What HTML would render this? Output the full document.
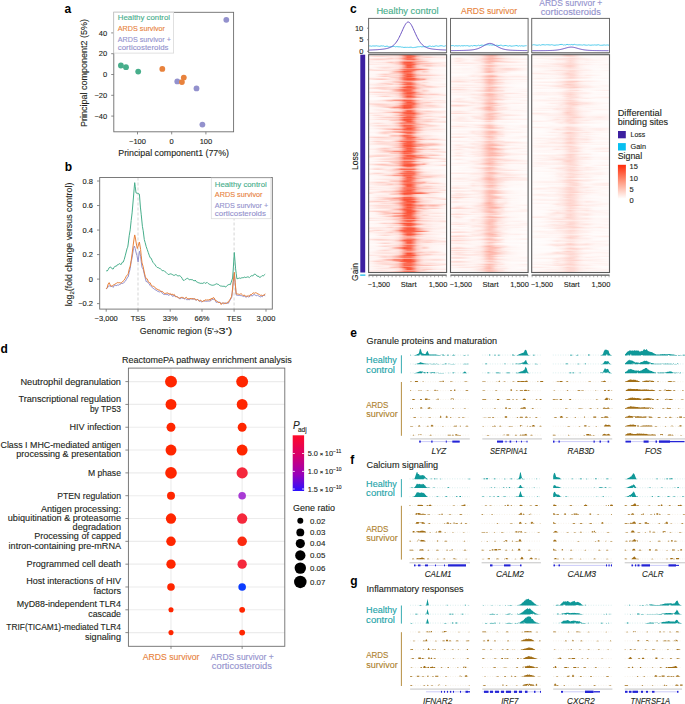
<!DOCTYPE html>
<html><head><meta charset="utf-8"><style>
html,body{margin:0;padding:0;background:#fff;}
svg{display:block;}
text{font-family:"Liberation Sans", sans-serif;stroke-width:0.12px;}
stop{stop-color:#fa2806;}
</style></head><body>
<svg width="685" height="704" viewBox="0 0 685 704" fill="#231f20">
<defs><linearGradient id="h0_0"><stop offset="0" stop-opacity="0.03"/><stop offset="0.04" stop-opacity="0.04"/><stop offset="0.08" stop-opacity="0.04"/><stop offset="0.12" stop-opacity="0.05"/><stop offset="0.17" stop-opacity="0.07"/><stop offset="0.21" stop-opacity="0.09"/><stop offset="0.25" stop-opacity="0.12"/><stop offset="0.29" stop-opacity="0.17"/><stop offset="0.33" stop-opacity="0.23"/><stop offset="0.38" stop-opacity="0.31"/><stop offset="0.42" stop-opacity="0.5"/><stop offset="0.46" stop-opacity="0.94"/><stop offset="0.5" stop-opacity="1"/><stop offset="0.54" stop-opacity="1"/><stop offset="0.58" stop-opacity="0.67"/><stop offset="0.62" stop-opacity="0.47"/><stop offset="0.67" stop-opacity="0.43"/><stop offset="0.71" stop-opacity="0.41"/><stop offset="0.75" stop-opacity="0.39"/><stop offset="0.79" stop-opacity="0.34"/><stop offset="0.83" stop-opacity="0.27"/><stop offset="0.88" stop-opacity="0.2"/><stop offset="0.92" stop-opacity="0.14"/><stop offset="0.96" stop-opacity="0.09"/><stop offset="1" stop-opacity="0.06"/></linearGradient>
<linearGradient id="h0_1"><stop offset="0" stop-opacity="0.03"/><stop offset="0.04" stop-opacity="0.04"/><stop offset="0.08" stop-opacity="0.04"/><stop offset="0.12" stop-opacity="0.04"/><stop offset="0.17" stop-opacity="0.05"/><stop offset="0.21" stop-opacity="0.06"/><stop offset="0.25" stop-opacity="0.08"/><stop offset="0.29" stop-opacity="0.28"/><stop offset="0.33" stop-opacity="0.35"/><stop offset="0.38" stop-opacity="0.36"/><stop offset="0.42" stop-opacity="0.62"/><stop offset="0.46" stop-opacity="0.99"/><stop offset="0.5" stop-opacity="1"/><stop offset="0.54" stop-opacity="0.85"/><stop offset="0.58" stop-opacity="0.45"/><stop offset="0.62" stop-opacity="0.24"/><stop offset="0.67" stop-opacity="0.18"/><stop offset="0.71" stop-opacity="0.17"/><stop offset="0.75" stop-opacity="0.15"/><stop offset="0.79" stop-opacity="0.12"/><stop offset="0.83" stop-opacity="0.08"/><stop offset="0.88" stop-opacity="0.06"/><stop offset="0.92" stop-opacity="0.04"/><stop offset="0.96" stop-opacity="0.04"/><stop offset="1" stop-opacity="0.03"/></linearGradient>
<linearGradient id="h0_2"><stop offset="0" stop-opacity="0.03"/><stop offset="0.04" stop-opacity="0.04"/><stop offset="0.08" stop-opacity="0.05"/><stop offset="0.12" stop-opacity="0.12"/><stop offset="0.17" stop-opacity="0.23"/><stop offset="0.21" stop-opacity="0.3"/><stop offset="0.25" stop-opacity="0.25"/><stop offset="0.29" stop-opacity="0.16"/><stop offset="0.33" stop-opacity="0.12"/><stop offset="0.38" stop-opacity="0.15"/><stop offset="0.42" stop-opacity="0.27"/><stop offset="0.46" stop-opacity="0.59"/><stop offset="0.5" stop-opacity="1"/><stop offset="0.54" stop-opacity="1"/><stop offset="0.58" stop-opacity="0.69"/><stop offset="0.62" stop-opacity="0.32"/><stop offset="0.67" stop-opacity="0.16"/><stop offset="0.71" stop-opacity="0.11"/><stop offset="0.75" stop-opacity="0.09"/><stop offset="0.79" stop-opacity="0.07"/><stop offset="0.83" stop-opacity="0.06"/><stop offset="0.88" stop-opacity="0.05"/><stop offset="0.92" stop-opacity="0.04"/><stop offset="0.96" stop-opacity="0.04"/><stop offset="1" stop-opacity="0.03"/></linearGradient>
<linearGradient id="h0_3"><stop offset="0" stop-opacity="0.07"/><stop offset="0.04" stop-opacity="0.09"/><stop offset="0.08" stop-opacity="0.1"/><stop offset="0.12" stop-opacity="0.12"/><stop offset="0.17" stop-opacity="0.13"/><stop offset="0.21" stop-opacity="0.15"/><stop offset="0.25" stop-opacity="0.25"/><stop offset="0.29" stop-opacity="0.33"/><stop offset="0.33" stop-opacity="0.22"/><stop offset="0.38" stop-opacity="0.3"/><stop offset="0.42" stop-opacity="0.54"/><stop offset="0.46" stop-opacity="0.89"/><stop offset="0.5" stop-opacity="1"/><stop offset="0.54" stop-opacity="1"/><stop offset="0.58" stop-opacity="0.71"/><stop offset="0.62" stop-opacity="0.39"/><stop offset="0.67" stop-opacity="0.2"/><stop offset="0.71" stop-opacity="0.12"/><stop offset="0.75" stop-opacity="0.08"/><stop offset="0.79" stop-opacity="0.07"/><stop offset="0.83" stop-opacity="0.06"/><stop offset="0.88" stop-opacity="0.07"/><stop offset="0.92" stop-opacity="0.08"/><stop offset="0.96" stop-opacity="0.09"/><stop offset="1" stop-opacity="0.08"/></linearGradient>
<linearGradient id="h0_4"><stop offset="0" stop-opacity="0.1"/><stop offset="0.04" stop-opacity="0.15"/><stop offset="0.08" stop-opacity="0.21"/><stop offset="0.12" stop-opacity="0.28"/><stop offset="0.17" stop-opacity="0.32"/><stop offset="0.21" stop-opacity="0.28"/><stop offset="0.25" stop-opacity="0.19"/><stop offset="0.29" stop-opacity="0.13"/><stop offset="0.33" stop-opacity="0.14"/><stop offset="0.38" stop-opacity="0.24"/><stop offset="0.42" stop-opacity="0.48"/><stop offset="0.46" stop-opacity="0.84"/><stop offset="0.5" stop-opacity="1"/><stop offset="0.54" stop-opacity="1"/><stop offset="0.58" stop-opacity="0.87"/><stop offset="0.62" stop-opacity="0.64"/><stop offset="0.67" stop-opacity="0.49"/><stop offset="0.71" stop-opacity="0.57"/><stop offset="0.75" stop-opacity="0.19"/><stop offset="0.79" stop-opacity="0.09"/><stop offset="0.83" stop-opacity="0.06"/><stop offset="0.88" stop-opacity="0.05"/><stop offset="0.92" stop-opacity="0.04"/><stop offset="0.96" stop-opacity="0.04"/><stop offset="1" stop-opacity="0.03"/></linearGradient>
<linearGradient id="h0_5"><stop offset="0" stop-opacity="0.06"/><stop offset="0.04" stop-opacity="0.13"/><stop offset="0.08" stop-opacity="0.22"/><stop offset="0.12" stop-opacity="0.26"/><stop offset="0.17" stop-opacity="0.21"/><stop offset="0.21" stop-opacity="0.14"/><stop offset="0.25" stop-opacity="0.11"/><stop offset="0.29" stop-opacity="0.15"/><stop offset="0.33" stop-opacity="0.28"/><stop offset="0.38" stop-opacity="0.53"/><stop offset="0.42" stop-opacity="0.91"/><stop offset="0.46" stop-opacity="1"/><stop offset="0.5" stop-opacity="1"/><stop offset="0.54" stop-opacity="1"/><stop offset="0.58" stop-opacity="0.92"/><stop offset="0.62" stop-opacity="0.46"/><stop offset="0.67" stop-opacity="0.19"/><stop offset="0.71" stop-opacity="0.1"/><stop offset="0.75" stop-opacity="0.07"/><stop offset="0.79" stop-opacity="0.06"/><stop offset="0.83" stop-opacity="0.05"/><stop offset="0.88" stop-opacity="0.04"/><stop offset="0.92" stop-opacity="0.04"/><stop offset="0.96" stop-opacity="0.03"/><stop offset="1" stop-opacity="0.03"/></linearGradient>
<linearGradient id="h0_6"><stop offset="0" stop-opacity="0.04"/><stop offset="0.04" stop-opacity="0.05"/><stop offset="0.08" stop-opacity="0.08"/><stop offset="0.12" stop-opacity="0.12"/><stop offset="0.17" stop-opacity="0.15"/><stop offset="0.21" stop-opacity="0.17"/><stop offset="0.25" stop-opacity="0.17"/><stop offset="0.29" stop-opacity="0.16"/><stop offset="0.33" stop-opacity="0.15"/><stop offset="0.38" stop-opacity="0.17"/><stop offset="0.42" stop-opacity="0.3"/><stop offset="0.46" stop-opacity="0.63"/><stop offset="0.5" stop-opacity="1"/><stop offset="0.54" stop-opacity="1"/><stop offset="0.58" stop-opacity="0.69"/><stop offset="0.62" stop-opacity="0.33"/><stop offset="0.67" stop-opacity="0.16"/><stop offset="0.71" stop-opacity="0.11"/><stop offset="0.75" stop-opacity="0.09"/><stop offset="0.79" stop-opacity="0.07"/><stop offset="0.83" stop-opacity="0.06"/><stop offset="0.88" stop-opacity="0.05"/><stop offset="0.92" stop-opacity="0.04"/><stop offset="0.96" stop-opacity="0.04"/><stop offset="1" stop-opacity="0.03"/></linearGradient>
<linearGradient id="h0_7"><stop offset="0" stop-opacity="0.03"/><stop offset="0.04" stop-opacity="0.03"/><stop offset="0.08" stop-opacity="0.04"/><stop offset="0.12" stop-opacity="0.04"/><stop offset="0.17" stop-opacity="0.06"/><stop offset="0.21" stop-opacity="0.08"/><stop offset="0.25" stop-opacity="0.12"/><stop offset="0.29" stop-opacity="0.17"/><stop offset="0.33" stop-opacity="0.2"/><stop offset="0.38" stop-opacity="0.26"/><stop offset="0.42" stop-opacity="0.45"/><stop offset="0.46" stop-opacity="0.8"/><stop offset="0.5" stop-opacity="1"/><stop offset="0.54" stop-opacity="1"/><stop offset="0.58" stop-opacity="0.7"/><stop offset="0.62" stop-opacity="0.36"/><stop offset="0.67" stop-opacity="0.18"/><stop offset="0.71" stop-opacity="0.11"/><stop offset="0.75" stop-opacity="0.08"/><stop offset="0.79" stop-opacity="0.07"/><stop offset="0.83" stop-opacity="0.05"/><stop offset="0.88" stop-opacity="0.05"/><stop offset="0.92" stop-opacity="0.04"/><stop offset="0.96" stop-opacity="0.04"/><stop offset="1" stop-opacity="0.03"/></linearGradient>
<linearGradient id="h0_8"><stop offset="0" stop-opacity="0.04"/><stop offset="0.04" stop-opacity="0.06"/><stop offset="0.08" stop-opacity="0.1"/><stop offset="0.12" stop-opacity="0.15"/><stop offset="0.17" stop-opacity="0.22"/><stop offset="0.21" stop-opacity="0.27"/><stop offset="0.25" stop-opacity="0.29"/><stop offset="0.29" stop-opacity="0.29"/><stop offset="0.33" stop-opacity="0.29"/><stop offset="0.38" stop-opacity="0.39"/><stop offset="0.42" stop-opacity="0.64"/><stop offset="0.46" stop-opacity="0.98"/><stop offset="0.5" stop-opacity="1"/><stop offset="0.54" stop-opacity="1"/><stop offset="0.58" stop-opacity="0.88"/><stop offset="0.62" stop-opacity="0.5"/><stop offset="0.67" stop-opacity="0.23"/><stop offset="0.71" stop-opacity="0.11"/><stop offset="0.75" stop-opacity="0.08"/><stop offset="0.79" stop-opacity="0.07"/><stop offset="0.83" stop-opacity="0.08"/><stop offset="0.88" stop-opacity="0.11"/><stop offset="0.92" stop-opacity="0.15"/><stop offset="0.96" stop-opacity="0.2"/><stop offset="1" stop-opacity="0.21"/></linearGradient>
<linearGradient id="h0_9"><stop offset="0" stop-opacity="0.15"/><stop offset="0.04" stop-opacity="0.21"/><stop offset="0.08" stop-opacity="0.26"/><stop offset="0.12" stop-opacity="0.28"/><stop offset="0.17" stop-opacity="0.27"/><stop offset="0.21" stop-opacity="0.24"/><stop offset="0.25" stop-opacity="0.2"/><stop offset="0.29" stop-opacity="0.17"/><stop offset="0.33" stop-opacity="0.15"/><stop offset="0.38" stop-opacity="0.19"/><stop offset="0.42" stop-opacity="0.33"/><stop offset="0.46" stop-opacity="0.67"/><stop offset="0.5" stop-opacity="1"/><stop offset="0.54" stop-opacity="1"/><stop offset="0.58" stop-opacity="1"/><stop offset="0.62" stop-opacity="0.56"/><stop offset="0.67" stop-opacity="0.28"/><stop offset="0.71" stop-opacity="0.17"/><stop offset="0.75" stop-opacity="0.13"/><stop offset="0.79" stop-opacity="0.1"/><stop offset="0.83" stop-opacity="0.07"/><stop offset="0.88" stop-opacity="0.06"/><stop offset="0.92" stop-opacity="0.05"/><stop offset="0.96" stop-opacity="0.04"/><stop offset="1" stop-opacity="0.03"/></linearGradient>
<linearGradient id="h0_10"><stop offset="0" stop-opacity="0.03"/><stop offset="0.04" stop-opacity="0.03"/><stop offset="0.08" stop-opacity="0.04"/><stop offset="0.12" stop-opacity="0.04"/><stop offset="0.17" stop-opacity="0.05"/><stop offset="0.21" stop-opacity="0.05"/><stop offset="0.25" stop-opacity="0.07"/><stop offset="0.29" stop-opacity="0.08"/><stop offset="0.33" stop-opacity="0.13"/><stop offset="0.38" stop-opacity="0.26"/><stop offset="0.42" stop-opacity="0.48"/><stop offset="0.46" stop-opacity="0.75"/><stop offset="0.5" stop-opacity="1"/><stop offset="0.54" stop-opacity="1"/><stop offset="0.58" stop-opacity="0.66"/><stop offset="0.62" stop-opacity="0.33"/><stop offset="0.67" stop-opacity="0.23"/><stop offset="0.71" stop-opacity="0.21"/><stop offset="0.75" stop-opacity="0.19"/><stop offset="0.79" stop-opacity="0.16"/><stop offset="0.83" stop-opacity="0.14"/><stop offset="0.88" stop-opacity="0.14"/><stop offset="0.92" stop-opacity="0.16"/><stop offset="0.96" stop-opacity="0.18"/><stop offset="1" stop-opacity="0.17"/></linearGradient>
<linearGradient id="h0_11"><stop offset="0" stop-opacity="0.05"/><stop offset="0.04" stop-opacity="0.08"/><stop offset="0.08" stop-opacity="0.12"/><stop offset="0.12" stop-opacity="0.17"/><stop offset="0.17" stop-opacity="0.2"/><stop offset="0.21" stop-opacity="0.2"/><stop offset="0.25" stop-opacity="0.18"/><stop offset="0.29" stop-opacity="0.16"/><stop offset="0.33" stop-opacity="0.19"/><stop offset="0.38" stop-opacity="0.32"/><stop offset="0.42" stop-opacity="0.6"/><stop offset="0.46" stop-opacity="0.97"/><stop offset="0.5" stop-opacity="1"/><stop offset="0.54" stop-opacity="1"/><stop offset="0.58" stop-opacity="0.67"/><stop offset="0.62" stop-opacity="0.37"/><stop offset="0.67" stop-opacity="0.22"/><stop offset="0.71" stop-opacity="0.19"/><stop offset="0.75" stop-opacity="0.22"/><stop offset="0.79" stop-opacity="0.23"/><stop offset="0.83" stop-opacity="0.2"/><stop offset="0.88" stop-opacity="0.13"/><stop offset="0.92" stop-opacity="0.08"/><stop offset="0.96" stop-opacity="0.05"/><stop offset="1" stop-opacity="0.03"/></linearGradient>
<linearGradient id="h0_12"><stop offset="0" stop-opacity="0.08"/><stop offset="0.04" stop-opacity="0.11"/><stop offset="0.08" stop-opacity="0.14"/><stop offset="0.12" stop-opacity="0.17"/><stop offset="0.17" stop-opacity="0.19"/><stop offset="0.21" stop-opacity="0.19"/><stop offset="0.25" stop-opacity="0.19"/><stop offset="0.29" stop-opacity="0.18"/><stop offset="0.33" stop-opacity="0.19"/><stop offset="0.38" stop-opacity="0.25"/><stop offset="0.42" stop-opacity="0.45"/><stop offset="0.46" stop-opacity="0.8"/><stop offset="0.5" stop-opacity="1"/><stop offset="0.54" stop-opacity="1"/><stop offset="0.58" stop-opacity="0.82"/><stop offset="0.62" stop-opacity="0.6"/><stop offset="0.67" stop-opacity="0.61"/><stop offset="0.71" stop-opacity="0.43"/><stop offset="0.75" stop-opacity="0.31"/><stop offset="0.79" stop-opacity="0.36"/><stop offset="0.83" stop-opacity="0.38"/><stop offset="0.88" stop-opacity="0.3"/><stop offset="0.92" stop-opacity="0.18"/><stop offset="0.96" stop-opacity="0.09"/><stop offset="1" stop-opacity="0.05"/></linearGradient>
<linearGradient id="h0_13"><stop offset="0" stop-opacity="0.03"/><stop offset="0.04" stop-opacity="0.04"/><stop offset="0.08" stop-opacity="0.05"/><stop offset="0.12" stop-opacity="0.08"/><stop offset="0.17" stop-opacity="0.14"/><stop offset="0.21" stop-opacity="0.24"/><stop offset="0.25" stop-opacity="0.34"/><stop offset="0.29" stop-opacity="0.4"/><stop offset="0.33" stop-opacity="0.62"/><stop offset="0.38" stop-opacity="0.69"/><stop offset="0.42" stop-opacity="0.71"/><stop offset="0.46" stop-opacity="1"/><stop offset="0.5" stop-opacity="1"/><stop offset="0.54" stop-opacity="1"/><stop offset="0.58" stop-opacity="0.73"/><stop offset="0.62" stop-opacity="0.42"/><stop offset="0.67" stop-opacity="0.22"/><stop offset="0.71" stop-opacity="0.14"/><stop offset="0.75" stop-opacity="0.13"/><stop offset="0.79" stop-opacity="0.14"/><stop offset="0.83" stop-opacity="0.16"/><stop offset="0.88" stop-opacity="0.16"/><stop offset="0.92" stop-opacity="0.14"/><stop offset="0.96" stop-opacity="0.1"/><stop offset="1" stop-opacity="0.06"/></linearGradient>
<linearGradient id="h0_14"><stop offset="0" stop-opacity="0.03"/><stop offset="0.04" stop-opacity="0.03"/><stop offset="0.08" stop-opacity="0.04"/><stop offset="0.12" stop-opacity="0.04"/><stop offset="0.17" stop-opacity="0.05"/><stop offset="0.21" stop-opacity="0.06"/><stop offset="0.25" stop-opacity="0.07"/><stop offset="0.29" stop-opacity="0.09"/><stop offset="0.33" stop-opacity="0.12"/><stop offset="0.38" stop-opacity="0.19"/><stop offset="0.42" stop-opacity="0.39"/><stop offset="0.46" stop-opacity="0.77"/><stop offset="0.5" stop-opacity="1"/><stop offset="0.54" stop-opacity="1"/><stop offset="0.58" stop-opacity="0.92"/><stop offset="0.62" stop-opacity="0.63"/><stop offset="0.67" stop-opacity="0.43"/><stop offset="0.71" stop-opacity="0.25"/><stop offset="0.75" stop-opacity="0.16"/><stop offset="0.79" stop-opacity="0.13"/><stop offset="0.83" stop-opacity="0.1"/><stop offset="0.88" stop-opacity="0.08"/><stop offset="0.92" stop-opacity="0.06"/><stop offset="0.96" stop-opacity="0.04"/><stop offset="1" stop-opacity="0.04"/></linearGradient>
<linearGradient id="h0_15"><stop offset="0" stop-opacity="0.03"/><stop offset="0.04" stop-opacity="0.03"/><stop offset="0.08" stop-opacity="0.04"/><stop offset="0.12" stop-opacity="0.04"/><stop offset="0.17" stop-opacity="0.05"/><stop offset="0.21" stop-opacity="0.05"/><stop offset="0.25" stop-opacity="0.07"/><stop offset="0.29" stop-opacity="0.08"/><stop offset="0.33" stop-opacity="0.1"/><stop offset="0.38" stop-opacity="0.14"/><stop offset="0.42" stop-opacity="0.22"/><stop offset="0.46" stop-opacity="0.51"/><stop offset="0.5" stop-opacity="1"/><stop offset="0.54" stop-opacity="1"/><stop offset="0.58" stop-opacity="0.62"/><stop offset="0.62" stop-opacity="0.28"/><stop offset="0.67" stop-opacity="0.19"/><stop offset="0.71" stop-opacity="0.24"/><stop offset="0.75" stop-opacity="0.29"/><stop offset="0.79" stop-opacity="0.26"/><stop offset="0.83" stop-opacity="0.17"/><stop offset="0.88" stop-opacity="0.12"/><stop offset="0.92" stop-opacity="0.11"/><stop offset="0.96" stop-opacity="0.11"/><stop offset="1" stop-opacity="0.11"/></linearGradient>
<linearGradient id="h0_16"><stop offset="0" stop-opacity="0.04"/><stop offset="0.04" stop-opacity="0.05"/><stop offset="0.08" stop-opacity="0.06"/><stop offset="0.12" stop-opacity="0.1"/><stop offset="0.17" stop-opacity="0.21"/><stop offset="0.21" stop-opacity="0.27"/><stop offset="0.25" stop-opacity="0.23"/><stop offset="0.29" stop-opacity="0.27"/><stop offset="0.33" stop-opacity="0.39"/><stop offset="0.38" stop-opacity="0.56"/><stop offset="0.42" stop-opacity="0.8"/><stop offset="0.46" stop-opacity="1"/><stop offset="0.5" stop-opacity="1"/><stop offset="0.54" stop-opacity="1"/><stop offset="0.58" stop-opacity="0.68"/><stop offset="0.62" stop-opacity="0.35"/><stop offset="0.67" stop-opacity="0.18"/><stop offset="0.71" stop-opacity="0.11"/><stop offset="0.75" stop-opacity="0.08"/><stop offset="0.79" stop-opacity="0.06"/><stop offset="0.83" stop-opacity="0.05"/><stop offset="0.88" stop-opacity="0.05"/><stop offset="0.92" stop-opacity="0.04"/><stop offset="0.96" stop-opacity="0.04"/><stop offset="1" stop-opacity="0.03"/></linearGradient>
<linearGradient id="h0_17"><stop offset="0" stop-opacity="0.03"/><stop offset="0.04" stop-opacity="0.04"/><stop offset="0.08" stop-opacity="0.04"/><stop offset="0.12" stop-opacity="0.04"/><stop offset="0.17" stop-opacity="0.05"/><stop offset="0.21" stop-opacity="0.06"/><stop offset="0.25" stop-opacity="0.08"/><stop offset="0.29" stop-opacity="0.15"/><stop offset="0.33" stop-opacity="0.32"/><stop offset="0.38" stop-opacity="0.51"/><stop offset="0.42" stop-opacity="0.7"/><stop offset="0.46" stop-opacity="1"/><stop offset="0.5" stop-opacity="1"/><stop offset="0.54" stop-opacity="0.93"/><stop offset="0.58" stop-opacity="0.51"/><stop offset="0.62" stop-opacity="0.25"/><stop offset="0.67" stop-opacity="0.17"/><stop offset="0.71" stop-opacity="0.27"/><stop offset="0.75" stop-opacity="0.2"/><stop offset="0.79" stop-opacity="0.07"/><stop offset="0.83" stop-opacity="0.05"/><stop offset="0.88" stop-opacity="0.04"/><stop offset="0.92" stop-opacity="0.04"/><stop offset="0.96" stop-opacity="0.03"/><stop offset="1" stop-opacity="0.03"/></linearGradient>
<linearGradient id="h0_18"><stop offset="0" stop-opacity="0.19"/><stop offset="0.04" stop-opacity="0.14"/><stop offset="0.08" stop-opacity="0.07"/><stop offset="0.12" stop-opacity="0.05"/><stop offset="0.17" stop-opacity="0.05"/><stop offset="0.21" stop-opacity="0.07"/><stop offset="0.25" stop-opacity="0.09"/><stop offset="0.29" stop-opacity="0.13"/><stop offset="0.33" stop-opacity="0.21"/><stop offset="0.38" stop-opacity="0.38"/><stop offset="0.42" stop-opacity="0.69"/><stop offset="0.46" stop-opacity="1"/><stop offset="0.5" stop-opacity="1"/><stop offset="0.54" stop-opacity="1"/><stop offset="0.58" stop-opacity="1"/><stop offset="0.62" stop-opacity="1"/><stop offset="0.67" stop-opacity="0.89"/><stop offset="0.71" stop-opacity="0.73"/><stop offset="0.75" stop-opacity="0.48"/><stop offset="0.79" stop-opacity="0.17"/><stop offset="0.83" stop-opacity="0.09"/><stop offset="0.88" stop-opacity="0.06"/><stop offset="0.92" stop-opacity="0.05"/><stop offset="0.96" stop-opacity="0.04"/><stop offset="1" stop-opacity="0.03"/></linearGradient>
<linearGradient id="h0_19"><stop offset="0" stop-opacity="0.14"/><stop offset="0.04" stop-opacity="0.14"/><stop offset="0.08" stop-opacity="0.13"/><stop offset="0.12" stop-opacity="0.12"/><stop offset="0.17" stop-opacity="0.11"/><stop offset="0.21" stop-opacity="0.1"/><stop offset="0.25" stop-opacity="0.09"/><stop offset="0.29" stop-opacity="0.11"/><stop offset="0.33" stop-opacity="0.15"/><stop offset="0.38" stop-opacity="0.27"/><stop offset="0.42" stop-opacity="0.5"/><stop offset="0.46" stop-opacity="0.84"/><stop offset="0.5" stop-opacity="1"/><stop offset="0.54" stop-opacity="1"/><stop offset="0.58" stop-opacity="1"/><stop offset="0.62" stop-opacity="0.57"/><stop offset="0.67" stop-opacity="0.3"/><stop offset="0.71" stop-opacity="0.22"/><stop offset="0.75" stop-opacity="0.18"/><stop offset="0.79" stop-opacity="0.14"/><stop offset="0.83" stop-opacity="0.1"/><stop offset="0.88" stop-opacity="0.08"/><stop offset="0.92" stop-opacity="0.09"/><stop offset="0.96" stop-opacity="0.08"/><stop offset="1" stop-opacity="0.05"/></linearGradient>
<linearGradient id="h1_0"><stop offset="0" stop-opacity="0.02"/><stop offset="0.04" stop-opacity="0.02"/><stop offset="0.08" stop-opacity="0.02"/><stop offset="0.12" stop-opacity="0.02"/><stop offset="0.17" stop-opacity="0.03"/><stop offset="0.21" stop-opacity="0.04"/><stop offset="0.25" stop-opacity="0.08"/><stop offset="0.29" stop-opacity="0.12"/><stop offset="0.33" stop-opacity="0.12"/><stop offset="0.38" stop-opacity="0.12"/><stop offset="0.42" stop-opacity="0.16"/><stop offset="0.46" stop-opacity="0.23"/><stop offset="0.5" stop-opacity="0.31"/><stop offset="0.54" stop-opacity="0.32"/><stop offset="0.58" stop-opacity="0.25"/><stop offset="0.62" stop-opacity="0.17"/><stop offset="0.67" stop-opacity="0.14"/><stop offset="0.71" stop-opacity="0.15"/><stop offset="0.75" stop-opacity="0.12"/><stop offset="0.79" stop-opacity="0.09"/><stop offset="0.83" stop-opacity="0.09"/><stop offset="0.88" stop-opacity="0.09"/><stop offset="0.92" stop-opacity="0.09"/><stop offset="0.96" stop-opacity="0.08"/><stop offset="1" stop-opacity="0.07"/></linearGradient>
<linearGradient id="h1_1"><stop offset="0" stop-opacity="0.05"/><stop offset="0.04" stop-opacity="0.07"/><stop offset="0.08" stop-opacity="0.1"/><stop offset="0.12" stop-opacity="0.13"/><stop offset="0.17" stop-opacity="0.14"/><stop offset="0.21" stop-opacity="0.15"/><stop offset="0.25" stop-opacity="0.14"/><stop offset="0.29" stop-opacity="0.13"/><stop offset="0.33" stop-opacity="0.11"/><stop offset="0.38" stop-opacity="0.1"/><stop offset="0.42" stop-opacity="0.14"/><stop offset="0.46" stop-opacity="0.26"/><stop offset="0.5" stop-opacity="0.33"/><stop offset="0.54" stop-opacity="0.23"/><stop offset="0.58" stop-opacity="0.11"/><stop offset="0.62" stop-opacity="0.06"/><stop offset="0.67" stop-opacity="0.05"/><stop offset="0.71" stop-opacity="0.04"/><stop offset="0.75" stop-opacity="0.03"/><stop offset="0.79" stop-opacity="0.03"/><stop offset="0.83" stop-opacity="0.03"/><stop offset="0.88" stop-opacity="0.02"/><stop offset="0.92" stop-opacity="0.02"/><stop offset="0.96" stop-opacity="0.02"/><stop offset="1" stop-opacity="0.02"/></linearGradient>
<linearGradient id="h1_2"><stop offset="0" stop-opacity="0.04"/><stop offset="0.04" stop-opacity="0.04"/><stop offset="0.08" stop-opacity="0.04"/><stop offset="0.12" stop-opacity="0.04"/><stop offset="0.17" stop-opacity="0.04"/><stop offset="0.21" stop-opacity="0.04"/><stop offset="0.25" stop-opacity="0.04"/><stop offset="0.29" stop-opacity="0.05"/><stop offset="0.33" stop-opacity="0.07"/><stop offset="0.38" stop-opacity="0.11"/><stop offset="0.42" stop-opacity="0.2"/><stop offset="0.46" stop-opacity="0.34"/><stop offset="0.5" stop-opacity="0.41"/><stop offset="0.54" stop-opacity="0.3"/><stop offset="0.58" stop-opacity="0.17"/><stop offset="0.62" stop-opacity="0.12"/><stop offset="0.67" stop-opacity="0.13"/><stop offset="0.71" stop-opacity="0.12"/><stop offset="0.75" stop-opacity="0.06"/><stop offset="0.79" stop-opacity="0.03"/><stop offset="0.83" stop-opacity="0.03"/><stop offset="0.88" stop-opacity="0.02"/><stop offset="0.92" stop-opacity="0.02"/><stop offset="0.96" stop-opacity="0.02"/><stop offset="1" stop-opacity="0.02"/></linearGradient>
<linearGradient id="h1_3"><stop offset="0" stop-opacity="0.02"/><stop offset="0.04" stop-opacity="0.02"/><stop offset="0.08" stop-opacity="0.02"/><stop offset="0.12" stop-opacity="0.03"/><stop offset="0.17" stop-opacity="0.03"/><stop offset="0.21" stop-opacity="0.03"/><stop offset="0.25" stop-opacity="0.08"/><stop offset="0.29" stop-opacity="0.13"/><stop offset="0.33" stop-opacity="0.09"/><stop offset="0.38" stop-opacity="0.13"/><stop offset="0.42" stop-opacity="0.21"/><stop offset="0.46" stop-opacity="0.31"/><stop offset="0.5" stop-opacity="0.39"/><stop offset="0.54" stop-opacity="0.43"/><stop offset="0.58" stop-opacity="0.36"/><stop offset="0.62" stop-opacity="0.2"/><stop offset="0.67" stop-opacity="0.13"/><stop offset="0.71" stop-opacity="0.09"/><stop offset="0.75" stop-opacity="0.08"/><stop offset="0.79" stop-opacity="0.09"/><stop offset="0.83" stop-opacity="0.1"/><stop offset="0.88" stop-opacity="0.1"/><stop offset="0.92" stop-opacity="0.08"/><stop offset="0.96" stop-opacity="0.06"/><stop offset="1" stop-opacity="0.04"/></linearGradient>
<linearGradient id="h1_4"><stop offset="0" stop-opacity="0.06"/><stop offset="0.04" stop-opacity="0.11"/><stop offset="0.08" stop-opacity="0.12"/><stop offset="0.12" stop-opacity="0.08"/><stop offset="0.17" stop-opacity="0.07"/><stop offset="0.21" stop-opacity="0.07"/><stop offset="0.25" stop-opacity="0.06"/><stop offset="0.29" stop-opacity="0.06"/><stop offset="0.33" stop-opacity="0.06"/><stop offset="0.38" stop-opacity="0.07"/><stop offset="0.42" stop-opacity="0.13"/><stop offset="0.46" stop-opacity="0.25"/><stop offset="0.5" stop-opacity="0.35"/><stop offset="0.54" stop-opacity="0.3"/><stop offset="0.58" stop-opacity="0.19"/><stop offset="0.62" stop-opacity="0.09"/><stop offset="0.67" stop-opacity="0.08"/><stop offset="0.71" stop-opacity="0.09"/><stop offset="0.75" stop-opacity="0.05"/><stop offset="0.79" stop-opacity="0.03"/><stop offset="0.83" stop-opacity="0.03"/><stop offset="0.88" stop-opacity="0.03"/><stop offset="0.92" stop-opacity="0.02"/><stop offset="0.96" stop-opacity="0.02"/><stop offset="1" stop-opacity="0.02"/></linearGradient>
<linearGradient id="h1_5"><stop offset="0" stop-opacity="0.02"/><stop offset="0.04" stop-opacity="0.02"/><stop offset="0.08" stop-opacity="0.02"/><stop offset="0.12" stop-opacity="0.02"/><stop offset="0.17" stop-opacity="0.03"/><stop offset="0.21" stop-opacity="0.03"/><stop offset="0.25" stop-opacity="0.03"/><stop offset="0.29" stop-opacity="0.04"/><stop offset="0.33" stop-opacity="0.05"/><stop offset="0.38" stop-opacity="0.09"/><stop offset="0.42" stop-opacity="0.16"/><stop offset="0.46" stop-opacity="0.26"/><stop offset="0.5" stop-opacity="0.34"/><stop offset="0.54" stop-opacity="0.33"/><stop offset="0.58" stop-opacity="0.27"/><stop offset="0.62" stop-opacity="0.19"/><stop offset="0.67" stop-opacity="0.13"/><stop offset="0.71" stop-opacity="0.08"/><stop offset="0.75" stop-opacity="0.05"/><stop offset="0.79" stop-opacity="0.04"/><stop offset="0.83" stop-opacity="0.03"/><stop offset="0.88" stop-opacity="0.03"/><stop offset="0.92" stop-opacity="0.02"/><stop offset="0.96" stop-opacity="0.02"/><stop offset="1" stop-opacity="0.02"/></linearGradient>
<linearGradient id="h1_6"><stop offset="0" stop-opacity="0.05"/><stop offset="0.04" stop-opacity="0.07"/><stop offset="0.08" stop-opacity="0.09"/><stop offset="0.12" stop-opacity="0.1"/><stop offset="0.17" stop-opacity="0.09"/><stop offset="0.21" stop-opacity="0.08"/><stop offset="0.25" stop-opacity="0.06"/><stop offset="0.29" stop-opacity="0.06"/><stop offset="0.33" stop-opacity="0.08"/><stop offset="0.38" stop-opacity="0.13"/><stop offset="0.42" stop-opacity="0.23"/><stop offset="0.46" stop-opacity="0.34"/><stop offset="0.5" stop-opacity="0.41"/><stop offset="0.54" stop-opacity="0.36"/><stop offset="0.58" stop-opacity="0.27"/><stop offset="0.62" stop-opacity="0.2"/><stop offset="0.67" stop-opacity="0.16"/><stop offset="0.71" stop-opacity="0.13"/><stop offset="0.75" stop-opacity="0.11"/><stop offset="0.79" stop-opacity="0.1"/><stop offset="0.83" stop-opacity="0.09"/><stop offset="0.88" stop-opacity="0.09"/><stop offset="0.92" stop-opacity="0.09"/><stop offset="0.96" stop-opacity="0.09"/><stop offset="1" stop-opacity="0.07"/></linearGradient>
<linearGradient id="h1_7"><stop offset="0" stop-opacity="0.03"/><stop offset="0.04" stop-opacity="0.06"/><stop offset="0.08" stop-opacity="0.13"/><stop offset="0.12" stop-opacity="0.13"/><stop offset="0.17" stop-opacity="0.06"/><stop offset="0.21" stop-opacity="0.03"/><stop offset="0.25" stop-opacity="0.03"/><stop offset="0.29" stop-opacity="0.04"/><stop offset="0.33" stop-opacity="0.07"/><stop offset="0.38" stop-opacity="0.11"/><stop offset="0.42" stop-opacity="0.19"/><stop offset="0.46" stop-opacity="0.28"/><stop offset="0.5" stop-opacity="0.37"/><stop offset="0.54" stop-opacity="0.4"/><stop offset="0.58" stop-opacity="0.38"/><stop offset="0.62" stop-opacity="0.32"/><stop offset="0.67" stop-opacity="0.22"/><stop offset="0.71" stop-opacity="0.15"/><stop offset="0.75" stop-opacity="0.1"/><stop offset="0.79" stop-opacity="0.07"/><stop offset="0.83" stop-opacity="0.06"/><stop offset="0.88" stop-opacity="0.04"/><stop offset="0.92" stop-opacity="0.03"/><stop offset="0.96" stop-opacity="0.03"/><stop offset="1" stop-opacity="0.02"/></linearGradient>
<linearGradient id="h1_8"><stop offset="0" stop-opacity="0.04"/><stop offset="0.04" stop-opacity="0.05"/><stop offset="0.08" stop-opacity="0.06"/><stop offset="0.12" stop-opacity="0.06"/><stop offset="0.17" stop-opacity="0.06"/><stop offset="0.21" stop-opacity="0.06"/><stop offset="0.25" stop-opacity="0.08"/><stop offset="0.29" stop-opacity="0.14"/><stop offset="0.33" stop-opacity="0.12"/><stop offset="0.38" stop-opacity="0.11"/><stop offset="0.42" stop-opacity="0.17"/><stop offset="0.46" stop-opacity="0.27"/><stop offset="0.5" stop-opacity="0.36"/><stop offset="0.54" stop-opacity="0.37"/><stop offset="0.58" stop-opacity="0.28"/><stop offset="0.62" stop-opacity="0.18"/><stop offset="0.67" stop-opacity="0.11"/><stop offset="0.71" stop-opacity="0.07"/><stop offset="0.75" stop-opacity="0.05"/><stop offset="0.79" stop-opacity="0.04"/><stop offset="0.83" stop-opacity="0.03"/><stop offset="0.88" stop-opacity="0.03"/><stop offset="0.92" stop-opacity="0.03"/><stop offset="0.96" stop-opacity="0.02"/><stop offset="1" stop-opacity="0.02"/></linearGradient>
<linearGradient id="h1_9"><stop offset="0" stop-opacity="0.02"/><stop offset="0.04" stop-opacity="0.02"/><stop offset="0.08" stop-opacity="0.02"/><stop offset="0.12" stop-opacity="0.03"/><stop offset="0.17" stop-opacity="0.03"/><stop offset="0.21" stop-opacity="0.03"/><stop offset="0.25" stop-opacity="0.04"/><stop offset="0.29" stop-opacity="0.07"/><stop offset="0.33" stop-opacity="0.12"/><stop offset="0.38" stop-opacity="0.18"/><stop offset="0.42" stop-opacity="0.23"/><stop offset="0.46" stop-opacity="0.3"/><stop offset="0.5" stop-opacity="0.35"/><stop offset="0.54" stop-opacity="0.29"/><stop offset="0.58" stop-opacity="0.22"/><stop offset="0.62" stop-opacity="0.15"/><stop offset="0.67" stop-opacity="0.1"/><stop offset="0.71" stop-opacity="0.07"/><stop offset="0.75" stop-opacity="0.05"/><stop offset="0.79" stop-opacity="0.04"/><stop offset="0.83" stop-opacity="0.03"/><stop offset="0.88" stop-opacity="0.04"/><stop offset="0.92" stop-opacity="0.05"/><stop offset="0.96" stop-opacity="0.05"/><stop offset="1" stop-opacity="0.04"/></linearGradient>
<linearGradient id="h1_10"><stop offset="0" stop-opacity="0.03"/><stop offset="0.04" stop-opacity="0.04"/><stop offset="0.08" stop-opacity="0.05"/><stop offset="0.12" stop-opacity="0.06"/><stop offset="0.17" stop-opacity="0.07"/><stop offset="0.21" stop-opacity="0.07"/><stop offset="0.25" stop-opacity="0.07"/><stop offset="0.29" stop-opacity="0.08"/><stop offset="0.33" stop-opacity="0.1"/><stop offset="0.38" stop-opacity="0.16"/><stop offset="0.42" stop-opacity="0.23"/><stop offset="0.46" stop-opacity="0.32"/><stop offset="0.5" stop-opacity="0.37"/><stop offset="0.54" stop-opacity="0.32"/><stop offset="0.58" stop-opacity="0.23"/><stop offset="0.62" stop-opacity="0.16"/><stop offset="0.67" stop-opacity="0.15"/><stop offset="0.71" stop-opacity="0.06"/><stop offset="0.75" stop-opacity="0.04"/><stop offset="0.79" stop-opacity="0.03"/><stop offset="0.83" stop-opacity="0.04"/><stop offset="0.88" stop-opacity="0.05"/><stop offset="0.92" stop-opacity="0.07"/><stop offset="0.96" stop-opacity="0.08"/><stop offset="1" stop-opacity="0.06"/></linearGradient>
<linearGradient id="h1_11"><stop offset="0" stop-opacity="0.1"/><stop offset="0.04" stop-opacity="0.13"/><stop offset="0.08" stop-opacity="0.15"/><stop offset="0.12" stop-opacity="0.15"/><stop offset="0.17" stop-opacity="0.14"/><stop offset="0.21" stop-opacity="0.11"/><stop offset="0.25" stop-opacity="0.1"/><stop offset="0.29" stop-opacity="0.11"/><stop offset="0.33" stop-opacity="0.13"/><stop offset="0.38" stop-opacity="0.13"/><stop offset="0.42" stop-opacity="0.18"/><stop offset="0.46" stop-opacity="0.29"/><stop offset="0.5" stop-opacity="0.38"/><stop offset="0.54" stop-opacity="0.39"/><stop offset="0.58" stop-opacity="0.34"/><stop offset="0.62" stop-opacity="0.23"/><stop offset="0.67" stop-opacity="0.15"/><stop offset="0.71" stop-opacity="0.11"/><stop offset="0.75" stop-opacity="0.08"/><stop offset="0.79" stop-opacity="0.06"/><stop offset="0.83" stop-opacity="0.04"/><stop offset="0.88" stop-opacity="0.03"/><stop offset="0.92" stop-opacity="0.03"/><stop offset="0.96" stop-opacity="0.02"/><stop offset="1" stop-opacity="0.02"/></linearGradient>
<linearGradient id="h1_12"><stop offset="0" stop-opacity="0.02"/><stop offset="0.04" stop-opacity="0.02"/><stop offset="0.08" stop-opacity="0.02"/><stop offset="0.12" stop-opacity="0.03"/><stop offset="0.17" stop-opacity="0.03"/><stop offset="0.21" stop-opacity="0.04"/><stop offset="0.25" stop-opacity="0.06"/><stop offset="0.29" stop-opacity="0.08"/><stop offset="0.33" stop-opacity="0.09"/><stop offset="0.38" stop-opacity="0.08"/><stop offset="0.42" stop-opacity="0.13"/><stop offset="0.46" stop-opacity="0.22"/><stop offset="0.5" stop-opacity="0.31"/><stop offset="0.54" stop-opacity="0.29"/><stop offset="0.58" stop-opacity="0.17"/><stop offset="0.62" stop-opacity="0.08"/><stop offset="0.67" stop-opacity="0.05"/><stop offset="0.71" stop-opacity="0.04"/><stop offset="0.75" stop-opacity="0.04"/><stop offset="0.79" stop-opacity="0.03"/><stop offset="0.83" stop-opacity="0.03"/><stop offset="0.88" stop-opacity="0.03"/><stop offset="0.92" stop-opacity="0.02"/><stop offset="0.96" stop-opacity="0.02"/><stop offset="1" stop-opacity="0.02"/></linearGradient>
<linearGradient id="h1_13"><stop offset="0" stop-opacity="0.12"/><stop offset="0.04" stop-opacity="0.16"/><stop offset="0.08" stop-opacity="0.18"/><stop offset="0.12" stop-opacity="0.18"/><stop offset="0.17" stop-opacity="0.14"/><stop offset="0.21" stop-opacity="0.1"/><stop offset="0.25" stop-opacity="0.07"/><stop offset="0.29" stop-opacity="0.05"/><stop offset="0.33" stop-opacity="0.05"/><stop offset="0.38" stop-opacity="0.06"/><stop offset="0.42" stop-opacity="0.11"/><stop offset="0.46" stop-opacity="0.22"/><stop offset="0.5" stop-opacity="0.32"/><stop offset="0.54" stop-opacity="0.27"/><stop offset="0.58" stop-opacity="0.15"/><stop offset="0.62" stop-opacity="0.07"/><stop offset="0.67" stop-opacity="0.05"/><stop offset="0.71" stop-opacity="0.04"/><stop offset="0.75" stop-opacity="0.04"/><stop offset="0.79" stop-opacity="0.04"/><stop offset="0.83" stop-opacity="0.04"/><stop offset="0.88" stop-opacity="0.04"/><stop offset="0.92" stop-opacity="0.05"/><stop offset="0.96" stop-opacity="0.05"/><stop offset="1" stop-opacity="0.04"/></linearGradient>
<linearGradient id="h1_14"><stop offset="0" stop-opacity="0.02"/><stop offset="0.04" stop-opacity="0.02"/><stop offset="0.08" stop-opacity="0.02"/><stop offset="0.12" stop-opacity="0.02"/><stop offset="0.17" stop-opacity="0.03"/><stop offset="0.21" stop-opacity="0.03"/><stop offset="0.25" stop-opacity="0.03"/><stop offset="0.29" stop-opacity="0.04"/><stop offset="0.33" stop-opacity="0.05"/><stop offset="0.38" stop-opacity="0.07"/><stop offset="0.42" stop-opacity="0.13"/><stop offset="0.46" stop-opacity="0.24"/><stop offset="0.5" stop-opacity="0.34"/><stop offset="0.54" stop-opacity="0.31"/><stop offset="0.58" stop-opacity="0.21"/><stop offset="0.62" stop-opacity="0.13"/><stop offset="0.67" stop-opacity="0.1"/><stop offset="0.71" stop-opacity="0.08"/><stop offset="0.75" stop-opacity="0.07"/><stop offset="0.79" stop-opacity="0.05"/><stop offset="0.83" stop-opacity="0.04"/><stop offset="0.88" stop-opacity="0.03"/><stop offset="0.92" stop-opacity="0.03"/><stop offset="0.96" stop-opacity="0.02"/><stop offset="1" stop-opacity="0.02"/></linearGradient>
<linearGradient id="h1_15"><stop offset="0" stop-opacity="0.2"/><stop offset="0.04" stop-opacity="0.26"/><stop offset="0.08" stop-opacity="0.28"/><stop offset="0.12" stop-opacity="0.26"/><stop offset="0.17" stop-opacity="0.22"/><stop offset="0.21" stop-opacity="0.18"/><stop offset="0.25" stop-opacity="0.15"/><stop offset="0.29" stop-opacity="0.12"/><stop offset="0.33" stop-opacity="0.1"/><stop offset="0.38" stop-opacity="0.1"/><stop offset="0.42" stop-opacity="0.14"/><stop offset="0.46" stop-opacity="0.23"/><stop offset="0.5" stop-opacity="0.32"/><stop offset="0.54" stop-opacity="0.35"/><stop offset="0.58" stop-opacity="0.35"/><stop offset="0.62" stop-opacity="0.26"/><stop offset="0.67" stop-opacity="0.11"/><stop offset="0.71" stop-opacity="0.05"/><stop offset="0.75" stop-opacity="0.04"/><stop offset="0.79" stop-opacity="0.03"/><stop offset="0.83" stop-opacity="0.03"/><stop offset="0.88" stop-opacity="0.03"/><stop offset="0.92" stop-opacity="0.02"/><stop offset="0.96" stop-opacity="0.02"/><stop offset="1" stop-opacity="0.02"/></linearGradient>
<linearGradient id="h1_16"><stop offset="0" stop-opacity="0.03"/><stop offset="0.04" stop-opacity="0.04"/><stop offset="0.08" stop-opacity="0.07"/><stop offset="0.12" stop-opacity="0.1"/><stop offset="0.17" stop-opacity="0.09"/><stop offset="0.21" stop-opacity="0.06"/><stop offset="0.25" stop-opacity="0.04"/><stop offset="0.29" stop-opacity="0.09"/><stop offset="0.33" stop-opacity="0.14"/><stop offset="0.38" stop-opacity="0.15"/><stop offset="0.42" stop-opacity="0.15"/><stop offset="0.46" stop-opacity="0.23"/><stop offset="0.5" stop-opacity="0.31"/><stop offset="0.54" stop-opacity="0.31"/><stop offset="0.58" stop-opacity="0.22"/><stop offset="0.62" stop-opacity="0.14"/><stop offset="0.67" stop-opacity="0.08"/><stop offset="0.71" stop-opacity="0.05"/><stop offset="0.75" stop-opacity="0.04"/><stop offset="0.79" stop-opacity="0.03"/><stop offset="0.83" stop-opacity="0.03"/><stop offset="0.88" stop-opacity="0.03"/><stop offset="0.92" stop-opacity="0.02"/><stop offset="0.96" stop-opacity="0.02"/><stop offset="1" stop-opacity="0.02"/></linearGradient>
<linearGradient id="h1_17"><stop offset="0" stop-opacity="0.07"/><stop offset="0.04" stop-opacity="0.09"/><stop offset="0.08" stop-opacity="0.1"/><stop offset="0.12" stop-opacity="0.11"/><stop offset="0.17" stop-opacity="0.1"/><stop offset="0.21" stop-opacity="0.09"/><stop offset="0.25" stop-opacity="0.07"/><stop offset="0.29" stop-opacity="0.08"/><stop offset="0.33" stop-opacity="0.13"/><stop offset="0.38" stop-opacity="0.16"/><stop offset="0.42" stop-opacity="0.19"/><stop offset="0.46" stop-opacity="0.29"/><stop offset="0.5" stop-opacity="0.37"/><stop offset="0.54" stop-opacity="0.31"/><stop offset="0.58" stop-opacity="0.27"/><stop offset="0.62" stop-opacity="0.22"/><stop offset="0.67" stop-opacity="0.17"/><stop offset="0.71" stop-opacity="0.07"/><stop offset="0.75" stop-opacity="0.05"/><stop offset="0.79" stop-opacity="0.04"/><stop offset="0.83" stop-opacity="0.03"/><stop offset="0.88" stop-opacity="0.03"/><stop offset="0.92" stop-opacity="0.02"/><stop offset="0.96" stop-opacity="0.02"/><stop offset="1" stop-opacity="0.02"/></linearGradient>
<linearGradient id="h1_18"><stop offset="0" stop-opacity="0.07"/><stop offset="0.04" stop-opacity="0.06"/><stop offset="0.08" stop-opacity="0.06"/><stop offset="0.12" stop-opacity="0.05"/><stop offset="0.17" stop-opacity="0.05"/><stop offset="0.21" stop-opacity="0.04"/><stop offset="0.25" stop-opacity="0.04"/><stop offset="0.29" stop-opacity="0.04"/><stop offset="0.33" stop-opacity="0.05"/><stop offset="0.38" stop-opacity="0.06"/><stop offset="0.42" stop-opacity="0.12"/><stop offset="0.46" stop-opacity="0.21"/><stop offset="0.5" stop-opacity="0.32"/><stop offset="0.54" stop-opacity="0.32"/><stop offset="0.58" stop-opacity="0.25"/><stop offset="0.62" stop-opacity="0.2"/><stop offset="0.67" stop-opacity="0.12"/><stop offset="0.71" stop-opacity="0.06"/><stop offset="0.75" stop-opacity="0.04"/><stop offset="0.79" stop-opacity="0.03"/><stop offset="0.83" stop-opacity="0.03"/><stop offset="0.88" stop-opacity="0.03"/><stop offset="0.92" stop-opacity="0.02"/><stop offset="0.96" stop-opacity="0.02"/><stop offset="1" stop-opacity="0.02"/></linearGradient>
<linearGradient id="h1_19"><stop offset="0" stop-opacity="0.03"/><stop offset="0.04" stop-opacity="0.03"/><stop offset="0.08" stop-opacity="0.04"/><stop offset="0.12" stop-opacity="0.04"/><stop offset="0.17" stop-opacity="0.05"/><stop offset="0.21" stop-opacity="0.05"/><stop offset="0.25" stop-opacity="0.05"/><stop offset="0.29" stop-opacity="0.05"/><stop offset="0.33" stop-opacity="0.05"/><stop offset="0.38" stop-opacity="0.09"/><stop offset="0.42" stop-opacity="0.17"/><stop offset="0.46" stop-opacity="0.29"/><stop offset="0.5" stop-opacity="0.33"/><stop offset="0.54" stop-opacity="0.25"/><stop offset="0.58" stop-opacity="0.17"/><stop offset="0.62" stop-opacity="0.15"/><stop offset="0.67" stop-opacity="0.17"/><stop offset="0.71" stop-opacity="0.19"/><stop offset="0.75" stop-opacity="0.19"/><stop offset="0.79" stop-opacity="0.17"/><stop offset="0.83" stop-opacity="0.15"/><stop offset="0.88" stop-opacity="0.11"/><stop offset="0.92" stop-opacity="0.08"/><stop offset="0.96" stop-opacity="0.06"/><stop offset="1" stop-opacity="0.04"/></linearGradient>
<linearGradient id="h2_0"><stop offset="0" stop-opacity="0.02"/><stop offset="0.04" stop-opacity="0.02"/><stop offset="0.08" stop-opacity="0.02"/><stop offset="0.12" stop-opacity="0.02"/><stop offset="0.17" stop-opacity="0.02"/><stop offset="0.21" stop-opacity="0.02"/><stop offset="0.25" stop-opacity="0.03"/><stop offset="0.29" stop-opacity="0.05"/><stop offset="0.33" stop-opacity="0.09"/><stop offset="0.38" stop-opacity="0.11"/><stop offset="0.42" stop-opacity="0.12"/><stop offset="0.46" stop-opacity="0.15"/><stop offset="0.5" stop-opacity="0.18"/><stop offset="0.54" stop-opacity="0.18"/><stop offset="0.58" stop-opacity="0.14"/><stop offset="0.62" stop-opacity="0.1"/><stop offset="0.67" stop-opacity="0.07"/><stop offset="0.71" stop-opacity="0.06"/><stop offset="0.75" stop-opacity="0.05"/><stop offset="0.79" stop-opacity="0.05"/><stop offset="0.83" stop-opacity="0.04"/><stop offset="0.88" stop-opacity="0.04"/><stop offset="0.92" stop-opacity="0.03"/><stop offset="0.96" stop-opacity="0.02"/><stop offset="1" stop-opacity="0.02"/></linearGradient>
<linearGradient id="h2_1"><stop offset="0" stop-opacity="0.02"/><stop offset="0.04" stop-opacity="0.02"/><stop offset="0.08" stop-opacity="0.02"/><stop offset="0.12" stop-opacity="0.02"/><stop offset="0.17" stop-opacity="0.02"/><stop offset="0.21" stop-opacity="0.03"/><stop offset="0.25" stop-opacity="0.04"/><stop offset="0.29" stop-opacity="0.11"/><stop offset="0.33" stop-opacity="0.16"/><stop offset="0.38" stop-opacity="0.11"/><stop offset="0.42" stop-opacity="0.13"/><stop offset="0.46" stop-opacity="0.17"/><stop offset="0.5" stop-opacity="0.19"/><stop offset="0.54" stop-opacity="0.16"/><stop offset="0.58" stop-opacity="0.11"/><stop offset="0.62" stop-opacity="0.08"/><stop offset="0.67" stop-opacity="0.05"/><stop offset="0.71" stop-opacity="0.05"/><stop offset="0.75" stop-opacity="0.06"/><stop offset="0.79" stop-opacity="0.07"/><stop offset="0.83" stop-opacity="0.08"/><stop offset="0.88" stop-opacity="0.08"/><stop offset="0.92" stop-opacity="0.07"/><stop offset="0.96" stop-opacity="0.06"/><stop offset="1" stop-opacity="0.04"/></linearGradient>
<linearGradient id="h2_2"><stop offset="0" stop-opacity="0.02"/><stop offset="0.04" stop-opacity="0.02"/><stop offset="0.08" stop-opacity="0.02"/><stop offset="0.12" stop-opacity="0.03"/><stop offset="0.17" stop-opacity="0.05"/><stop offset="0.21" stop-opacity="0.07"/><stop offset="0.25" stop-opacity="0.1"/><stop offset="0.29" stop-opacity="0.14"/><stop offset="0.33" stop-opacity="0.17"/><stop offset="0.38" stop-opacity="0.18"/><stop offset="0.42" stop-opacity="0.17"/><stop offset="0.46" stop-opacity="0.16"/><stop offset="0.5" stop-opacity="0.18"/><stop offset="0.54" stop-opacity="0.19"/><stop offset="0.58" stop-opacity="0.15"/><stop offset="0.62" stop-opacity="0.12"/><stop offset="0.67" stop-opacity="0.11"/><stop offset="0.71" stop-opacity="0.1"/><stop offset="0.75" stop-opacity="0.08"/><stop offset="0.79" stop-opacity="0.05"/><stop offset="0.83" stop-opacity="0.04"/><stop offset="0.88" stop-opacity="0.04"/><stop offset="0.92" stop-opacity="0.05"/><stop offset="0.96" stop-opacity="0.06"/><stop offset="1" stop-opacity="0.05"/></linearGradient>
<linearGradient id="h2_3"><stop offset="0" stop-opacity="0.02"/><stop offset="0.04" stop-opacity="0.02"/><stop offset="0.08" stop-opacity="0.02"/><stop offset="0.12" stop-opacity="0.02"/><stop offset="0.17" stop-opacity="0.03"/><stop offset="0.21" stop-opacity="0.04"/><stop offset="0.25" stop-opacity="0.05"/><stop offset="0.29" stop-opacity="0.07"/><stop offset="0.33" stop-opacity="0.1"/><stop offset="0.38" stop-opacity="0.13"/><stop offset="0.42" stop-opacity="0.15"/><stop offset="0.46" stop-opacity="0.18"/><stop offset="0.5" stop-opacity="0.22"/><stop offset="0.54" stop-opacity="0.24"/><stop offset="0.58" stop-opacity="0.24"/><stop offset="0.62" stop-opacity="0.2"/><stop offset="0.67" stop-opacity="0.13"/><stop offset="0.71" stop-opacity="0.09"/><stop offset="0.75" stop-opacity="0.08"/><stop offset="0.79" stop-opacity="0.08"/><stop offset="0.83" stop-opacity="0.1"/><stop offset="0.88" stop-opacity="0.12"/><stop offset="0.92" stop-opacity="0.09"/><stop offset="0.96" stop-opacity="0.06"/><stop offset="1" stop-opacity="0.05"/></linearGradient>
<linearGradient id="h2_4"><stop offset="0" stop-opacity="0.02"/><stop offset="0.04" stop-opacity="0.02"/><stop offset="0.08" stop-opacity="0.02"/><stop offset="0.12" stop-opacity="0.02"/><stop offset="0.17" stop-opacity="0.02"/><stop offset="0.21" stop-opacity="0.02"/><stop offset="0.25" stop-opacity="0.02"/><stop offset="0.29" stop-opacity="0.03"/><stop offset="0.33" stop-opacity="0.04"/><stop offset="0.38" stop-opacity="0.08"/><stop offset="0.42" stop-opacity="0.18"/><stop offset="0.46" stop-opacity="0.25"/><stop offset="0.5" stop-opacity="0.23"/><stop offset="0.54" stop-opacity="0.18"/><stop offset="0.58" stop-opacity="0.14"/><stop offset="0.62" stop-opacity="0.09"/><stop offset="0.67" stop-opacity="0.05"/><stop offset="0.71" stop-opacity="0.04"/><stop offset="0.75" stop-opacity="0.03"/><stop offset="0.79" stop-opacity="0.02"/><stop offset="0.83" stop-opacity="0.02"/><stop offset="0.88" stop-opacity="0.02"/><stop offset="0.92" stop-opacity="0.02"/><stop offset="0.96" stop-opacity="0.02"/><stop offset="1" stop-opacity="0.02"/></linearGradient>
<linearGradient id="h2_5"><stop offset="0" stop-opacity="0.02"/><stop offset="0.04" stop-opacity="0.02"/><stop offset="0.08" stop-opacity="0.02"/><stop offset="0.12" stop-opacity="0.02"/><stop offset="0.17" stop-opacity="0.02"/><stop offset="0.21" stop-opacity="0.02"/><stop offset="0.25" stop-opacity="0.03"/><stop offset="0.29" stop-opacity="0.03"/><stop offset="0.33" stop-opacity="0.05"/><stop offset="0.38" stop-opacity="0.08"/><stop offset="0.42" stop-opacity="0.12"/><stop offset="0.46" stop-opacity="0.19"/><stop offset="0.5" stop-opacity="0.24"/><stop offset="0.54" stop-opacity="0.22"/><stop offset="0.58" stop-opacity="0.17"/><stop offset="0.62" stop-opacity="0.13"/><stop offset="0.67" stop-opacity="0.11"/><stop offset="0.71" stop-opacity="0.11"/><stop offset="0.75" stop-opacity="0.08"/><stop offset="0.79" stop-opacity="0.04"/><stop offset="0.83" stop-opacity="0.03"/><stop offset="0.88" stop-opacity="0.02"/><stop offset="0.92" stop-opacity="0.02"/><stop offset="0.96" stop-opacity="0.02"/><stop offset="1" stop-opacity="0.02"/></linearGradient>
<linearGradient id="h2_6"><stop offset="0" stop-opacity="0.02"/><stop offset="0.04" stop-opacity="0.02"/><stop offset="0.08" stop-opacity="0.02"/><stop offset="0.12" stop-opacity="0.02"/><stop offset="0.17" stop-opacity="0.02"/><stop offset="0.21" stop-opacity="0.02"/><stop offset="0.25" stop-opacity="0.03"/><stop offset="0.29" stop-opacity="0.03"/><stop offset="0.33" stop-opacity="0.06"/><stop offset="0.38" stop-opacity="0.11"/><stop offset="0.42" stop-opacity="0.16"/><stop offset="0.46" stop-opacity="0.21"/><stop offset="0.5" stop-opacity="0.24"/><stop offset="0.54" stop-opacity="0.27"/><stop offset="0.58" stop-opacity="0.26"/><stop offset="0.62" stop-opacity="0.19"/><stop offset="0.67" stop-opacity="0.13"/><stop offset="0.71" stop-opacity="0.11"/><stop offset="0.75" stop-opacity="0.1"/><stop offset="0.79" stop-opacity="0.08"/><stop offset="0.83" stop-opacity="0.06"/><stop offset="0.88" stop-opacity="0.04"/><stop offset="0.92" stop-opacity="0.03"/><stop offset="0.96" stop-opacity="0.02"/><stop offset="1" stop-opacity="0.02"/></linearGradient>
<linearGradient id="h2_7"><stop offset="0" stop-opacity="0.03"/><stop offset="0.04" stop-opacity="0.04"/><stop offset="0.08" stop-opacity="0.05"/><stop offset="0.12" stop-opacity="0.05"/><stop offset="0.17" stop-opacity="0.06"/><stop offset="0.21" stop-opacity="0.06"/><stop offset="0.25" stop-opacity="0.06"/><stop offset="0.29" stop-opacity="0.06"/><stop offset="0.33" stop-opacity="0.05"/><stop offset="0.38" stop-opacity="0.06"/><stop offset="0.42" stop-opacity="0.09"/><stop offset="0.46" stop-opacity="0.14"/><stop offset="0.5" stop-opacity="0.19"/><stop offset="0.54" stop-opacity="0.17"/><stop offset="0.58" stop-opacity="0.12"/><stop offset="0.62" stop-opacity="0.07"/><stop offset="0.67" stop-opacity="0.04"/><stop offset="0.71" stop-opacity="0.03"/><stop offset="0.75" stop-opacity="0.03"/><stop offset="0.79" stop-opacity="0.02"/><stop offset="0.83" stop-opacity="0.02"/><stop offset="0.88" stop-opacity="0.02"/><stop offset="0.92" stop-opacity="0.02"/><stop offset="0.96" stop-opacity="0.02"/><stop offset="1" stop-opacity="0.02"/></linearGradient>
<linearGradient id="h2_8"><stop offset="0" stop-opacity="0.03"/><stop offset="0.04" stop-opacity="0.03"/><stop offset="0.08" stop-opacity="0.03"/><stop offset="0.12" stop-opacity="0.03"/><stop offset="0.17" stop-opacity="0.03"/><stop offset="0.21" stop-opacity="0.03"/><stop offset="0.25" stop-opacity="0.03"/><stop offset="0.29" stop-opacity="0.03"/><stop offset="0.33" stop-opacity="0.03"/><stop offset="0.38" stop-opacity="0.04"/><stop offset="0.42" stop-opacity="0.07"/><stop offset="0.46" stop-opacity="0.12"/><stop offset="0.5" stop-opacity="0.18"/><stop offset="0.54" stop-opacity="0.2"/><stop offset="0.58" stop-opacity="0.2"/><stop offset="0.62" stop-opacity="0.12"/><stop offset="0.67" stop-opacity="0.05"/><stop offset="0.71" stop-opacity="0.03"/><stop offset="0.75" stop-opacity="0.03"/><stop offset="0.79" stop-opacity="0.05"/><stop offset="0.83" stop-opacity="0.07"/><stop offset="0.88" stop-opacity="0.08"/><stop offset="0.92" stop-opacity="0.1"/><stop offset="0.96" stop-opacity="0.1"/><stop offset="1" stop-opacity="0.1"/></linearGradient>
<linearGradient id="h2_9"><stop offset="0" stop-opacity="0.02"/><stop offset="0.04" stop-opacity="0.03"/><stop offset="0.08" stop-opacity="0.03"/><stop offset="0.12" stop-opacity="0.05"/><stop offset="0.17" stop-opacity="0.06"/><stop offset="0.21" stop-opacity="0.08"/><stop offset="0.25" stop-opacity="0.09"/><stop offset="0.29" stop-opacity="0.09"/><stop offset="0.33" stop-opacity="0.09"/><stop offset="0.38" stop-opacity="0.11"/><stop offset="0.42" stop-opacity="0.14"/><stop offset="0.46" stop-opacity="0.18"/><stop offset="0.5" stop-opacity="0.21"/><stop offset="0.54" stop-opacity="0.19"/><stop offset="0.58" stop-opacity="0.15"/><stop offset="0.62" stop-opacity="0.1"/><stop offset="0.67" stop-opacity="0.06"/><stop offset="0.71" stop-opacity="0.04"/><stop offset="0.75" stop-opacity="0.03"/><stop offset="0.79" stop-opacity="0.03"/><stop offset="0.83" stop-opacity="0.03"/><stop offset="0.88" stop-opacity="0.03"/><stop offset="0.92" stop-opacity="0.04"/><stop offset="0.96" stop-opacity="0.04"/><stop offset="1" stop-opacity="0.04"/></linearGradient>
<linearGradient id="h2_10"><stop offset="0" stop-opacity="0.02"/><stop offset="0.04" stop-opacity="0.02"/><stop offset="0.08" stop-opacity="0.02"/><stop offset="0.12" stop-opacity="0.02"/><stop offset="0.17" stop-opacity="0.02"/><stop offset="0.21" stop-opacity="0.02"/><stop offset="0.25" stop-opacity="0.02"/><stop offset="0.29" stop-opacity="0.03"/><stop offset="0.33" stop-opacity="0.05"/><stop offset="0.38" stop-opacity="0.11"/><stop offset="0.42" stop-opacity="0.08"/><stop offset="0.46" stop-opacity="0.13"/><stop offset="0.5" stop-opacity="0.19"/><stop offset="0.54" stop-opacity="0.2"/><stop offset="0.58" stop-opacity="0.15"/><stop offset="0.62" stop-opacity="0.1"/><stop offset="0.67" stop-opacity="0.08"/><stop offset="0.71" stop-opacity="0.07"/><stop offset="0.75" stop-opacity="0.06"/><stop offset="0.79" stop-opacity="0.05"/><stop offset="0.83" stop-opacity="0.04"/><stop offset="0.88" stop-opacity="0.03"/><stop offset="0.92" stop-opacity="0.02"/><stop offset="0.96" stop-opacity="0.02"/><stop offset="1" stop-opacity="0.02"/></linearGradient>
<linearGradient id="h2_11"><stop offset="0" stop-opacity="0.02"/><stop offset="0.04" stop-opacity="0.02"/><stop offset="0.08" stop-opacity="0.02"/><stop offset="0.12" stop-opacity="0.02"/><stop offset="0.17" stop-opacity="0.02"/><stop offset="0.21" stop-opacity="0.02"/><stop offset="0.25" stop-opacity="0.03"/><stop offset="0.29" stop-opacity="0.03"/><stop offset="0.33" stop-opacity="0.07"/><stop offset="0.38" stop-opacity="0.08"/><stop offset="0.42" stop-opacity="0.09"/><stop offset="0.46" stop-opacity="0.15"/><stop offset="0.5" stop-opacity="0.19"/><stop offset="0.54" stop-opacity="0.14"/><stop offset="0.58" stop-opacity="0.09"/><stop offset="0.62" stop-opacity="0.06"/><stop offset="0.67" stop-opacity="0.06"/><stop offset="0.71" stop-opacity="0.09"/><stop offset="0.75" stop-opacity="0.07"/><stop offset="0.79" stop-opacity="0.07"/><stop offset="0.83" stop-opacity="0.06"/><stop offset="0.88" stop-opacity="0.05"/><stop offset="0.92" stop-opacity="0.04"/><stop offset="0.96" stop-opacity="0.03"/><stop offset="1" stop-opacity="0.02"/></linearGradient>
<linearGradient id="h2_12"><stop offset="0" stop-opacity="0.05"/><stop offset="0.04" stop-opacity="0.06"/><stop offset="0.08" stop-opacity="0.07"/><stop offset="0.12" stop-opacity="0.07"/><stop offset="0.17" stop-opacity="0.07"/><stop offset="0.21" stop-opacity="0.06"/><stop offset="0.25" stop-opacity="0.05"/><stop offset="0.29" stop-opacity="0.06"/><stop offset="0.33" stop-opacity="0.07"/><stop offset="0.38" stop-opacity="0.11"/><stop offset="0.42" stop-opacity="0.15"/><stop offset="0.46" stop-opacity="0.2"/><stop offset="0.5" stop-opacity="0.22"/><stop offset="0.54" stop-opacity="0.18"/><stop offset="0.58" stop-opacity="0.13"/><stop offset="0.62" stop-opacity="0.08"/><stop offset="0.67" stop-opacity="0.05"/><stop offset="0.71" stop-opacity="0.04"/><stop offset="0.75" stop-opacity="0.03"/><stop offset="0.79" stop-opacity="0.03"/><stop offset="0.83" stop-opacity="0.03"/><stop offset="0.88" stop-opacity="0.04"/><stop offset="0.92" stop-opacity="0.04"/><stop offset="0.96" stop-opacity="0.04"/><stop offset="1" stop-opacity="0.03"/></linearGradient>
<linearGradient id="h2_13"><stop offset="0" stop-opacity="0.1"/><stop offset="0.04" stop-opacity="0.11"/><stop offset="0.08" stop-opacity="0.11"/><stop offset="0.12" stop-opacity="0.11"/><stop offset="0.17" stop-opacity="0.09"/><stop offset="0.21" stop-opacity="0.08"/><stop offset="0.25" stop-opacity="0.06"/><stop offset="0.29" stop-opacity="0.06"/><stop offset="0.33" stop-opacity="0.07"/><stop offset="0.38" stop-opacity="0.09"/><stop offset="0.42" stop-opacity="0.15"/><stop offset="0.46" stop-opacity="0.22"/><stop offset="0.5" stop-opacity="0.19"/><stop offset="0.54" stop-opacity="0.16"/><stop offset="0.58" stop-opacity="0.12"/><stop offset="0.62" stop-opacity="0.08"/><stop offset="0.67" stop-opacity="0.05"/><stop offset="0.71" stop-opacity="0.04"/><stop offset="0.75" stop-opacity="0.03"/><stop offset="0.79" stop-opacity="0.02"/><stop offset="0.83" stop-opacity="0.02"/><stop offset="0.88" stop-opacity="0.02"/><stop offset="0.92" stop-opacity="0.02"/><stop offset="0.96" stop-opacity="0.02"/><stop offset="1" stop-opacity="0.02"/></linearGradient>
<linearGradient id="h2_14"><stop offset="0" stop-opacity="0.04"/><stop offset="0.04" stop-opacity="0.06"/><stop offset="0.08" stop-opacity="0.08"/><stop offset="0.12" stop-opacity="0.09"/><stop offset="0.17" stop-opacity="0.08"/><stop offset="0.21" stop-opacity="0.07"/><stop offset="0.25" stop-opacity="0.07"/><stop offset="0.29" stop-opacity="0.08"/><stop offset="0.33" stop-opacity="0.1"/><stop offset="0.38" stop-opacity="0.12"/><stop offset="0.42" stop-opacity="0.15"/><stop offset="0.46" stop-opacity="0.18"/><stop offset="0.5" stop-opacity="0.22"/><stop offset="0.54" stop-opacity="0.2"/><stop offset="0.58" stop-opacity="0.15"/><stop offset="0.62" stop-opacity="0.11"/><stop offset="0.67" stop-opacity="0.09"/><stop offset="0.71" stop-opacity="0.07"/><stop offset="0.75" stop-opacity="0.05"/><stop offset="0.79" stop-opacity="0.03"/><stop offset="0.83" stop-opacity="0.03"/><stop offset="0.88" stop-opacity="0.04"/><stop offset="0.92" stop-opacity="0.05"/><stop offset="0.96" stop-opacity="0.04"/><stop offset="1" stop-opacity="0.03"/></linearGradient>
<linearGradient id="h2_15"><stop offset="0" stop-opacity="0.03"/><stop offset="0.04" stop-opacity="0.04"/><stop offset="0.08" stop-opacity="0.05"/><stop offset="0.12" stop-opacity="0.06"/><stop offset="0.17" stop-opacity="0.06"/><stop offset="0.21" stop-opacity="0.06"/><stop offset="0.25" stop-opacity="0.06"/><stop offset="0.29" stop-opacity="0.06"/><stop offset="0.33" stop-opacity="0.07"/><stop offset="0.38" stop-opacity="0.1"/><stop offset="0.42" stop-opacity="0.14"/><stop offset="0.46" stop-opacity="0.17"/><stop offset="0.5" stop-opacity="0.19"/><stop offset="0.54" stop-opacity="0.16"/><stop offset="0.58" stop-opacity="0.13"/><stop offset="0.62" stop-opacity="0.11"/><stop offset="0.67" stop-opacity="0.11"/><stop offset="0.71" stop-opacity="0.11"/><stop offset="0.75" stop-opacity="0.07"/><stop offset="0.79" stop-opacity="0.03"/><stop offset="0.83" stop-opacity="0.02"/><stop offset="0.88" stop-opacity="0.02"/><stop offset="0.92" stop-opacity="0.02"/><stop offset="0.96" stop-opacity="0.02"/><stop offset="1" stop-opacity="0.02"/></linearGradient>
<linearGradient id="h2_16"><stop offset="0" stop-opacity="0.02"/><stop offset="0.04" stop-opacity="0.02"/><stop offset="0.08" stop-opacity="0.03"/><stop offset="0.12" stop-opacity="0.03"/><stop offset="0.17" stop-opacity="0.04"/><stop offset="0.21" stop-opacity="0.05"/><stop offset="0.25" stop-opacity="0.05"/><stop offset="0.29" stop-opacity="0.05"/><stop offset="0.33" stop-opacity="0.06"/><stop offset="0.38" stop-opacity="0.07"/><stop offset="0.42" stop-opacity="0.1"/><stop offset="0.46" stop-opacity="0.15"/><stop offset="0.5" stop-opacity="0.18"/><stop offset="0.54" stop-opacity="0.19"/><stop offset="0.58" stop-opacity="0.15"/><stop offset="0.62" stop-opacity="0.11"/><stop offset="0.67" stop-opacity="0.08"/><stop offset="0.71" stop-opacity="0.07"/><stop offset="0.75" stop-opacity="0.07"/><stop offset="0.79" stop-opacity="0.08"/><stop offset="0.83" stop-opacity="0.08"/><stop offset="0.88" stop-opacity="0.08"/><stop offset="0.92" stop-opacity="0.08"/><stop offset="0.96" stop-opacity="0.07"/><stop offset="1" stop-opacity="0.05"/></linearGradient>
<linearGradient id="h2_17"><stop offset="0" stop-opacity="0.02"/><stop offset="0.04" stop-opacity="0.02"/><stop offset="0.08" stop-opacity="0.02"/><stop offset="0.12" stop-opacity="0.02"/><stop offset="0.17" stop-opacity="0.02"/><stop offset="0.21" stop-opacity="0.02"/><stop offset="0.25" stop-opacity="0.03"/><stop offset="0.29" stop-opacity="0.03"/><stop offset="0.33" stop-opacity="0.05"/><stop offset="0.38" stop-opacity="0.09"/><stop offset="0.42" stop-opacity="0.12"/><stop offset="0.46" stop-opacity="0.16"/><stop offset="0.5" stop-opacity="0.2"/><stop offset="0.54" stop-opacity="0.2"/><stop offset="0.58" stop-opacity="0.15"/><stop offset="0.62" stop-opacity="0.1"/><stop offset="0.67" stop-opacity="0.08"/><stop offset="0.71" stop-opacity="0.12"/><stop offset="0.75" stop-opacity="0.1"/><stop offset="0.79" stop-opacity="0.08"/><stop offset="0.83" stop-opacity="0.06"/><stop offset="0.88" stop-opacity="0.04"/><stop offset="0.92" stop-opacity="0.02"/><stop offset="0.96" stop-opacity="0.02"/><stop offset="1" stop-opacity="0.02"/></linearGradient>
<linearGradient id="h2_18"><stop offset="0" stop-opacity="0.02"/><stop offset="0.04" stop-opacity="0.02"/><stop offset="0.08" stop-opacity="0.02"/><stop offset="0.12" stop-opacity="0.02"/><stop offset="0.17" stop-opacity="0.03"/><stop offset="0.21" stop-opacity="0.06"/><stop offset="0.25" stop-opacity="0.1"/><stop offset="0.29" stop-opacity="0.11"/><stop offset="0.33" stop-opacity="0.09"/><stop offset="0.38" stop-opacity="0.09"/><stop offset="0.42" stop-opacity="0.13"/><stop offset="0.46" stop-opacity="0.21"/><stop offset="0.5" stop-opacity="0.24"/><stop offset="0.54" stop-opacity="0.19"/><stop offset="0.58" stop-opacity="0.14"/><stop offset="0.62" stop-opacity="0.12"/><stop offset="0.67" stop-opacity="0.14"/><stop offset="0.71" stop-opacity="0.15"/><stop offset="0.75" stop-opacity="0.1"/><stop offset="0.79" stop-opacity="0.07"/><stop offset="0.83" stop-opacity="0.05"/><stop offset="0.88" stop-opacity="0.05"/><stop offset="0.92" stop-opacity="0.05"/><stop offset="0.96" stop-opacity="0.05"/><stop offset="1" stop-opacity="0.05"/></linearGradient>
<linearGradient id="h2_19"><stop offset="0" stop-opacity="0.04"/><stop offset="0.04" stop-opacity="0.05"/><stop offset="0.08" stop-opacity="0.06"/><stop offset="0.12" stop-opacity="0.08"/><stop offset="0.17" stop-opacity="0.09"/><stop offset="0.21" stop-opacity="0.09"/><stop offset="0.25" stop-opacity="0.09"/><stop offset="0.29" stop-opacity="0.1"/><stop offset="0.33" stop-opacity="0.11"/><stop offset="0.38" stop-opacity="0.13"/><stop offset="0.42" stop-opacity="0.17"/><stop offset="0.46" stop-opacity="0.21"/><stop offset="0.5" stop-opacity="0.23"/><stop offset="0.54" stop-opacity="0.19"/><stop offset="0.58" stop-opacity="0.12"/><stop offset="0.62" stop-opacity="0.06"/><stop offset="0.67" stop-opacity="0.04"/><stop offset="0.71" stop-opacity="0.03"/><stop offset="0.75" stop-opacity="0.03"/><stop offset="0.79" stop-opacity="0.02"/><stop offset="0.83" stop-opacity="0.02"/><stop offset="0.88" stop-opacity="0.02"/><stop offset="0.92" stop-opacity="0.02"/><stop offset="0.96" stop-opacity="0.02"/><stop offset="1" stop-opacity="0.02"/></linearGradient>
<linearGradient id="sigbar" x1="0" y1="0" x2="0" y2="1"><stop offset="0" style="stop-color:#ff2a08"/><stop offset="0.5" style="stop-color:#ff9a80"/><stop offset="1" style="stop-color:#fff"/></linearGradient>
<linearGradient id="pbar" x1="0" y1="0" x2="0" y2="1"><stop offset="0" style="stop-color:#ff0a28"/><stop offset="0.35" style="stop-color:#d8006a"/><stop offset="0.7" style="stop-color:#9a00b8"/><stop offset="1" style="stop-color:#2a10ff"/></linearGradient></defs>
<text x="64.6" y="12.8" font-size="12" font-weight="bold" fill="#000">a</text>
<rect x="113.8" y="12.3" width="119.8" height="119.5" fill="none" stroke="#6d6d6d" stroke-width="0.9"/>
<line x1="111.2" y1="32.9" x2="113.8" y2="32.9" stroke="#6d6d6d" stroke-width="0.8"/>
<text x="107.2" y="35.6" font-size="7.5" text-anchor="end" stroke="#231f20">40</text>
<line x1="111.2" y1="53.7" x2="113.8" y2="53.7" stroke="#6d6d6d" stroke-width="0.8"/>
<text x="107.2" y="56.4" font-size="7.5" text-anchor="end" stroke="#231f20">20</text>
<line x1="111.2" y1="74.5" x2="113.8" y2="74.5" stroke="#6d6d6d" stroke-width="0.8"/>
<text x="107.2" y="77.2" font-size="7.5" text-anchor="end" stroke="#231f20">0</text>
<line x1="111.2" y1="95.3" x2="113.8" y2="95.3" stroke="#6d6d6d" stroke-width="0.8"/>
<text x="107.2" y="98" font-size="7.5" text-anchor="end" stroke="#231f20">−20</text>
<line x1="111.2" y1="116.1" x2="113.8" y2="116.1" stroke="#6d6d6d" stroke-width="0.8"/>
<text x="107.2" y="118.8" font-size="7.5" text-anchor="end" stroke="#231f20">−40</text>
<line x1="137.5" y1="131.8" x2="137.5" y2="134.4" stroke="#6d6d6d" stroke-width="0.8"/>
<text x="137.5" y="143.6" font-size="7.5" text-anchor="middle" stroke="#231f20">−100</text>
<line x1="171.7" y1="131.8" x2="171.7" y2="134.4" stroke="#6d6d6d" stroke-width="0.8"/>
<text x="171.7" y="143.6" font-size="7.5" text-anchor="middle" stroke="#231f20">0</text>
<line x1="205.9" y1="131.8" x2="205.9" y2="134.4" stroke="#6d6d6d" stroke-width="0.8"/>
<text x="205.9" y="143.6" font-size="7.5" text-anchor="middle" stroke="#231f20">100</text>
<text x="173.65" y="156.3" font-size="8.8" textLength="110.7" lengthAdjust="spacingAndGlyphs" text-anchor="middle" stroke="#231f20">Principal component1 (77%)</text>
<text x="0" y="0" font-size="8.8" textLength="108" lengthAdjust="spacingAndGlyphs" text-anchor="middle" stroke="#231f20" transform="translate(86.6 73) rotate(-90)">Principal component2 (5%)</text>
<rect x="113.8" y="12.3" width="59.8" height="40.8" fill="#fff" stroke="#d9d9d9" stroke-width="0.8"/>
<text x="117.8" y="20.4" font-size="7.8" textLength="52.3" lengthAdjust="spacingAndGlyphs" fill="#47ae8b" stroke="#47ae8b">Healthy control</text>
<text x="117.8" y="31" font-size="7.8" textLength="47.2" lengthAdjust="spacingAndGlyphs" fill="#e8823c" stroke="#e8823c">ARDS survivor</text>
<text x="117.8" y="41.5" font-size="7.8" textLength="53.1" lengthAdjust="spacingAndGlyphs" fill="#9391cd" stroke="#9391cd">ARDS survivor +</text>
<text x="117.8" y="50" font-size="7.8" textLength="50.7" lengthAdjust="spacingAndGlyphs" fill="#9391cd" stroke="#9391cd">corticosteroids</text>
<circle cx="177.3" cy="81.4" r="2.9" fill="#9391cd"/>
<circle cx="196.5" cy="88.4" r="2.9" fill="#9391cd"/>
<circle cx="202.4" cy="124.6" r="2.9" fill="#9391cd"/>
<circle cx="226.3" cy="19.8" r="2.9" fill="#9391cd"/>
<circle cx="120.9" cy="65.5" r="2.9" fill="#47ae8b"/>
<circle cx="126" cy="67.2" r="2.9" fill="#47ae8b"/>
<circle cx="138.2" cy="71.6" r="2.9" fill="#47ae8b"/>
<circle cx="162.3" cy="68.9" r="2.9" fill="#e8823c"/>
<circle cx="183.8" cy="77.6" r="2.9" fill="#e8823c"/>
<circle cx="181.9" cy="82.1" r="2.9" fill="#e8823c"/>
<text x="64.8" y="170.8" font-size="12" font-weight="bold" fill="#000">b</text>
<line x1="97" y1="181.02" x2="99.7" y2="181.02" stroke="#6d6d6d" stroke-width="0.8"/>
<text x="93" y="183.72" font-size="7.5" text-anchor="end" stroke="#231f20">0.8</text>
<line x1="97" y1="205.54" x2="99.7" y2="205.54" stroke="#6d6d6d" stroke-width="0.8"/>
<text x="93" y="208.24" font-size="7.5" text-anchor="end" stroke="#231f20">0.6</text>
<line x1="97" y1="230.06" x2="99.7" y2="230.06" stroke="#6d6d6d" stroke-width="0.8"/>
<text x="93" y="232.76" font-size="7.5" text-anchor="end" stroke="#231f20">0.4</text>
<line x1="97" y1="254.58" x2="99.7" y2="254.58" stroke="#6d6d6d" stroke-width="0.8"/>
<text x="93" y="257.28" font-size="7.5" text-anchor="end" stroke="#231f20">0.2</text>
<line x1="97" y1="279.1" x2="99.7" y2="279.1" stroke="#6d6d6d" stroke-width="0.8"/>
<text x="93" y="281.8" font-size="7.5" text-anchor="end" stroke="#231f20">0</text>
<line x1="97" y1="303.62" x2="99.7" y2="303.62" stroke="#6d6d6d" stroke-width="0.8"/>
<text x="93" y="306.32" font-size="7.5" text-anchor="end" stroke="#231f20">−0.2</text>
<line x1="106.2" y1="309.1" x2="106.2" y2="311.7" stroke="#6d6d6d" stroke-width="0.8"/>
<text x="106.2" y="321" font-size="7.5" text-anchor="middle" stroke="#231f20">−3,000</text>
<line x1="138" y1="309.1" x2="138" y2="311.7" stroke="#6d6d6d" stroke-width="0.8"/>
<text x="138" y="321" font-size="7.5" text-anchor="middle" stroke="#231f20">TSS</text>
<line x1="170.2" y1="309.1" x2="170.2" y2="311.7" stroke="#6d6d6d" stroke-width="0.8"/>
<text x="170.2" y="321" font-size="7.5" text-anchor="middle" stroke="#231f20">33%</text>
<line x1="202" y1="309.1" x2="202" y2="311.7" stroke="#6d6d6d" stroke-width="0.8"/>
<text x="202" y="321" font-size="7.5" text-anchor="middle" stroke="#231f20">66%</text>
<line x1="234.1" y1="309.1" x2="234.1" y2="311.7" stroke="#6d6d6d" stroke-width="0.8"/>
<text x="234.1" y="321" font-size="7.5" text-anchor="middle" stroke="#231f20">TES</text>
<line x1="266" y1="309.1" x2="266" y2="311.7" stroke="#6d6d6d" stroke-width="0.8"/>
<text x="266" y="321" font-size="7.5" text-anchor="middle" stroke="#231f20">3,000</text>
<text x="139.8" y="334" font-size="8.8" textLength="74" lengthAdjust="spacingAndGlyphs" stroke="#231f20">Genomic region (5'</text>
<text x="218.6" y="334" font-size="8.8" textLength="13.8" lengthAdjust="spacingAndGlyphs" stroke="#231f20">3')</text>
<path d="M213.9 331.6 H218.0 M216.2 329.6 L218.2 331.6 L216.2 333.6" fill="none" stroke="#231f20" stroke-width="0.7"/>
<text font-size="8.8" stroke="#231f20" transform="translate(71.8 244.5) rotate(-90)" text-anchor="middle">log<tspan font-size="6" dy="1.8">2</tspan><tspan dy="-1.8">(fold change versus control)</tspan></text>
<line x1="138" y1="177.5" x2="138" y2="309.1" stroke="#d0d0d0" stroke-width="0.9" stroke-dasharray="3 2"/>
<line x1="234.1" y1="177.5" x2="234.1" y2="309.1" stroke="#d0d0d0" stroke-width="0.9" stroke-dasharray="3 2"/>
<path d="M106.2 288.78 L107.2 288.28 L108.2 286.35 L109.2 285.71 L110.2 286.46 L111.2 286.27 L112.2 286.38 L113.2 287.43 L114.2 285.51 L115.2 284.81 L116.2 286.05 L117.2 284.85 L118.2 285.39 L119.2 284.5 L120.2 284.62 L121.2 283.12 L122.2 283.45 L123.2 283.4 L124.2 282.17 L125.2 281.39 L126.2 279.79 L127.6 277.13 L128.2 276.91 L129.2 272.37 L130.2 268.6 L131.2 261.81 L132.2 257.23 L133.5 248.49 L134.4 246.04 L135.2 248.56 L136.2 253.06 L137 255.58 L138.1 261.98 L139.4 251.06 L140.6 256.39 L141.2 261.46 L142 267.26 L143.2 269.26 L144.2 273.73 L145.2 277.95 L146.2 281.65 L147.2 281.44 L148.2 283.01 L149.2 283.76 L150.2 285.59 L151.2 286.59 L152.2 287.44 L153.2 288.34 L154.2 288.75 L155.2 289.93 L156.2 290.07 L157.2 291.12 L158.2 291.44 L159.2 292.01 L160.2 291.73 L161.2 291.23 L162.2 293.24 L163.2 294.09 L164.2 294.53 L165.2 294.29 L166.2 294.77 L167.2 293.89 L168.2 295.29 L169.2 294.96 L170.2 294.58 L171.2 294.32 L172.2 296.06 L173.2 296.45 L174.2 294.86 L175.2 296.76 L176.2 296.57 L177.2 296.65 L178.2 297.4 L179.2 298.56 L180.2 298.87 L181.2 297.34 L182.2 298.62 L183.2 297.62 L184.2 299.08 L185.2 298.37 L186.2 299.54 L187.2 299.84 L188.2 299.01 L189.2 300.13 L190.2 298.88 L191.2 298.52 L192.2 299.66 L193.2 298.59 L194.2 299.05 L195.2 299.63 L196.2 300.24 L197.2 299.55 L198.2 299.54 L199.2 301.4 L200.2 300.48 L201.2 301.92 L202.2 301.89 L203.2 300.84 L204.2 300.99 L205.2 301.09 L206.2 301.31 L207.2 301.2 L208.2 301.08 L209.2 300.95 L210.2 301.24 L211.2 299.96 L212.2 299.42 L213.2 299.69 L214.2 298.77 L215.2 300 L216.2 302.46 L217.2 301.92 L218.2 302.35 L219.2 301.75 L220.2 303.02 L221.2 303.72 L222.2 302.72 L223.2 303.84 L224.2 303.77 L225.2 302.51 L226.2 303.53 L227.2 303.11 L228.2 303.47 L229.2 301.7 L230.2 299.89 L231.6 297.55 L232.2 293.37 L233.2 282.7 L234.3 273.74 L235.2 283.77 L236.2 295.05 L237.2 295.21 L238.2 295.43 L239.2 295.27 L240.2 295.55 L241.2 295.6 L242.2 295.83 L243.2 296.47 L244.2 296.11 L245.2 296.5 L246.2 297.47 L247.2 296 L248.2 296.89 L249.2 296.97 L250.2 295.83 L251.2 295.34 L252.2 296.21 L253.2 294.82 L254.2 294.53 L255.2 295.07 L256.2 295.85 L257.2 294.99 L258.2 295.76 L259.2 296.05 L260.2 297.14 L261.2 296.21 L262.2 296.85 L263.2 295.26 L264.2 295.39 L265.2 295.86" fill="none" stroke="#9391cd" stroke-width="1" stroke-linejoin="round"/>
<path d="M106.2 288.82 L107.2 287.46 L108.2 283.94 L109.2 282.65 L110.2 284.99 L111.2 286.13 L112.2 286.33 L113.2 284.98 L114.2 284.63 L115.2 283.88 L116.2 283.5 L117.2 282.56 L118.2 282.82 L119.2 282.57 L120.2 282.94 L121.2 282.91 L122.2 282.19 L123.2 280.94 L124.2 280.16 L125.2 278.44 L126.2 276.34 L127.6 274.65 L128.2 273.8 L129.2 269.23 L130.2 266.08 L131.2 260.41 L132.2 253.15 L133.2 245.09 L133.9 239.95 L134.7 234.91 L135.2 236.86 L136.2 243.01 L137.3 248.5 L138.2 245.93 L139.4 242.03 L140.6 249.43 L141.2 255.73 L142 262.83 L143.2 266.72 L144.2 271.94 L145.2 276.24 L146.2 278.75 L147.2 278.87 L148.2 281.27 L149.2 282.73 L150.2 282.8 L151.2 285.2 L152.2 286.11 L153.2 286.15 L154.2 286.81 L155.2 287.44 L156.2 288.98 L157.2 288.95 L158.2 290.14 L159.2 289.66 L160.2 290.97 L161.2 291.52 L162.2 291.35 L163.2 292.18 L164.2 293.38 L165.2 293.45 L166.2 293.22 L167.2 292.88 L168.2 293.24 L169.2 294.11 L170.2 293.36 L171.2 294.9 L172.2 293.92 L173.2 295.2 L174.2 294.4 L175.2 296.19 L176.2 296.52 L177.2 296.94 L178.2 297.59 L179.2 298.07 L180.2 297.96 L181.2 297.46 L182.2 297.27 L183.2 297.82 L184.2 298.58 L185.2 298.04 L186.2 297.15 L187.2 298.63 L188.2 298.62 L189.2 299.13 L190.2 298.01 L191.2 299.16 L192.2 298.05 L193.2 299.21 L194.2 298.7 L195.2 298.84 L196.2 300.28 L197.2 299.2 L198.2 300.25 L199.2 301.14 L200.2 300.3 L201.2 300.45 L202.2 301.78 L203.2 300.84 L204.2 301.2 L205.2 299.78 L206.2 300.19 L207.2 299.69 L208.2 300.47 L209.2 299.15 L210.2 300.34 L211.2 298.24 L212.2 299.09 L213.2 297.49 L214.2 298.01 L215.2 300.46 L216.2 300.73 L217.2 301.22 L218.2 302.55 L219.2 302.52 L220.2 302.42 L221.2 304.52 L222.2 303.14 L223.2 302.81 L224.2 303.19 L225.2 303.49 L226.2 303.53 L227.2 302.23 L228.2 302.52 L229.2 300.71 L230.2 299.14 L231.6 296.55 L232.2 292.42 L233.2 281.56 L234.3 272.25 L235.2 282.38 L236.2 293.94 L237.2 293.98 L238.2 294.06 L239.2 294.54 L240.2 294.05 L241.2 293.76 L242.2 294.58 L243.2 295.73 L244.2 294.85 L245.2 296.14 L246.2 296.16 L247.2 296.43 L248.2 295.44 L249.2 296.46 L250.2 294.69 L251.2 294.77 L252.2 293.92 L253.2 292.76 L254.2 293.4 L255.2 292.7 L256.2 292.91 L257.2 293.34 L258.2 294.04 L259.2 294.3 L260.2 295.41 L261.2 295.03 L262.2 295.67 L263.2 295.35 L264.2 295.23 L265.2 293.69" fill="none" stroke="#e8823c" stroke-width="1" stroke-linejoin="round"/>
<path d="M106.2 270.75 L107.2 271.03 L108.2 269.69 L109.2 267.66 L110.2 267.07 L111.2 267.45 L112.2 268.92 L113.2 268.98 L114.2 267.19 L115.2 266.14 L116.2 266.36 L117.2 264.89 L118.2 264.78 L119.2 263.55 L120.2 264.22 L121.2 264.48 L122.2 262.33 L123.2 262.17 L124.2 259.59 L125.2 255.88 L126.2 251.99 L127.2 248.09 L127.7 247.26 L128.2 243.97 L129.2 235.76 L130.2 229.88 L131.2 220.38 L132.1 212.88 L133.4 197.99 L134.2 188.11 L134.7 182.66 L135.2 186.27 L136 192.86 L137.2 193.29 L137.9 193.47 L139.4 194.13 L140.4 207.05 L141.2 214.2 L142.4 226.31 L143.2 230.74 L144.3 239.64 L145.2 242.74 L146.2 246.62 L147.2 249.42 L148.2 252.34 L149.2 255.19 L150.2 257.75 L151.2 258.23 L152.2 260.74 L153.2 262.64 L154.2 263.7 L155.2 264.9 L156.2 266.41 L157.2 267.46 L158.2 267.59 L159.2 268.37 L160.2 268.42 L161.2 269.52 L162.2 270.75 L163.2 270.59 L164.2 270.77 L165.2 271.85 L166.2 272.46 L167.2 273.5 L168.2 274.53 L169.2 274.33 L170.2 273.84 L171.2 274.01 L172.2 274.43 L173.2 275.13 L174.2 275.46 L175.2 274.72 L176.2 274.67 L177.2 275.58 L178.2 275.95 L179.2 275.56 L180.2 276.09 L181.2 276.86 L182.2 278.53 L183.2 280.24 L184.2 280.47 L185.2 279.48 L186.2 279.18 L187.2 278.08 L188.2 278.74 L189.2 279.72 L190.2 279.51 L191.2 279.66 L192.2 279.63 L193.2 280.23 L194.2 281.1 L195.2 280.01 L196.2 281.59 L197.2 282.09 L198.2 282.65 L199.2 282.87 L200.2 283.36 L201.2 283.23 L202.2 283.48 L203.2 283.16 L204.2 282.42 L205.2 283.45 L206.2 282.85 L207.2 282.43 L208.2 283.44 L209.2 284.12 L210.2 284.6 L211.2 285.04 L212.2 285.25 L213.2 285.19 L214.2 284.95 L215.2 284.52 L216.2 283.72 L217.2 284.11 L218.2 284.28 L219.2 285.19 L220.2 285.91 L221.2 286.05 L222.2 286.2 L223.2 286.46 L224.2 285.91 L225.2 287.04 L226.2 286.73 L227.2 285.44 L228.2 284.82 L229.2 284.33 L230.3 284.74 L231.2 282.27 L232.6 278.04 L233.2 270.05 L234.3 252.48 L235.6 268.84 L236.2 273.31 L236.9 278.8 L238.2 278.49 L239.2 277.94 L240.2 278.42 L241.2 277.97 L242.2 277.69 L243.2 277.82 L244.2 277.03 L245.2 277.46 L246.2 277.41 L247.2 276.98 L248.2 276.79 L249.2 277.69 L250.2 276.69 L251.2 275.74 L252.2 275.83 L253.2 275.7 L254.2 274.17 L255.2 274.24 L256.2 274.86 L257.2 276.25 L258.2 275.95 L259.2 277.21 L260.2 277.28 L261.2 276.63 L262.2 275.53 L263.2 275.97 L264.2 275.05 L265.2 274.13" fill="none" stroke="#47ae8b" stroke-width="1" stroke-linejoin="round"/>
<rect x="99.7" y="177.5" width="172.6" height="131.6" fill="none" stroke="#6d6d6d" stroke-width="0.9"/>
<rect x="211.3" y="178" width="59.6" height="40.7" fill="#fff" stroke="#dcdcdc" stroke-width="0.8"/>
<text x="214.8" y="186.6" font-size="7.8" textLength="52" lengthAdjust="spacingAndGlyphs" fill="#47ae8b" stroke="#47ae8b">Healthy control</text>
<text x="214.8" y="197.3" font-size="7.8" textLength="47.7" lengthAdjust="spacingAndGlyphs" fill="#e8823c" stroke="#e8823c">ARDS survivor</text>
<text x="214.8" y="207.8" font-size="7.8" textLength="53.4" lengthAdjust="spacingAndGlyphs" fill="#9391cd" stroke="#9391cd">ARDS survivor +</text>
<text x="214.8" y="216.4" font-size="7.8" textLength="51.2" lengthAdjust="spacingAndGlyphs" fill="#9391cd" stroke="#9391cd">corticosteroids</text>
<text x="350" y="13.1" font-size="12" font-weight="bold" fill="#000">c</text>
<text x="407.5" y="14" font-size="9.2" textLength="62.2" lengthAdjust="spacingAndGlyphs" text-anchor="middle" fill="#47ae8b" stroke="#47ae8b">Healthy control</text>
<text x="489" y="13.7" font-size="9.2" textLength="56" lengthAdjust="spacingAndGlyphs" text-anchor="middle" fill="#e8823c" stroke="#e8823c">ARDS survivor</text>
<text x="570.8" y="5.6" font-size="9.2" textLength="63" lengthAdjust="spacingAndGlyphs" text-anchor="middle" fill="#9391cd" stroke="#9391cd">ARDS survivor +</text>
<text x="570.8" y="15.4" font-size="9.2" textLength="60.2" lengthAdjust="spacingAndGlyphs" text-anchor="middle" fill="#9391cd" stroke="#9391cd">corticosteroids</text>
<line x1="367" y1="28.2" x2="368.6" y2="28.2" stroke="#6d6d6d" stroke-width="0.8"/>
<text x="363.3" y="30.9" font-size="7.5" text-anchor="end" stroke="#231f20">10</text>
<line x1="367" y1="39.75" x2="368.6" y2="39.75" stroke="#6d6d6d" stroke-width="0.8"/>
<text x="363.3" y="42.45" font-size="7.5" text-anchor="end" stroke="#231f20">5</text>
<line x1="367" y1="51.3" x2="368.6" y2="51.3" stroke="#6d6d6d" stroke-width="0.8"/>
<text x="363.3" y="54" font-size="7.5" text-anchor="end" stroke="#231f20">0</text>
<path d="M369.1 45.9 L370.3 45.98 L371.5 46.24 L372.7 45.93 L373.9 45.98 L375.1 46.05 L376.3 45.78 L377.5 46.03 L378.7 46.14 L379.9 46.29 L381.1 45.83 L382.3 46.02 L383.5 45.91 L384.7 46.46 L385.9 46.43 L387.1 46.03 L388.3 46.75 L389.5 46.8 L390.7 46.65 L391.9 46.69 L393.1 46.44 L394.3 46.42 L395.5 46.85 L396.7 46.59 L397.9 46.75 L399.1 46.85 L400.3 46.77 L401.5 47.12 L402.7 47.15 L403.9 47.48 L405.1 47.28 L406.3 47.39 L407.5 47.3 L408.7 47.41 L409.9 47.26 L411.1 47.11 L412.3 47.59 L413.5 47.55 L414.7 47.4 L415.9 47.25 L417.1 46.91 L418.3 46.79 L419.5 46.76 L420.7 46.54 L421.9 46.95 L423.1 46.62 L424.3 46.87 L425.5 46.47 L426.7 46.81 L427.9 46.66 L429.1 46.01 L430.3 46.1 L431.5 46.54 L432.7 46.18 L433.9 46.5 L435.1 46.05 L436.3 45.79 L437.5 46.15 L438.7 46.23 L439.9 45.85 L441.1 45.7 L442.3 45.85 L443.5 46.28 L444.7 46.13 L445.9 45.67" fill="none" stroke="#3ec6ea" stroke-width="0.9" stroke-linejoin="round"/>
<path d="M369.1 50.08 L369.8 50.05 L370.5 50.02 L371.2 50 L371.9 49.97 L372.6 49.93 L373.3 49.9 L374 49.87 L374.7 49.83 L375.4 49.79 L376.1 49.75 L376.8 49.71 L377.5 49.66 L378.2 49.61 L378.9 49.56 L379.6 49.5 L380.3 49.44 L381 49.37 L381.7 49.3 L382.4 49.22 L383.1 49.14 L383.8 49.04 L384.5 48.94 L385.2 48.82 L385.9 48.69 L386.6 48.55 L387.3 48.38 L388 48.19 L388.7 47.97 L389.4 47.72 L390.1 47.44 L390.8 47.1 L391.5 46.72 L392.2 46.28 L392.9 45.78 L393.6 45.2 L394.3 44.54 L395 43.8 L395.7 42.96 L396.4 42.03 L397.1 40.99 L397.8 39.86 L398.5 38.63 L399.2 37.3 L399.9 35.89 L400.6 34.41 L401.3 32.87 L402 31.31 L402.7 29.74 L403.4 28.21 L404.1 26.74 L404.8 25.4 L405.5 24.22 L406.2 23.25 L406.9 22.54 L407.6 22.12 L408.3 22 L409 22.21 L409.7 22.72 L410.4 23.51 L411.1 24.54 L411.8 25.77 L412.5 27.15 L413.2 28.64 L413.9 30.19 L414.6 31.76 L415.3 33.31 L416 34.84 L416.7 36.3 L417.4 37.69 L418.1 38.99 L418.8 40.19 L419.5 41.3 L420.2 42.3 L420.9 43.21 L421.6 44.02 L422.3 44.74 L423 45.37 L423.7 45.93 L424.4 46.41 L425.1 46.84 L425.8 47.2 L426.5 47.52 L427.2 47.8 L427.9 48.04 L428.6 48.25 L429.3 48.43 L430 48.59 L430.7 48.73 L431.4 48.86 L432.1 48.97 L432.8 49.07 L433.5 49.16 L434.2 49.24 L434.9 49.32 L435.6 49.39 L436.3 49.46 L437 49.52 L437.7 49.57 L438.4 49.62 L439.1 49.67 L439.8 49.72 L440.5 49.76 L441.2 49.8 L441.9 49.84 L442.6 49.88 L443.3 49.91 L444 49.94 L444.7 49.97 L445.4 50 L446.1 50.03" fill="none" stroke="#6b52c2" stroke-width="1" stroke-linejoin="round"/>
<rect x="368.6" y="52.7" width="78" height="2" fill="#cdcdcd"/>
<rect x="368.6" y="18.4" width="78" height="34.3" fill="none" stroke="#6a6a6a" stroke-width="1"/>
<path d="M451 45.72 L452.2 45.62 L453.4 45.59 L454.6 46.11 L455.8 45.67 L457 45.94 L458.2 45.86 L459.4 45.68 L460.6 46.06 L461.8 45.63 L463 45.99 L464.2 45.62 L465.4 45.82 L466.6 45.67 L467.8 45.69 L469 46.17 L470.2 46.03 L471.4 45.65 L472.6 46.03 L473.8 45.52 L475 45.6 L476.2 45.87 L477.4 45.66 L478.6 45.21 L479.8 45.76 L481 45.15 L482.2 45.11 L483.4 45.4 L484.6 45.02 L485.8 44.95 L487 44.75 L488.2 44.73 L489.4 45.06 L490.6 44.82 L491.8 45.09 L493 44.96 L494.2 45.06 L495.4 45.47 L496.6 45.21 L497.8 45.34 L499 45.62 L500.2 45.21 L501.4 45.26 L502.6 45.85 L503.8 45.85 L505 45.5 L506.2 45.51 L507.4 45.93 L508.6 46.1 L509.8 45.61 L511 46.16 L512.2 46.13 L513.4 45.94 L514.6 45.82 L515.8 45.61 L517 45.57 L518.2 46.22 L519.4 45.71 L520.6 46.04 L521.8 45.73 L523 46.13 L524.2 45.97 L525.4 45.76 L526.6 45.67" fill="none" stroke="#3ec6ea" stroke-width="0.9" stroke-linejoin="round"/>
<path d="M451 50.61 L451.7 50.61 L452.4 50.6 L453.1 50.59 L453.8 50.58 L454.5 50.58 L455.2 50.57 L455.9 50.56 L456.6 50.55 L457.3 50.54 L458 50.53 L458.7 50.52 L459.4 50.5 L460.1 50.49 L460.8 50.48 L461.5 50.46 L462.2 50.45 L462.9 50.43 L463.6 50.41 L464.3 50.39 L465 50.37 L465.7 50.34 L466.4 50.31 L467.1 50.28 L467.8 50.25 L468.5 50.21 L469.2 50.17 L469.9 50.11 L470.6 50.06 L471.3 49.99 L472 49.91 L472.7 49.82 L473.4 49.72 L474.1 49.6 L474.8 49.47 L475.5 49.31 L476.2 49.14 L476.9 48.94 L477.6 48.72 L478.3 48.47 L479 48.2 L479.7 47.9 L480.4 47.58 L481.1 47.23 L481.8 46.86 L482.5 46.48 L483.2 46.08 L483.9 45.68 L484.6 45.27 L485.3 44.88 L486 44.52 L486.7 44.18 L487.4 43.89 L488.1 43.66 L488.8 43.5 L489.5 43.41 L490.2 43.41 L490.9 43.48 L491.6 43.63 L492.3 43.86 L493 44.14 L493.7 44.47 L494.4 44.83 L495.1 45.22 L495.8 45.62 L496.5 46.02 L497.2 46.42 L497.9 46.81 L498.6 47.18 L499.3 47.53 L500 47.86 L500.7 48.16 L501.4 48.43 L502.1 48.69 L502.8 48.91 L503.5 49.11 L504.2 49.29 L504.9 49.45 L505.6 49.59 L506.3 49.71 L507 49.81 L507.7 49.9 L508.4 49.98 L509.1 50.05 L509.8 50.11 L510.5 50.16 L511.2 50.2 L511.9 50.24 L512.6 50.28 L513.3 50.31 L514 50.34 L514.7 50.36 L515.4 50.39 L516.1 50.41 L516.8 50.43 L517.5 50.44 L518.2 50.46 L518.9 50.47 L519.6 50.49 L520.3 50.5 L521 50.51 L521.7 50.53 L522.4 50.54 L523.1 50.55 L523.8 50.56 L524.5 50.57 L525.2 50.57 L525.9 50.58 L526.6 50.59 L527.3 50.6" fill="none" stroke="#6b52c2" stroke-width="1" stroke-linejoin="round"/>
<rect x="450.5" y="52.7" width="77.6" height="2" fill="#cdcdcd"/>
<rect x="450.5" y="18.4" width="77.6" height="34.3" fill="none" stroke="#6a6a6a" stroke-width="1"/>
<path d="M532.2 45.15 L533.4 44.7 L534.6 44.81 L535.8 45.04 L537 45.25 L538.2 45.08 L539.4 44.85 L540.6 45.29 L541.8 44.79 L543 44.66 L544.2 44.83 L545.4 44.96 L546.6 44.68 L547.8 44.76 L549 44.89 L550.2 45.02 L551.4 44.71 L552.6 44.86 L553.8 45.21 L555 45.26 L556.2 45.01 L557.4 45.01 L558.6 44.91 L559.8 44.57 L561 44.46 L562.2 44.42 L563.4 45.01 L564.6 44.83 L565.8 44.99 L567 44.31 L568.2 44.72 L569.4 44.6 L570.6 44.76 L571.8 44.47 L573 44.96 L574.2 44.32 L575.4 44.67 L576.6 44.83 L577.8 44.97 L579 44.89 L580.2 44.9 L581.4 44.99 L582.6 45.11 L583.8 44.75 L585 45.01 L586.2 45.18 L587.4 45.18 L588.6 44.88 L589.8 45.16 L591 45.22 L592.2 45.02 L593.4 45.07 L594.6 44.9 L595.8 45.05 L597 45.07 L598.2 44.7 L599.4 45.09 L600.6 45.34 L601.8 45.26 L603 45.16 L604.2 44.92 L605.4 45.16 L606.6 45.06 L607.8 44.96 L609 45.24" fill="none" stroke="#3ec6ea" stroke-width="0.9" stroke-linejoin="round"/>
<path d="M532.2 50.71 L532.9 50.7 L533.6 50.7 L534.3 50.7 L535 50.69 L535.7 50.69 L536.4 50.68 L537.1 50.68 L537.8 50.67 L538.5 50.67 L539.2 50.66 L539.9 50.66 L540.6 50.65 L541.3 50.65 L542 50.64 L542.7 50.63 L543.4 50.62 L544.1 50.62 L544.8 50.61 L545.5 50.6 L546.2 50.58 L546.9 50.57 L547.6 50.56 L548.3 50.54 L549 50.53 L549.7 50.51 L550.4 50.49 L551.1 50.46 L551.8 50.43 L552.5 50.4 L553.2 50.36 L553.9 50.32 L554.6 50.27 L555.3 50.21 L556 50.14 L556.7 50.07 L557.4 49.98 L558.1 49.89 L558.8 49.78 L559.5 49.65 L560.2 49.52 L560.9 49.37 L561.6 49.21 L562.3 49.04 L563 48.86 L563.7 48.67 L564.4 48.47 L565.1 48.27 L565.8 48.07 L566.5 47.87 L567.2 47.68 L567.9 47.51 L568.6 47.37 L569.3 47.25 L570 47.16 L570.7 47.11 L571.4 47.1 L572.1 47.13 L572.8 47.2 L573.5 47.31 L574.2 47.45 L574.9 47.61 L575.6 47.79 L576.3 47.98 L577 48.18 L577.7 48.38 L578.4 48.58 L579.1 48.78 L579.8 48.96 L580.5 49.14 L581.2 49.31 L581.9 49.46 L582.6 49.6 L583.3 49.73 L584 49.84 L584.7 49.94 L585.4 50.03 L586.1 50.11 L586.8 50.18 L587.5 50.24 L588.2 50.3 L588.9 50.34 L589.6 50.38 L590.3 50.42 L591 50.45 L591.7 50.48 L592.4 50.5 L593.1 50.52 L593.8 50.54 L594.5 50.55 L595.2 50.57 L595.9 50.58 L596.6 50.59 L597.3 50.6 L598 50.61 L598.7 50.62 L599.4 50.63 L600.1 50.64 L600.8 50.64 L601.5 50.65 L602.2 50.66 L602.9 50.66 L603.6 50.67 L604.3 50.67 L605 50.68 L605.7 50.68 L606.4 50.69 L607.1 50.69 L607.8 50.69 L608.5 50.7" fill="none" stroke="#6b52c2" stroke-width="1" stroke-linejoin="round"/>
<rect x="531.7" y="52.7" width="77.8" height="2" fill="#cdcdcd"/>
<rect x="531.7" y="18.4" width="77.8" height="34.3" fill="none" stroke="#6a6a6a" stroke-width="1"/>
<rect x="368.6" y="54.7" width="78" height="217.8" fill="#fff"/>
<g><rect x="368.6" y="54.7" width="78" height="1.05" fill="url(#h0_7)" opacity="0.86"/><rect x="368.6" y="55.7" width="78" height="1.05" fill="url(#h0_9)" opacity="0.8"/><rect x="368.6" y="56.7" width="78" height="1.05" fill="url(#h0_15)" opacity="0.87"/><rect x="368.6" y="57.7" width="78" height="1.05" fill="url(#h0_3)" opacity="0.72"/><rect x="368.6" y="58.7" width="78" height="1.05" fill="url(#h0_9)" opacity="0.87"/><rect x="368.6" y="59.7" width="78" height="1.05" fill="url(#h0_9)" opacity="0.39"/><rect x="368.6" y="60.7" width="78" height="1.05" fill="url(#h0_18)" opacity="0.44"/><rect x="368.6" y="61.7" width="78" height="1.05" fill="url(#h0_3)" opacity="0.97"/><rect x="368.6" y="62.7" width="78" height="1.05" fill="url(#h0_0)" opacity="0.84"/><rect x="368.6" y="63.7" width="78" height="1.05" fill="url(#h0_19)" opacity="0.88"/><rect x="368.6" y="64.7" width="78" height="1.05" fill="url(#h0_15)" opacity="0.96"/><rect x="368.6" y="65.7" width="78" height="1.05" fill="url(#h0_15)" opacity="0.83"/><rect x="368.6" y="66.7" width="78" height="1.05" fill="url(#h0_6)" opacity="0.97"/><rect x="368.6" y="67.7" width="78" height="1.05" fill="url(#h0_2)" opacity="0.49"/><rect x="368.6" y="68.7" width="78" height="1.05" fill="url(#h0_18)" opacity="0.8"/><rect x="368.6" y="69.7" width="78" height="1.05" fill="url(#h0_9)" opacity="0.76"/><rect x="368.6" y="70.7" width="78" height="1.05" fill="url(#h0_17)" opacity="0.97"/><rect x="368.6" y="71.7" width="78" height="1.05" fill="url(#h0_17)" opacity="0.76"/><rect x="368.6" y="72.7" width="78" height="1.05" fill="url(#h0_1)" opacity="0.74"/><rect x="368.6" y="73.7" width="78" height="1.05" fill="url(#h0_2)" opacity="0.94"/><rect x="368.6" y="74.7" width="78" height="1.05" fill="url(#h0_0)" opacity="0.81"/><rect x="368.6" y="75.7" width="78" height="1.05" fill="url(#h0_2)" opacity="1"/><rect x="368.6" y="76.7" width="78" height="1.05" fill="url(#h0_1)" opacity="0.75"/><rect x="368.6" y="77.7" width="78" height="1.05" fill="url(#h0_19)" opacity="0.9"/><rect x="368.6" y="78.7" width="78" height="1.05" fill="url(#h0_4)" opacity="1"/><rect x="368.6" y="79.7" width="78" height="1.05" fill="url(#h0_14)" opacity="0.76"/><rect x="368.6" y="80.7" width="78" height="1.05" fill="url(#h0_13)" opacity="0.35"/><rect x="368.6" y="81.7" width="78" height="1.05" fill="url(#h0_17)" opacity="0.75"/><rect x="368.6" y="82.7" width="78" height="1.05" fill="url(#h0_2)" opacity="0.8"/><rect x="368.6" y="83.7" width="78" height="1.05" fill="url(#h0_3)" opacity="0.93"/><rect x="368.6" y="84.7" width="78" height="1.05" fill="url(#h0_4)" opacity="0.47"/><rect x="368.6" y="85.7" width="78" height="1.05" fill="url(#h0_15)" opacity="0.86"/><rect x="368.6" y="86.7" width="78" height="1.05" fill="url(#h0_11)" opacity="0.98"/><rect x="368.6" y="87.7" width="78" height="1.05" fill="url(#h0_9)" opacity="0.76"/><rect x="368.6" y="88.7" width="78" height="1.05" fill="url(#h0_16)" opacity="0.8"/><rect x="368.6" y="89.7" width="78" height="1.05" fill="url(#h0_17)" opacity="0.89"/><rect x="368.6" y="90.7" width="78" height="1.05" fill="url(#h0_17)" opacity="0.79"/><rect x="368.6" y="91.7" width="78" height="1.05" fill="url(#h0_9)" opacity="0.86"/><rect x="368.6" y="92.7" width="78" height="1.05" fill="url(#h0_7)" opacity="0.96"/><rect x="368.6" y="93.7" width="78" height="1.05" fill="url(#h0_12)" opacity="0.77"/><rect x="368.6" y="94.7" width="78" height="1.05" fill="url(#h0_10)" opacity="0.74"/><rect x="368.6" y="95.7" width="78" height="1.05" fill="url(#h0_2)" opacity="0.96"/><rect x="368.6" y="96.7" width="78" height="1.05" fill="url(#h0_14)" opacity="0.79"/><rect x="368.6" y="97.7" width="78" height="1.05" fill="url(#h0_15)" opacity="0.43"/><rect x="368.6" y="98.7" width="78" height="1.05" fill="url(#h0_17)" opacity="0.34"/><rect x="368.6" y="99.7" width="78" height="1.05" fill="url(#h0_13)" opacity="0.91"/><rect x="368.6" y="100.7" width="78" height="1.05" fill="url(#h0_3)" opacity="0.74"/><rect x="368.6" y="101.7" width="78" height="1.05" fill="url(#h0_15)" opacity="0.95"/><rect x="368.6" y="102.7" width="78" height="1.05" fill="url(#h0_19)" opacity="0.83"/><rect x="368.6" y="103.7" width="78" height="1.05" fill="url(#h0_9)" opacity="0.81"/><rect x="368.6" y="104.7" width="78" height="1.05" fill="url(#h0_11)" opacity="0.94"/><rect x="368.6" y="105.7" width="78" height="1.05" fill="url(#h0_11)" opacity="0.9"/><rect x="368.6" y="106.7" width="78" height="1.05" fill="url(#h0_13)" opacity="0.99"/><rect x="368.6" y="107.7" width="78" height="1.05" fill="url(#h0_1)" opacity="0.89"/><rect x="368.6" y="108.7" width="78" height="1.05" fill="url(#h0_5)" opacity="0.31"/><rect x="368.6" y="109.7" width="78" height="1.05" fill="url(#h0_6)" opacity="0.77"/><rect x="368.6" y="110.7" width="78" height="1.05" fill="url(#h0_15)" opacity="0.91"/><rect x="368.6" y="111.7" width="78" height="1.05" fill="url(#h0_13)" opacity="0.85"/><rect x="368.6" y="112.7" width="78" height="1.05" fill="url(#h0_19)" opacity="0.98"/><rect x="368.6" y="113.7" width="78" height="1.05" fill="url(#h0_14)" opacity="0.75"/><rect x="368.6" y="114.7" width="78" height="1.05" fill="url(#h0_5)" opacity="0.74"/><rect x="368.6" y="115.7" width="78" height="1.05" fill="url(#h0_15)" opacity="0.76"/><rect x="368.6" y="116.7" width="78" height="1.05" fill="url(#h0_8)" opacity="0.95"/><rect x="368.6" y="117.7" width="78" height="1.05" fill="url(#h0_7)" opacity="0.73"/><rect x="368.6" y="118.7" width="78" height="1.05" fill="url(#h0_11)" opacity="0.98"/><rect x="368.6" y="119.7" width="78" height="1.05" fill="url(#h0_1)" opacity="0.91"/><rect x="368.6" y="120.7" width="78" height="1.05" fill="url(#h0_15)" opacity="0.96"/><rect x="368.6" y="121.7" width="78" height="1.05" fill="url(#h0_10)" opacity="0.8"/><rect x="368.6" y="122.7" width="78" height="1.05" fill="url(#h0_5)" opacity="0.73"/><rect x="368.6" y="123.7" width="78" height="1.05" fill="url(#h0_18)" opacity="0.4"/><rect x="368.6" y="124.7" width="78" height="1.05" fill="url(#h0_11)" opacity="0.91"/><rect x="368.6" y="125.7" width="78" height="1.05" fill="url(#h0_11)" opacity="0.8"/><rect x="368.6" y="126.7" width="78" height="1.05" fill="url(#h0_14)" opacity="0.77"/><rect x="368.6" y="127.7" width="78" height="1.05" fill="url(#h0_6)" opacity="0.98"/><rect x="368.6" y="128.7" width="78" height="1.05" fill="url(#h0_13)" opacity="0.92"/><rect x="368.6" y="129.7" width="78" height="1.05" fill="url(#h0_14)" opacity="0.74"/><rect x="368.6" y="130.7" width="78" height="1.05" fill="url(#h0_13)" opacity="0.51"/><rect x="368.6" y="131.7" width="78" height="1.05" fill="url(#h0_16)" opacity="0.88"/><rect x="368.6" y="132.7" width="78" height="1.05" fill="url(#h0_2)" opacity="0.79"/><rect x="368.6" y="133.7" width="78" height="1.05" fill="url(#h0_2)" opacity="0.36"/><rect x="368.6" y="134.7" width="78" height="1.05" fill="url(#h0_1)" opacity="0.86"/><rect x="368.6" y="135.7" width="78" height="1.05" fill="url(#h0_1)" opacity="0.79"/><rect x="368.6" y="136.7" width="78" height="1.05" fill="url(#h0_9)" opacity="0.9"/><rect x="368.6" y="137.7" width="78" height="1.05" fill="url(#h0_6)" opacity="0.77"/><rect x="368.6" y="138.7" width="78" height="1.05" fill="url(#h0_12)" opacity="0.77"/><rect x="368.6" y="139.7" width="78" height="1.05" fill="url(#h0_10)" opacity="0.55"/><rect x="368.6" y="140.7" width="78" height="1.05" fill="url(#h0_5)" opacity="0.89"/><rect x="368.6" y="141.7" width="78" height="1.05" fill="url(#h0_6)" opacity="0.89"/><rect x="368.6" y="142.7" width="78" height="1.05" fill="url(#h0_11)" opacity="0.86"/><rect x="368.6" y="143.7" width="78" height="1.05" fill="url(#h0_12)" opacity="0.87"/><rect x="368.6" y="144.7" width="78" height="1.05" fill="url(#h0_0)" opacity="0.98"/><rect x="368.6" y="145.7" width="78" height="1.05" fill="url(#h0_14)" opacity="0.97"/><rect x="368.6" y="146.7" width="78" height="1.05" fill="url(#h0_17)" opacity="0.75"/><rect x="368.6" y="147.7" width="78" height="1.05" fill="url(#h0_2)" opacity="0.94"/><rect x="368.6" y="148.7" width="78" height="1.05" fill="url(#h0_12)" opacity="0.81"/><rect x="368.6" y="149.7" width="78" height="1.05" fill="url(#h0_2)" opacity="0.85"/><rect x="368.6" y="150.7" width="78" height="1.05" fill="url(#h0_13)" opacity="0.99"/><rect x="368.6" y="151.7" width="78" height="1.05" fill="url(#h0_8)" opacity="0.74"/><rect x="368.6" y="152.7" width="78" height="1.05" fill="url(#h0_1)" opacity="0.92"/><rect x="368.6" y="153.7" width="78" height="1.05" fill="url(#h0_11)" opacity="0.49"/><rect x="368.6" y="154.7" width="78" height="1.05" fill="url(#h0_12)" opacity="0.93"/><rect x="368.6" y="155.7" width="78" height="1.05" fill="url(#h0_9)" opacity="0.9"/><rect x="368.6" y="156.7" width="78" height="1.05" fill="url(#h0_18)" opacity="0.73"/><rect x="368.6" y="157.7" width="78" height="1.05" fill="url(#h0_0)" opacity="0.92"/><rect x="368.6" y="158.7" width="78" height="1.05" fill="url(#h0_8)" opacity="0.75"/><rect x="368.6" y="159.7" width="78" height="1.05" fill="url(#h0_17)" opacity="0.34"/><rect x="368.6" y="160.7" width="78" height="1.05" fill="url(#h0_8)" opacity="0.86"/><rect x="368.6" y="161.7" width="78" height="1.05" fill="url(#h0_1)" opacity="0.74"/><rect x="368.6" y="162.7" width="78" height="1.05" fill="url(#h0_17)" opacity="0.73"/><rect x="368.6" y="163.7" width="78" height="1.05" fill="url(#h0_4)" opacity="0.95"/><rect x="368.6" y="164.7" width="78" height="1.05" fill="url(#h0_8)" opacity="0.99"/><rect x="368.6" y="165.7" width="78" height="1.05" fill="url(#h0_7)" opacity="0.87"/><rect x="368.6" y="166.7" width="78" height="1.05" fill="url(#h0_6)" opacity="0.45"/><rect x="368.6" y="167.7" width="78" height="1.05" fill="url(#h0_5)" opacity="0.43"/><rect x="368.6" y="168.7" width="78" height="1.05" fill="url(#h0_5)" opacity="0.9"/><rect x="368.6" y="169.7" width="78" height="1.05" fill="url(#h0_13)" opacity="0.38"/><rect x="368.6" y="170.7" width="78" height="1.05" fill="url(#h0_7)" opacity="0.85"/><rect x="368.6" y="171.7" width="78" height="1.05" fill="url(#h0_14)" opacity="0.73"/><rect x="368.6" y="172.7" width="78" height="1.05" fill="url(#h0_5)" opacity="0.87"/><rect x="368.6" y="173.7" width="78" height="1.05" fill="url(#h0_19)" opacity="0.72"/><rect x="368.6" y="174.7" width="78" height="1.05" fill="url(#h0_13)" opacity="0.91"/><rect x="368.6" y="175.7" width="78" height="1.05" fill="url(#h0_0)" opacity="0.73"/><rect x="368.6" y="176.7" width="78" height="1.05" fill="url(#h0_15)" opacity="0.92"/><rect x="368.6" y="177.7" width="78" height="1.05" fill="url(#h0_14)" opacity="0.78"/><rect x="368.6" y="178.7" width="78" height="1.05" fill="url(#h0_6)" opacity="0.8"/><rect x="368.6" y="179.7" width="78" height="1.05" fill="url(#h0_7)" opacity="0.82"/><rect x="368.6" y="180.7" width="78" height="1.05" fill="url(#h0_1)" opacity="0.89"/><rect x="368.6" y="181.7" width="78" height="1.05" fill="url(#h0_4)" opacity="0.76"/><rect x="368.6" y="182.7" width="78" height="1.05" fill="url(#h0_12)" opacity="0.73"/><rect x="368.6" y="183.7" width="78" height="1.05" fill="url(#h0_3)" opacity="0.93"/><rect x="368.6" y="184.7" width="78" height="1.05" fill="url(#h0_6)" opacity="0.94"/><rect x="368.6" y="185.7" width="78" height="1.05" fill="url(#h0_15)" opacity="0.91"/><rect x="368.6" y="186.7" width="78" height="1.05" fill="url(#h0_19)" opacity="0.75"/><rect x="368.6" y="187.7" width="78" height="1.05" fill="url(#h0_0)" opacity="0.75"/><rect x="368.6" y="188.7" width="78" height="1.05" fill="url(#h0_19)" opacity="0.77"/><rect x="368.6" y="189.7" width="78" height="1.05" fill="url(#h0_10)" opacity="0.91"/><rect x="368.6" y="190.7" width="78" height="1.05" fill="url(#h0_16)" opacity="0.83"/><rect x="368.6" y="191.7" width="78" height="1.05" fill="url(#h0_12)" opacity="0.85"/><rect x="368.6" y="192.7" width="78" height="1.05" fill="url(#h0_18)" opacity="0.98"/><rect x="368.6" y="193.7" width="78" height="1.05" fill="url(#h0_1)" opacity="0.87"/><rect x="368.6" y="194.7" width="78" height="1.05" fill="url(#h0_11)" opacity="0.49"/><rect x="368.6" y="195.7" width="78" height="1.05" fill="url(#h0_6)" opacity="0.32"/><rect x="368.6" y="196.7" width="78" height="1.05" fill="url(#h0_11)" opacity="0.89"/><rect x="368.6" y="197.7" width="78" height="1.05" fill="url(#h0_13)" opacity="0.81"/><rect x="368.6" y="198.7" width="78" height="1.05" fill="url(#h0_8)" opacity="0.98"/><rect x="368.6" y="199.7" width="78" height="1.05" fill="url(#h0_1)" opacity="0.93"/><rect x="368.6" y="200.7" width="78" height="1.05" fill="url(#h0_9)" opacity="0.97"/><rect x="368.6" y="201.7" width="78" height="1.05" fill="url(#h0_19)" opacity="0.89"/><rect x="368.6" y="202.7" width="78" height="1.05" fill="url(#h0_16)" opacity="0.75"/><rect x="368.6" y="203.7" width="78" height="1.05" fill="url(#h0_10)" opacity="0.99"/><rect x="368.6" y="204.7" width="78" height="1.05" fill="url(#h0_12)" opacity="0.99"/><rect x="368.6" y="205.7" width="78" height="1.05" fill="url(#h0_12)" opacity="0.77"/><rect x="368.6" y="206.7" width="78" height="1.05" fill="url(#h0_6)" opacity="0.97"/><rect x="368.6" y="207.7" width="78" height="1.05" fill="url(#h0_12)" opacity="0.81"/><rect x="368.6" y="208.7" width="78" height="1.05" fill="url(#h0_17)" opacity="0.91"/><rect x="368.6" y="209.7" width="78" height="1.05" fill="url(#h0_7)" opacity="0.97"/><rect x="368.6" y="210.7" width="78" height="1.05" fill="url(#h0_9)" opacity="0.94"/><rect x="368.6" y="211.7" width="78" height="1.05" fill="url(#h0_2)" opacity="0.97"/><rect x="368.6" y="212.7" width="78" height="1.05" fill="url(#h0_13)" opacity="0.93"/><rect x="368.6" y="213.7" width="78" height="1.05" fill="url(#h0_2)" opacity="0.88"/><rect x="368.6" y="214.7" width="78" height="1.05" fill="url(#h0_17)" opacity="0.92"/><rect x="368.6" y="215.7" width="78" height="1.05" fill="url(#h0_13)" opacity="0.86"/><rect x="368.6" y="216.7" width="78" height="1.05" fill="url(#h0_7)" opacity="0.8"/><rect x="368.6" y="217.7" width="78" height="1.05" fill="url(#h0_19)" opacity="0.97"/><rect x="368.6" y="218.7" width="78" height="1.05" fill="url(#h0_13)" opacity="0.44"/><rect x="368.6" y="219.7" width="78" height="1.05" fill="url(#h0_19)" opacity="0.88"/><rect x="368.6" y="220.7" width="78" height="1.05" fill="url(#h0_10)" opacity="0.89"/><rect x="368.6" y="221.7" width="78" height="1.05" fill="url(#h0_10)" opacity="0.42"/><rect x="368.6" y="222.7" width="78" height="1.05" fill="url(#h0_16)" opacity="0.99"/><rect x="368.6" y="223.7" width="78" height="1.05" fill="url(#h0_14)" opacity="0.9"/><rect x="368.6" y="224.7" width="78" height="1.05" fill="url(#h0_7)" opacity="0.97"/><rect x="368.6" y="225.7" width="78" height="1.05" fill="url(#h0_15)" opacity="0.47"/><rect x="368.6" y="226.7" width="78" height="1.05" fill="url(#h0_3)" opacity="0.75"/><rect x="368.6" y="227.7" width="78" height="1.05" fill="url(#h0_19)" opacity="0.93"/><rect x="368.6" y="228.7" width="78" height="1.05" fill="url(#h0_14)" opacity="0.93"/><rect x="368.6" y="229.7" width="78" height="1.05" fill="url(#h0_5)" opacity="0.92"/><rect x="368.6" y="230.7" width="78" height="1.05" fill="url(#h0_18)" opacity="0.9"/><rect x="368.6" y="231.7" width="78" height="1.05" fill="url(#h0_3)" opacity="0.82"/><rect x="368.6" y="232.7" width="78" height="1.05" fill="url(#h0_6)" opacity="0.78"/><rect x="368.6" y="233.7" width="78" height="1.05" fill="url(#h0_14)" opacity="0.97"/><rect x="368.6" y="234.7" width="78" height="1.05" fill="url(#h0_2)" opacity="0.79"/><rect x="368.6" y="235.7" width="78" height="1.05" fill="url(#h0_14)" opacity="0.45"/><rect x="368.6" y="236.7" width="78" height="1.05" fill="url(#h0_11)" opacity="0.4"/><rect x="368.6" y="237.7" width="78" height="1.05" fill="url(#h0_10)" opacity="0.49"/><rect x="368.6" y="238.7" width="78" height="1.05" fill="url(#h0_9)" opacity="0.72"/><rect x="368.6" y="239.7" width="78" height="1.05" fill="url(#h0_11)" opacity="0.93"/><rect x="368.6" y="240.7" width="78" height="1.05" fill="url(#h0_10)" opacity="0.83"/><rect x="368.6" y="241.7" width="78" height="1.05" fill="url(#h0_15)" opacity="0.9"/><rect x="368.6" y="242.7" width="78" height="1.05" fill="url(#h0_2)" opacity="0.88"/><rect x="368.6" y="243.7" width="78" height="1.05" fill="url(#h0_10)" opacity="0.41"/><rect x="368.6" y="244.7" width="78" height="1.05" fill="url(#h0_7)" opacity="0.84"/><rect x="368.6" y="245.7" width="78" height="1.05" fill="url(#h0_2)" opacity="0.76"/><rect x="368.6" y="246.7" width="78" height="1.05" fill="url(#h0_17)" opacity="0.85"/><rect x="368.6" y="247.7" width="78" height="1.05" fill="url(#h0_17)" opacity="0.96"/><rect x="368.6" y="248.7" width="78" height="1.05" fill="url(#h0_7)" opacity="0.75"/><rect x="368.6" y="249.7" width="78" height="1.05" fill="url(#h0_2)" opacity="0.72"/><rect x="368.6" y="250.7" width="78" height="1.05" fill="url(#h0_11)" opacity="0.44"/><rect x="368.6" y="251.7" width="78" height="1.05" fill="url(#h0_12)" opacity="0.54"/><rect x="368.6" y="252.7" width="78" height="1.05" fill="url(#h0_6)" opacity="0.99"/><rect x="368.6" y="253.7" width="78" height="1.05" fill="url(#h0_15)" opacity="0.87"/><rect x="368.6" y="254.7" width="78" height="1.05" fill="url(#h0_19)" opacity="0.99"/><rect x="368.6" y="255.7" width="78" height="1.05" fill="url(#h0_16)" opacity="0.73"/><rect x="368.6" y="256.7" width="78" height="1.05" fill="url(#h0_16)" opacity="0.84"/><rect x="368.6" y="257.7" width="78" height="1.05" fill="url(#h0_19)" opacity="0.31"/><rect x="368.6" y="258.7" width="78" height="1.05" fill="url(#h0_13)" opacity="0.95"/><rect x="368.6" y="259.7" width="78" height="1.05" fill="url(#h0_13)" opacity="0.98"/><rect x="368.6" y="260.7" width="78" height="1.05" fill="url(#h0_5)" opacity="0.97"/><rect x="368.6" y="261.7" width="78" height="1.05" fill="url(#h0_6)" opacity="0.84"/><rect x="368.6" y="262.7" width="78" height="1.05" fill="url(#h0_11)" opacity="0.78"/><rect x="368.6" y="263.7" width="78" height="1.05" fill="url(#h0_8)" opacity="0.76"/><rect x="368.6" y="264.7" width="78" height="1.05" fill="url(#h0_0)" opacity="0.91"/><rect x="368.6" y="265.7" width="78" height="1.05" fill="url(#h0_5)" opacity="0.47"/><rect x="368.6" y="266.7" width="78" height="1.05" fill="url(#h0_1)" opacity="0.97"/><rect x="368.6" y="267.7" width="78" height="1.05" fill="url(#h0_6)" opacity="0.9"/><rect x="368.6" y="268.7" width="78" height="1.05" fill="url(#h0_15)" opacity="0.99"/><rect x="368.6" y="269.7" width="78" height="1.05" fill="url(#h0_4)" opacity="0.39"/><rect x="368.6" y="270.7" width="78" height="1.05" fill="url(#h0_19)" opacity="0.73"/><rect x="368.6" y="271.7" width="78" height="0.85" fill="url(#h0_13)" opacity="0.74"/></g>
<rect x="368.6" y="54.7" width="78" height="217.8" fill="none" stroke="#5a5a5a" stroke-width="1.1"/>
<line x1="368.6" y1="275.1" x2="446.6" y2="275.1" stroke="#555" stroke-width="1.2"/>
<line x1="369" y1="275.1" x2="369" y2="277.3" stroke="#6a6a6a" stroke-width="0.55"/>
<line x1="372.86" y1="275.1" x2="372.86" y2="277.3" stroke="#6a6a6a" stroke-width="0.55"/>
<line x1="376.72" y1="275.1" x2="376.72" y2="277.3" stroke="#6a6a6a" stroke-width="0.55"/>
<line x1="380.58" y1="275.1" x2="380.58" y2="277.3" stroke="#6a6a6a" stroke-width="0.55"/>
<line x1="384.44" y1="275.1" x2="384.44" y2="277.3" stroke="#6a6a6a" stroke-width="0.55"/>
<line x1="388.3" y1="275.1" x2="388.3" y2="277.3" stroke="#6a6a6a" stroke-width="0.55"/>
<line x1="392.16" y1="275.1" x2="392.16" y2="277.3" stroke="#6a6a6a" stroke-width="0.55"/>
<line x1="396.02" y1="275.1" x2="396.02" y2="277.3" stroke="#6a6a6a" stroke-width="0.55"/>
<line x1="399.88" y1="275.1" x2="399.88" y2="277.3" stroke="#6a6a6a" stroke-width="0.55"/>
<line x1="403.74" y1="275.1" x2="403.74" y2="277.3" stroke="#6a6a6a" stroke-width="0.55"/>
<line x1="407.6" y1="275.1" x2="407.6" y2="277.3" stroke="#6a6a6a" stroke-width="0.55"/>
<line x1="411.46" y1="275.1" x2="411.46" y2="277.3" stroke="#6a6a6a" stroke-width="0.55"/>
<line x1="415.32" y1="275.1" x2="415.32" y2="277.3" stroke="#6a6a6a" stroke-width="0.55"/>
<line x1="419.18" y1="275.1" x2="419.18" y2="277.3" stroke="#6a6a6a" stroke-width="0.55"/>
<line x1="423.04" y1="275.1" x2="423.04" y2="277.3" stroke="#6a6a6a" stroke-width="0.55"/>
<line x1="426.9" y1="275.1" x2="426.9" y2="277.3" stroke="#6a6a6a" stroke-width="0.55"/>
<line x1="430.76" y1="275.1" x2="430.76" y2="277.3" stroke="#6a6a6a" stroke-width="0.55"/>
<line x1="434.62" y1="275.1" x2="434.62" y2="277.3" stroke="#6a6a6a" stroke-width="0.55"/>
<line x1="438.48" y1="275.1" x2="438.48" y2="277.3" stroke="#6a6a6a" stroke-width="0.55"/>
<line x1="442.34" y1="275.1" x2="442.34" y2="277.3" stroke="#6a6a6a" stroke-width="0.55"/>
<line x1="446.2" y1="275.1" x2="446.2" y2="277.3" stroke="#6a6a6a" stroke-width="0.55"/>
<text x="367.8" y="287.1" font-size="7.5" textLength="22.2" lengthAdjust="spacingAndGlyphs" stroke="#231f20">−1,500</text>
<text x="400.7" y="287.1" font-size="7.5" textLength="15.9" lengthAdjust="spacingAndGlyphs" stroke="#231f20">Start</text>
<text x="447.4" y="287.1" font-size="7.5" textLength="18.7" lengthAdjust="spacingAndGlyphs" text-anchor="end" stroke="#231f20">1,500</text>
<rect x="450.5" y="54.7" width="77.6" height="217.8" fill="#fff"/>
<g><rect x="450.5" y="54.7" width="77.6" height="1.05" fill="url(#h1_3)" opacity="0.93"/><rect x="450.5" y="55.7" width="77.6" height="1.05" fill="url(#h1_5)" opacity="0.96"/><rect x="450.5" y="56.7" width="77.6" height="1.05" fill="url(#h1_12)" opacity="0.9"/><rect x="450.5" y="57.7" width="77.6" height="1.05" fill="url(#h1_7)" opacity="0.9"/><rect x="450.5" y="58.7" width="77.6" height="1.05" fill="url(#h1_6)" opacity="0.9"/><rect x="450.5" y="59.7" width="77.6" height="1.05" fill="url(#h1_16)" opacity="0.82"/><rect x="450.5" y="60.7" width="77.6" height="1.05" fill="url(#h1_7)" opacity="0.93"/><rect x="450.5" y="61.7" width="77.6" height="1.05" fill="url(#h1_19)" opacity="0.87"/><rect x="450.5" y="62.7" width="77.6" height="1.05" fill="url(#h1_1)" opacity="0.97"/><rect x="450.5" y="63.7" width="77.6" height="1.05" fill="url(#h1_0)" opacity="0.3"/><rect x="450.5" y="64.7" width="77.6" height="1.05" fill="url(#h1_6)" opacity="0.75"/><rect x="450.5" y="65.7" width="77.6" height="1.05" fill="url(#h1_14)" opacity="0.97"/><rect x="450.5" y="66.7" width="77.6" height="1.05" fill="url(#h1_9)" opacity="0.5"/><rect x="450.5" y="67.7" width="77.6" height="1.05" fill="url(#h1_19)" opacity="0.89"/><rect x="450.5" y="68.7" width="77.6" height="1.05" fill="url(#h1_19)" opacity="0.89"/><rect x="450.5" y="69.7" width="77.6" height="1.05" fill="url(#h1_19)" opacity="0.78"/><rect x="450.5" y="70.7" width="77.6" height="1.05" fill="url(#h1_14)" opacity="1"/><rect x="450.5" y="71.7" width="77.6" height="1.05" fill="url(#h1_2)" opacity="0.92"/><rect x="450.5" y="72.7" width="77.6" height="1.05" fill="url(#h1_17)" opacity="0.36"/><rect x="450.5" y="73.7" width="77.6" height="1.05" fill="url(#h1_0)" opacity="0.35"/><rect x="450.5" y="74.7" width="77.6" height="1.05" fill="url(#h1_12)" opacity="0.83"/><rect x="450.5" y="75.7" width="77.6" height="1.05" fill="url(#h1_3)" opacity="0.97"/><rect x="450.5" y="76.7" width="77.6" height="1.05" fill="url(#h1_6)" opacity="0.76"/><rect x="450.5" y="77.7" width="77.6" height="1.05" fill="url(#h1_4)" opacity="0.41"/><rect x="450.5" y="78.7" width="77.6" height="1.05" fill="url(#h1_6)" opacity="0.91"/><rect x="450.5" y="79.7" width="77.6" height="1.05" fill="url(#h1_8)" opacity="0.93"/><rect x="450.5" y="80.7" width="77.6" height="1.05" fill="url(#h1_13)" opacity="0.94"/><rect x="450.5" y="81.7" width="77.6" height="1.05" fill="url(#h1_17)" opacity="0.97"/><rect x="450.5" y="82.7" width="77.6" height="1.05" fill="url(#h1_14)" opacity="0.93"/><rect x="450.5" y="83.7" width="77.6" height="1.05" fill="url(#h1_18)" opacity="0.79"/><rect x="450.5" y="84.7" width="77.6" height="1.05" fill="url(#h1_1)" opacity="0.77"/><rect x="450.5" y="85.7" width="77.6" height="1.05" fill="url(#h1_5)" opacity="0.45"/><rect x="450.5" y="86.7" width="77.6" height="1.05" fill="url(#h1_11)" opacity="0.95"/><rect x="450.5" y="87.7" width="77.6" height="1.05" fill="url(#h1_5)" opacity="0.72"/><rect x="450.5" y="88.7" width="77.6" height="1.05" fill="url(#h1_13)" opacity="0.99"/><rect x="450.5" y="89.7" width="77.6" height="1.05" fill="url(#h1_17)" opacity="0.85"/><rect x="450.5" y="90.7" width="77.6" height="1.05" fill="url(#h1_10)" opacity="0.92"/><rect x="450.5" y="91.7" width="77.6" height="1.05" fill="url(#h1_15)" opacity="0.31"/><rect x="450.5" y="92.7" width="77.6" height="1.05" fill="url(#h1_19)" opacity="0.82"/><rect x="450.5" y="93.7" width="77.6" height="1.05" fill="url(#h1_8)" opacity="0.94"/><rect x="450.5" y="94.7" width="77.6" height="1.05" fill="url(#h1_10)" opacity="0.89"/><rect x="450.5" y="95.7" width="77.6" height="1.05" fill="url(#h1_5)" opacity="0.83"/><rect x="450.5" y="96.7" width="77.6" height="1.05" fill="url(#h1_0)" opacity="0.78"/><rect x="450.5" y="97.7" width="77.6" height="1.05" fill="url(#h1_16)" opacity="0.74"/><rect x="450.5" y="98.7" width="77.6" height="1.05" fill="url(#h1_7)" opacity="0.74"/><rect x="450.5" y="99.7" width="77.6" height="1.05" fill="url(#h1_10)" opacity="0.75"/><rect x="450.5" y="100.7" width="77.6" height="1.05" fill="url(#h1_13)" opacity="0.77"/><rect x="450.5" y="101.7" width="77.6" height="1.05" fill="url(#h1_1)" opacity="0.81"/><rect x="450.5" y="102.7" width="77.6" height="1.05" fill="url(#h1_3)" opacity="0.98"/><rect x="450.5" y="103.7" width="77.6" height="1.05" fill="url(#h1_2)" opacity="0.73"/><rect x="450.5" y="104.7" width="77.6" height="1.05" fill="url(#h1_15)" opacity="0.78"/><rect x="450.5" y="105.7" width="77.6" height="1.05" fill="url(#h1_13)" opacity="0.8"/><rect x="450.5" y="106.7" width="77.6" height="1.05" fill="url(#h1_2)" opacity="0.99"/><rect x="450.5" y="107.7" width="77.6" height="1.05" fill="url(#h1_9)" opacity="0.95"/><rect x="450.5" y="108.7" width="77.6" height="1.05" fill="url(#h1_2)" opacity="0.98"/><rect x="450.5" y="109.7" width="77.6" height="1.05" fill="url(#h1_3)" opacity="0.76"/><rect x="450.5" y="110.7" width="77.6" height="1.05" fill="url(#h1_13)" opacity="0.74"/><rect x="450.5" y="111.7" width="77.6" height="1.05" fill="url(#h1_6)" opacity="0.38"/><rect x="450.5" y="112.7" width="77.6" height="1.05" fill="url(#h1_15)" opacity="0.81"/><rect x="450.5" y="113.7" width="77.6" height="1.05" fill="url(#h1_14)" opacity="0.92"/><rect x="450.5" y="114.7" width="77.6" height="1.05" fill="url(#h1_19)" opacity="0.78"/><rect x="450.5" y="115.7" width="77.6" height="1.05" fill="url(#h1_8)" opacity="0.85"/><rect x="450.5" y="116.7" width="77.6" height="1.05" fill="url(#h1_16)" opacity="0.82"/><rect x="450.5" y="117.7" width="77.6" height="1.05" fill="url(#h1_16)" opacity="0.88"/><rect x="450.5" y="118.7" width="77.6" height="1.05" fill="url(#h1_6)" opacity="0.89"/><rect x="450.5" y="119.7" width="77.6" height="1.05" fill="url(#h1_13)" opacity="0.38"/><rect x="450.5" y="120.7" width="77.6" height="1.05" fill="url(#h1_1)" opacity="0.81"/><rect x="450.5" y="121.7" width="77.6" height="1.05" fill="url(#h1_19)" opacity="0.3"/><rect x="450.5" y="122.7" width="77.6" height="1.05" fill="url(#h1_4)" opacity="0.33"/><rect x="450.5" y="123.7" width="77.6" height="1.05" fill="url(#h1_1)" opacity="0.46"/><rect x="450.5" y="124.7" width="77.6" height="1.05" fill="url(#h1_9)" opacity="0.84"/><rect x="450.5" y="125.7" width="77.6" height="1.05" fill="url(#h1_13)" opacity="0.85"/><rect x="450.5" y="126.7" width="77.6" height="1.05" fill="url(#h1_10)" opacity="0.87"/><rect x="450.5" y="127.7" width="77.6" height="1.05" fill="url(#h1_18)" opacity="0.96"/><rect x="450.5" y="128.7" width="77.6" height="1.05" fill="url(#h1_19)" opacity="0.39"/><rect x="450.5" y="129.7" width="77.6" height="1.05" fill="url(#h1_10)" opacity="0.41"/><rect x="450.5" y="130.7" width="77.6" height="1.05" fill="url(#h1_8)" opacity="0.82"/><rect x="450.5" y="131.7" width="77.6" height="1.05" fill="url(#h1_3)" opacity="0.83"/><rect x="450.5" y="132.7" width="77.6" height="1.05" fill="url(#h1_8)" opacity="0.76"/><rect x="450.5" y="133.7" width="77.6" height="1.05" fill="url(#h1_17)" opacity="0.85"/><rect x="450.5" y="134.7" width="77.6" height="1.05" fill="url(#h1_5)" opacity="0.47"/><rect x="450.5" y="135.7" width="77.6" height="1.05" fill="url(#h1_10)" opacity="0.79"/><rect x="450.5" y="136.7" width="77.6" height="1.05" fill="url(#h1_13)" opacity="0.98"/><rect x="450.5" y="137.7" width="77.6" height="1.05" fill="url(#h1_3)" opacity="0.5"/><rect x="450.5" y="138.7" width="77.6" height="1.05" fill="url(#h1_12)" opacity="0.79"/><rect x="450.5" y="139.7" width="77.6" height="1.05" fill="url(#h1_18)" opacity="0.33"/><rect x="450.5" y="140.7" width="77.6" height="1.05" fill="url(#h1_17)" opacity="0.81"/><rect x="450.5" y="141.7" width="77.6" height="1.05" fill="url(#h1_19)" opacity="0.82"/><rect x="450.5" y="142.7" width="77.6" height="1.05" fill="url(#h1_0)" opacity="0.73"/><rect x="450.5" y="143.7" width="77.6" height="1.05" fill="url(#h1_8)" opacity="0.85"/><rect x="450.5" y="144.7" width="77.6" height="1.05" fill="url(#h1_7)" opacity="1"/><rect x="450.5" y="145.7" width="77.6" height="1.05" fill="url(#h1_10)" opacity="0.78"/><rect x="450.5" y="146.7" width="77.6" height="1.05" fill="url(#h1_1)" opacity="0.92"/><rect x="450.5" y="147.7" width="77.6" height="1.05" fill="url(#h1_3)" opacity="1"/><rect x="450.5" y="148.7" width="77.6" height="1.05" fill="url(#h1_7)" opacity="0.97"/><rect x="450.5" y="149.7" width="77.6" height="1.05" fill="url(#h1_18)" opacity="0.98"/><rect x="450.5" y="150.7" width="77.6" height="1.05" fill="url(#h1_10)" opacity="0.79"/><rect x="450.5" y="151.7" width="77.6" height="1.05" fill="url(#h1_8)" opacity="0.81"/><rect x="450.5" y="152.7" width="77.6" height="1.05" fill="url(#h1_7)" opacity="0.92"/><rect x="450.5" y="153.7" width="77.6" height="1.05" fill="url(#h1_0)" opacity="0.93"/><rect x="450.5" y="154.7" width="77.6" height="1.05" fill="url(#h1_7)" opacity="0.96"/><rect x="450.5" y="155.7" width="77.6" height="1.05" fill="url(#h1_17)" opacity="0.78"/><rect x="450.5" y="156.7" width="77.6" height="1.05" fill="url(#h1_3)" opacity="0.36"/><rect x="450.5" y="157.7" width="77.6" height="1.05" fill="url(#h1_14)" opacity="0.76"/><rect x="450.5" y="158.7" width="77.6" height="1.05" fill="url(#h1_7)" opacity="0.81"/><rect x="450.5" y="159.7" width="77.6" height="1.05" fill="url(#h1_19)" opacity="0.86"/><rect x="450.5" y="160.7" width="77.6" height="1.05" fill="url(#h1_0)" opacity="0.89"/><rect x="450.5" y="161.7" width="77.6" height="1.05" fill="url(#h1_12)" opacity="0.82"/><rect x="450.5" y="162.7" width="77.6" height="1.05" fill="url(#h1_6)" opacity="0.96"/><rect x="450.5" y="163.7" width="77.6" height="1.05" fill="url(#h1_9)" opacity="0.85"/><rect x="450.5" y="164.7" width="77.6" height="1.05" fill="url(#h1_18)" opacity="0.88"/><rect x="450.5" y="165.7" width="77.6" height="1.05" fill="url(#h1_0)" opacity="0.36"/><rect x="450.5" y="166.7" width="77.6" height="1.05" fill="url(#h1_12)" opacity="0.91"/><rect x="450.5" y="167.7" width="77.6" height="1.05" fill="url(#h1_9)" opacity="0.96"/><rect x="450.5" y="168.7" width="77.6" height="1.05" fill="url(#h1_5)" opacity="0.75"/><rect x="450.5" y="169.7" width="77.6" height="1.05" fill="url(#h1_19)" opacity="0.86"/><rect x="450.5" y="170.7" width="77.6" height="1.05" fill="url(#h1_9)" opacity="0.35"/><rect x="450.5" y="171.7" width="77.6" height="1.05" fill="url(#h1_14)" opacity="0.94"/><rect x="450.5" y="172.7" width="77.6" height="1.05" fill="url(#h1_11)" opacity="0.88"/><rect x="450.5" y="173.7" width="77.6" height="1.05" fill="url(#h1_0)" opacity="0.8"/><rect x="450.5" y="174.7" width="77.6" height="1.05" fill="url(#h1_19)" opacity="0.76"/><rect x="450.5" y="175.7" width="77.6" height="1.05" fill="url(#h1_12)" opacity="0.8"/><rect x="450.5" y="176.7" width="77.6" height="1.05" fill="url(#h1_19)" opacity="0.89"/><rect x="450.5" y="177.7" width="77.6" height="1.05" fill="url(#h1_6)" opacity="0.84"/><rect x="450.5" y="178.7" width="77.6" height="1.05" fill="url(#h1_6)" opacity="0.93"/><rect x="450.5" y="179.7" width="77.6" height="1.05" fill="url(#h1_0)" opacity="0.98"/><rect x="450.5" y="180.7" width="77.6" height="1.05" fill="url(#h1_17)" opacity="0.73"/><rect x="450.5" y="181.7" width="77.6" height="1.05" fill="url(#h1_5)" opacity="0.8"/><rect x="450.5" y="182.7" width="77.6" height="1.05" fill="url(#h1_8)" opacity="0.74"/><rect x="450.5" y="183.7" width="77.6" height="1.05" fill="url(#h1_3)" opacity="0.36"/><rect x="450.5" y="184.7" width="77.6" height="1.05" fill="url(#h1_8)" opacity="0.95"/><rect x="450.5" y="185.7" width="77.6" height="1.05" fill="url(#h1_8)" opacity="0.74"/><rect x="450.5" y="186.7" width="77.6" height="1.05" fill="url(#h1_4)" opacity="0.83"/><rect x="450.5" y="187.7" width="77.6" height="1.05" fill="url(#h1_15)" opacity="0.55"/><rect x="450.5" y="188.7" width="77.6" height="1.05" fill="url(#h1_12)" opacity="0.43"/><rect x="450.5" y="189.7" width="77.6" height="1.05" fill="url(#h1_8)" opacity="0.81"/><rect x="450.5" y="190.7" width="77.6" height="1.05" fill="url(#h1_11)" opacity="0.84"/><rect x="450.5" y="191.7" width="77.6" height="1.05" fill="url(#h1_5)" opacity="0.98"/><rect x="450.5" y="192.7" width="77.6" height="1.05" fill="url(#h1_7)" opacity="0.88"/><rect x="450.5" y="193.7" width="77.6" height="1.05" fill="url(#h1_1)" opacity="0.8"/><rect x="450.5" y="194.7" width="77.6" height="1.05" fill="url(#h1_13)" opacity="0.86"/><rect x="450.5" y="195.7" width="77.6" height="1.05" fill="url(#h1_5)" opacity="0.93"/><rect x="450.5" y="196.7" width="77.6" height="1.05" fill="url(#h1_15)" opacity="0.84"/><rect x="450.5" y="197.7" width="77.6" height="1.05" fill="url(#h1_7)" opacity="0.81"/><rect x="450.5" y="198.7" width="77.6" height="1.05" fill="url(#h1_4)" opacity="0.74"/><rect x="450.5" y="199.7" width="77.6" height="1.05" fill="url(#h1_14)" opacity="0.87"/><rect x="450.5" y="200.7" width="77.6" height="1.05" fill="url(#h1_4)" opacity="0.72"/><rect x="450.5" y="201.7" width="77.6" height="1.05" fill="url(#h1_4)" opacity="0.99"/><rect x="450.5" y="202.7" width="77.6" height="1.05" fill="url(#h1_2)" opacity="0.96"/><rect x="450.5" y="203.7" width="77.6" height="1.05" fill="url(#h1_5)" opacity="0.98"/><rect x="450.5" y="204.7" width="77.6" height="1.05" fill="url(#h1_10)" opacity="0.94"/><rect x="450.5" y="205.7" width="77.6" height="1.05" fill="url(#h1_16)" opacity="0.9"/><rect x="450.5" y="206.7" width="77.6" height="1.05" fill="url(#h1_7)" opacity="0.99"/><rect x="450.5" y="207.7" width="77.6" height="1.05" fill="url(#h1_15)" opacity="0.96"/><rect x="450.5" y="208.7" width="77.6" height="1.05" fill="url(#h1_10)" opacity="0.73"/><rect x="450.5" y="209.7" width="77.6" height="1.05" fill="url(#h1_10)" opacity="0.72"/><rect x="450.5" y="210.7" width="77.6" height="1.05" fill="url(#h1_6)" opacity="0.77"/><rect x="450.5" y="211.7" width="77.6" height="1.05" fill="url(#h1_8)" opacity="0.99"/><rect x="450.5" y="212.7" width="77.6" height="1.05" fill="url(#h1_7)" opacity="0.42"/><rect x="450.5" y="213.7" width="77.6" height="1.05" fill="url(#h1_15)" opacity="0.79"/><rect x="450.5" y="214.7" width="77.6" height="1.05" fill="url(#h1_6)" opacity="0.33"/><rect x="450.5" y="215.7" width="77.6" height="1.05" fill="url(#h1_4)" opacity="0.79"/><rect x="450.5" y="216.7" width="77.6" height="1.05" fill="url(#h1_7)" opacity="0.98"/><rect x="450.5" y="217.7" width="77.6" height="1.05" fill="url(#h1_7)" opacity="0.44"/><rect x="450.5" y="218.7" width="77.6" height="1.05" fill="url(#h1_8)" opacity="0.75"/><rect x="450.5" y="219.7" width="77.6" height="1.05" fill="url(#h1_8)" opacity="0.73"/><rect x="450.5" y="220.7" width="77.6" height="1.05" fill="url(#h1_3)" opacity="0.75"/><rect x="450.5" y="221.7" width="77.6" height="1.05" fill="url(#h1_4)" opacity="0.87"/><rect x="450.5" y="222.7" width="77.6" height="1.05" fill="url(#h1_10)" opacity="0.81"/><rect x="450.5" y="223.7" width="77.6" height="1.05" fill="url(#h1_13)" opacity="0.97"/><rect x="450.5" y="224.7" width="77.6" height="1.05" fill="url(#h1_0)" opacity="0.75"/><rect x="450.5" y="225.7" width="77.6" height="1.05" fill="url(#h1_16)" opacity="0.92"/><rect x="450.5" y="226.7" width="77.6" height="1.05" fill="url(#h1_3)" opacity="0.72"/><rect x="450.5" y="227.7" width="77.6" height="1.05" fill="url(#h1_14)" opacity="0.76"/><rect x="450.5" y="228.7" width="77.6" height="1.05" fill="url(#h1_4)" opacity="0.82"/><rect x="450.5" y="229.7" width="77.6" height="1.05" fill="url(#h1_9)" opacity="0.8"/><rect x="450.5" y="230.7" width="77.6" height="1.05" fill="url(#h1_16)" opacity="0.72"/><rect x="450.5" y="231.7" width="77.6" height="1.05" fill="url(#h1_15)" opacity="0.75"/><rect x="450.5" y="232.7" width="77.6" height="1.05" fill="url(#h1_2)" opacity="0.79"/><rect x="450.5" y="233.7" width="77.6" height="1.05" fill="url(#h1_3)" opacity="0.88"/><rect x="450.5" y="234.7" width="77.6" height="1.05" fill="url(#h1_16)" opacity="0.89"/><rect x="450.5" y="235.7" width="77.6" height="1.05" fill="url(#h1_15)" opacity="0.87"/><rect x="450.5" y="236.7" width="77.6" height="1.05" fill="url(#h1_4)" opacity="0.45"/><rect x="450.5" y="237.7" width="77.6" height="1.05" fill="url(#h1_13)" opacity="0.72"/><rect x="450.5" y="238.7" width="77.6" height="1.05" fill="url(#h1_10)" opacity="0.88"/><rect x="450.5" y="239.7" width="77.6" height="1.05" fill="url(#h1_15)" opacity="0.79"/><rect x="450.5" y="240.7" width="77.6" height="1.05" fill="url(#h1_15)" opacity="0.32"/><rect x="450.5" y="241.7" width="77.6" height="1.05" fill="url(#h1_18)" opacity="0.87"/><rect x="450.5" y="242.7" width="77.6" height="1.05" fill="url(#h1_13)" opacity="0.73"/><rect x="450.5" y="243.7" width="77.6" height="1.05" fill="url(#h1_1)" opacity="0.41"/><rect x="450.5" y="244.7" width="77.6" height="1.05" fill="url(#h1_18)" opacity="0.76"/><rect x="450.5" y="245.7" width="77.6" height="1.05" fill="url(#h1_2)" opacity="0.94"/><rect x="450.5" y="246.7" width="77.6" height="1.05" fill="url(#h1_7)" opacity="0.84"/><rect x="450.5" y="247.7" width="77.6" height="1.05" fill="url(#h1_15)" opacity="0.88"/><rect x="450.5" y="248.7" width="77.6" height="1.05" fill="url(#h1_14)" opacity="0.99"/><rect x="450.5" y="249.7" width="77.6" height="1.05" fill="url(#h1_15)" opacity="0.75"/><rect x="450.5" y="250.7" width="77.6" height="1.05" fill="url(#h1_2)" opacity="0.99"/><rect x="450.5" y="251.7" width="77.6" height="1.05" fill="url(#h1_11)" opacity="0.95"/><rect x="450.5" y="252.7" width="77.6" height="1.05" fill="url(#h1_7)" opacity="0.74"/><rect x="450.5" y="253.7" width="77.6" height="1.05" fill="url(#h1_11)" opacity="0.97"/><rect x="450.5" y="254.7" width="77.6" height="1.05" fill="url(#h1_1)" opacity="0.93"/><rect x="450.5" y="255.7" width="77.6" height="1.05" fill="url(#h1_5)" opacity="0.96"/><rect x="450.5" y="256.7" width="77.6" height="1.05" fill="url(#h1_13)" opacity="0.82"/><rect x="450.5" y="257.7" width="77.6" height="1.05" fill="url(#h1_13)" opacity="0.95"/><rect x="450.5" y="258.7" width="77.6" height="1.05" fill="url(#h1_5)" opacity="0.93"/><rect x="450.5" y="259.7" width="77.6" height="1.05" fill="url(#h1_0)" opacity="0.49"/><rect x="450.5" y="260.7" width="77.6" height="1.05" fill="url(#h1_13)" opacity="0.93"/><rect x="450.5" y="261.7" width="77.6" height="1.05" fill="url(#h1_15)" opacity="0.55"/><rect x="450.5" y="262.7" width="77.6" height="1.05" fill="url(#h1_11)" opacity="0.31"/><rect x="450.5" y="263.7" width="77.6" height="1.05" fill="url(#h1_10)" opacity="0.99"/><rect x="450.5" y="264.7" width="77.6" height="1.05" fill="url(#h1_13)" opacity="0.81"/><rect x="450.5" y="265.7" width="77.6" height="1.05" fill="url(#h1_9)" opacity="0.86"/><rect x="450.5" y="266.7" width="77.6" height="1.05" fill="url(#h1_1)" opacity="0.93"/><rect x="450.5" y="267.7" width="77.6" height="1.05" fill="url(#h1_2)" opacity="0.9"/><rect x="450.5" y="268.7" width="77.6" height="1.05" fill="url(#h1_9)" opacity="0.75"/><rect x="450.5" y="269.7" width="77.6" height="1.05" fill="url(#h1_10)" opacity="0.86"/><rect x="450.5" y="270.7" width="77.6" height="1.05" fill="url(#h1_5)" opacity="0.85"/><rect x="450.5" y="271.7" width="77.6" height="0.85" fill="url(#h1_14)" opacity="1"/></g>
<rect x="450.5" y="54.7" width="77.6" height="217.8" fill="none" stroke="#5a5a5a" stroke-width="1.1"/>
<line x1="450.5" y1="275.1" x2="528.1" y2="275.1" stroke="#555" stroke-width="1.2"/>
<line x1="450.9" y1="275.1" x2="450.9" y2="277.3" stroke="#6a6a6a" stroke-width="0.55"/>
<line x1="454.74" y1="275.1" x2="454.74" y2="277.3" stroke="#6a6a6a" stroke-width="0.55"/>
<line x1="458.58" y1="275.1" x2="458.58" y2="277.3" stroke="#6a6a6a" stroke-width="0.55"/>
<line x1="462.42" y1="275.1" x2="462.42" y2="277.3" stroke="#6a6a6a" stroke-width="0.55"/>
<line x1="466.26" y1="275.1" x2="466.26" y2="277.3" stroke="#6a6a6a" stroke-width="0.55"/>
<line x1="470.1" y1="275.1" x2="470.1" y2="277.3" stroke="#6a6a6a" stroke-width="0.55"/>
<line x1="473.94" y1="275.1" x2="473.94" y2="277.3" stroke="#6a6a6a" stroke-width="0.55"/>
<line x1="477.78" y1="275.1" x2="477.78" y2="277.3" stroke="#6a6a6a" stroke-width="0.55"/>
<line x1="481.62" y1="275.1" x2="481.62" y2="277.3" stroke="#6a6a6a" stroke-width="0.55"/>
<line x1="485.46" y1="275.1" x2="485.46" y2="277.3" stroke="#6a6a6a" stroke-width="0.55"/>
<line x1="489.3" y1="275.1" x2="489.3" y2="277.3" stroke="#6a6a6a" stroke-width="0.55"/>
<line x1="493.14" y1="275.1" x2="493.14" y2="277.3" stroke="#6a6a6a" stroke-width="0.55"/>
<line x1="496.98" y1="275.1" x2="496.98" y2="277.3" stroke="#6a6a6a" stroke-width="0.55"/>
<line x1="500.82" y1="275.1" x2="500.82" y2="277.3" stroke="#6a6a6a" stroke-width="0.55"/>
<line x1="504.66" y1="275.1" x2="504.66" y2="277.3" stroke="#6a6a6a" stroke-width="0.55"/>
<line x1="508.5" y1="275.1" x2="508.5" y2="277.3" stroke="#6a6a6a" stroke-width="0.55"/>
<line x1="512.34" y1="275.1" x2="512.34" y2="277.3" stroke="#6a6a6a" stroke-width="0.55"/>
<line x1="516.18" y1="275.1" x2="516.18" y2="277.3" stroke="#6a6a6a" stroke-width="0.55"/>
<line x1="520.02" y1="275.1" x2="520.02" y2="277.3" stroke="#6a6a6a" stroke-width="0.55"/>
<line x1="523.86" y1="275.1" x2="523.86" y2="277.3" stroke="#6a6a6a" stroke-width="0.55"/>
<line x1="527.7" y1="275.1" x2="527.7" y2="277.3" stroke="#6a6a6a" stroke-width="0.55"/>
<text x="449.7" y="287.1" font-size="7.5" textLength="22.2" lengthAdjust="spacingAndGlyphs" stroke="#231f20">−1,500</text>
<text x="482.6" y="287.1" font-size="7.5" textLength="15.9" lengthAdjust="spacingAndGlyphs" stroke="#231f20">Start</text>
<text x="528.9" y="287.1" font-size="7.5" textLength="18.7" lengthAdjust="spacingAndGlyphs" text-anchor="end" stroke="#231f20">1,500</text>
<rect x="531.7" y="54.7" width="77.8" height="217.8" fill="#fff"/>
<g><rect x="531.7" y="54.7" width="77.8" height="1.05" fill="url(#h2_4)" opacity="0.98"/><rect x="531.7" y="55.7" width="77.8" height="1.05" fill="url(#h2_19)" opacity="0.97"/><rect x="531.7" y="56.7" width="77.8" height="1.05" fill="url(#h2_8)" opacity="0.37"/><rect x="531.7" y="57.7" width="77.8" height="1.05" fill="url(#h2_14)" opacity="0.84"/><rect x="531.7" y="58.7" width="77.8" height="1.05" fill="url(#h2_2)" opacity="0.76"/><rect x="531.7" y="59.7" width="77.8" height="1.05" fill="url(#h2_11)" opacity="0.94"/><rect x="531.7" y="60.7" width="77.8" height="1.05" fill="url(#h2_7)" opacity="0.79"/><rect x="531.7" y="61.7" width="77.8" height="1.05" fill="url(#h2_11)" opacity="0.84"/><rect x="531.7" y="62.7" width="77.8" height="1.05" fill="url(#h2_19)" opacity="0.76"/><rect x="531.7" y="63.7" width="77.8" height="1.05" fill="url(#h2_2)" opacity="0.86"/><rect x="531.7" y="64.7" width="77.8" height="1.05" fill="url(#h2_12)" opacity="0.95"/><rect x="531.7" y="65.7" width="77.8" height="1.05" fill="url(#h2_19)" opacity="0.97"/><rect x="531.7" y="66.7" width="77.8" height="1.05" fill="url(#h2_12)" opacity="0.75"/><rect x="531.7" y="67.7" width="77.8" height="1.05" fill="url(#h2_9)" opacity="0.77"/><rect x="531.7" y="68.7" width="77.8" height="1.05" fill="url(#h2_15)" opacity="0.42"/><rect x="531.7" y="69.7" width="77.8" height="1.05" fill="url(#h2_2)" opacity="0.9"/><rect x="531.7" y="70.7" width="77.8" height="1.05" fill="url(#h2_7)" opacity="0.98"/><rect x="531.7" y="71.7" width="77.8" height="1.05" fill="url(#h2_0)" opacity="0.8"/><rect x="531.7" y="72.7" width="77.8" height="1.05" fill="url(#h2_13)" opacity="0.94"/><rect x="531.7" y="73.7" width="77.8" height="1.05" fill="url(#h2_19)" opacity="0.82"/><rect x="531.7" y="74.7" width="77.8" height="1.05" fill="url(#h2_17)" opacity="0.97"/><rect x="531.7" y="75.7" width="77.8" height="1.05" fill="url(#h2_7)" opacity="0.77"/><rect x="531.7" y="76.7" width="77.8" height="1.05" fill="url(#h2_5)" opacity="0.79"/><rect x="531.7" y="77.7" width="77.8" height="1.05" fill="url(#h2_14)" opacity="0.92"/><rect x="531.7" y="78.7" width="77.8" height="1.05" fill="url(#h2_13)" opacity="0.34"/><rect x="531.7" y="79.7" width="77.8" height="1.05" fill="url(#h2_11)" opacity="0.37"/><rect x="531.7" y="80.7" width="77.8" height="1.05" fill="url(#h2_6)" opacity="0.96"/><rect x="531.7" y="81.7" width="77.8" height="1.05" fill="url(#h2_19)" opacity="1"/><rect x="531.7" y="82.7" width="77.8" height="1.05" fill="url(#h2_0)" opacity="0.76"/><rect x="531.7" y="83.7" width="77.8" height="1.05" fill="url(#h2_4)" opacity="0.97"/><rect x="531.7" y="84.7" width="77.8" height="1.05" fill="url(#h2_14)" opacity="0.98"/><rect x="531.7" y="85.7" width="77.8" height="1.05" fill="url(#h2_2)" opacity="0.87"/><rect x="531.7" y="86.7" width="77.8" height="1.05" fill="url(#h2_6)" opacity="0.94"/><rect x="531.7" y="87.7" width="77.8" height="1.05" fill="url(#h2_14)" opacity="0.77"/><rect x="531.7" y="88.7" width="77.8" height="1.05" fill="url(#h2_11)" opacity="0.34"/><rect x="531.7" y="89.7" width="77.8" height="1.05" fill="url(#h2_8)" opacity="0.92"/><rect x="531.7" y="90.7" width="77.8" height="1.05" fill="url(#h2_4)" opacity="0.37"/><rect x="531.7" y="91.7" width="77.8" height="1.05" fill="url(#h2_14)" opacity="0.78"/><rect x="531.7" y="92.7" width="77.8" height="1.05" fill="url(#h2_15)" opacity="0.84"/><rect x="531.7" y="93.7" width="77.8" height="1.05" fill="url(#h2_12)" opacity="0.96"/><rect x="531.7" y="94.7" width="77.8" height="1.05" fill="url(#h2_7)" opacity="0.85"/><rect x="531.7" y="95.7" width="77.8" height="1.05" fill="url(#h2_4)" opacity="0.73"/><rect x="531.7" y="96.7" width="77.8" height="1.05" fill="url(#h2_8)" opacity="0.82"/><rect x="531.7" y="97.7" width="77.8" height="1.05" fill="url(#h2_18)" opacity="0.74"/><rect x="531.7" y="98.7" width="77.8" height="1.05" fill="url(#h2_12)" opacity="0.44"/><rect x="531.7" y="99.7" width="77.8" height="1.05" fill="url(#h2_19)" opacity="0.9"/><rect x="531.7" y="100.7" width="77.8" height="1.05" fill="url(#h2_7)" opacity="0.81"/><rect x="531.7" y="101.7" width="77.8" height="1.05" fill="url(#h2_6)" opacity="0.77"/><rect x="531.7" y="102.7" width="77.8" height="1.05" fill="url(#h2_18)" opacity="0.96"/><rect x="531.7" y="103.7" width="77.8" height="1.05" fill="url(#h2_6)" opacity="0.86"/><rect x="531.7" y="104.7" width="77.8" height="1.05" fill="url(#h2_10)" opacity="0.9"/><rect x="531.7" y="105.7" width="77.8" height="1.05" fill="url(#h2_9)" opacity="0.76"/><rect x="531.7" y="106.7" width="77.8" height="1.05" fill="url(#h2_11)" opacity="0.79"/><rect x="531.7" y="107.7" width="77.8" height="1.05" fill="url(#h2_19)" opacity="0.88"/><rect x="531.7" y="108.7" width="77.8" height="1.05" fill="url(#h2_1)" opacity="0.83"/><rect x="531.7" y="109.7" width="77.8" height="1.05" fill="url(#h2_12)" opacity="0.88"/><rect x="531.7" y="110.7" width="77.8" height="1.05" fill="url(#h2_5)" opacity="0.72"/><rect x="531.7" y="111.7" width="77.8" height="1.05" fill="url(#h2_4)" opacity="0.96"/><rect x="531.7" y="112.7" width="77.8" height="1.05" fill="url(#h2_13)" opacity="0.94"/><rect x="531.7" y="113.7" width="77.8" height="1.05" fill="url(#h2_12)" opacity="0.96"/><rect x="531.7" y="114.7" width="77.8" height="1.05" fill="url(#h2_9)" opacity="0.98"/><rect x="531.7" y="115.7" width="77.8" height="1.05" fill="url(#h2_16)" opacity="0.78"/><rect x="531.7" y="116.7" width="77.8" height="1.05" fill="url(#h2_3)" opacity="0.95"/><rect x="531.7" y="117.7" width="77.8" height="1.05" fill="url(#h2_16)" opacity="0.8"/><rect x="531.7" y="118.7" width="77.8" height="1.05" fill="url(#h2_1)" opacity="0.91"/><rect x="531.7" y="119.7" width="77.8" height="1.05" fill="url(#h2_18)" opacity="0.81"/><rect x="531.7" y="120.7" width="77.8" height="1.05" fill="url(#h2_13)" opacity="0.78"/><rect x="531.7" y="121.7" width="77.8" height="1.05" fill="url(#h2_0)" opacity="0.92"/><rect x="531.7" y="122.7" width="77.8" height="1.05" fill="url(#h2_10)" opacity="0.96"/><rect x="531.7" y="123.7" width="77.8" height="1.05" fill="url(#h2_12)" opacity="0.37"/><rect x="531.7" y="124.7" width="77.8" height="1.05" fill="url(#h2_9)" opacity="0.31"/><rect x="531.7" y="125.7" width="77.8" height="1.05" fill="url(#h2_18)" opacity="0.38"/><rect x="531.7" y="126.7" width="77.8" height="1.05" fill="url(#h2_13)" opacity="0.85"/><rect x="531.7" y="127.7" width="77.8" height="1.05" fill="url(#h2_16)" opacity="0.89"/><rect x="531.7" y="128.7" width="77.8" height="1.05" fill="url(#h2_1)" opacity="0.95"/><rect x="531.7" y="129.7" width="77.8" height="1.05" fill="url(#h2_3)" opacity="0.77"/><rect x="531.7" y="130.7" width="77.8" height="1.05" fill="url(#h2_16)" opacity="0.35"/><rect x="531.7" y="131.7" width="77.8" height="1.05" fill="url(#h2_18)" opacity="0.95"/><rect x="531.7" y="132.7" width="77.8" height="1.05" fill="url(#h2_4)" opacity="0.94"/><rect x="531.7" y="133.7" width="77.8" height="1.05" fill="url(#h2_17)" opacity="0.8"/><rect x="531.7" y="134.7" width="77.8" height="1.05" fill="url(#h2_9)" opacity="0.74"/><rect x="531.7" y="135.7" width="77.8" height="1.05" fill="url(#h2_5)" opacity="0.76"/><rect x="531.7" y="136.7" width="77.8" height="1.05" fill="url(#h2_11)" opacity="0.79"/><rect x="531.7" y="137.7" width="77.8" height="1.05" fill="url(#h2_14)" opacity="0.92"/><rect x="531.7" y="138.7" width="77.8" height="1.05" fill="url(#h2_18)" opacity="0.89"/><rect x="531.7" y="139.7" width="77.8" height="1.05" fill="url(#h2_15)" opacity="0.86"/><rect x="531.7" y="140.7" width="77.8" height="1.05" fill="url(#h2_7)" opacity="0.78"/><rect x="531.7" y="141.7" width="77.8" height="1.05" fill="url(#h2_18)" opacity="0.95"/><rect x="531.7" y="142.7" width="77.8" height="1.05" fill="url(#h2_19)" opacity="0.95"/><rect x="531.7" y="143.7" width="77.8" height="1.05" fill="url(#h2_16)" opacity="0.78"/><rect x="531.7" y="144.7" width="77.8" height="1.05" fill="url(#h2_13)" opacity="0.46"/><rect x="531.7" y="145.7" width="77.8" height="1.05" fill="url(#h2_19)" opacity="0.9"/><rect x="531.7" y="146.7" width="77.8" height="1.05" fill="url(#h2_14)" opacity="0.74"/><rect x="531.7" y="147.7" width="77.8" height="1.05" fill="url(#h2_8)" opacity="0.86"/><rect x="531.7" y="148.7" width="77.8" height="1.05" fill="url(#h2_1)" opacity="0.94"/><rect x="531.7" y="149.7" width="77.8" height="1.05" fill="url(#h2_7)" opacity="0.78"/><rect x="531.7" y="150.7" width="77.8" height="1.05" fill="url(#h2_8)" opacity="0.96"/><rect x="531.7" y="151.7" width="77.8" height="1.05" fill="url(#h2_7)" opacity="0.78"/><rect x="531.7" y="152.7" width="77.8" height="1.05" fill="url(#h2_5)" opacity="0.34"/><rect x="531.7" y="153.7" width="77.8" height="1.05" fill="url(#h2_5)" opacity="0.92"/><rect x="531.7" y="154.7" width="77.8" height="1.05" fill="url(#h2_19)" opacity="0.83"/><rect x="531.7" y="155.7" width="77.8" height="1.05" fill="url(#h2_7)" opacity="0.94"/><rect x="531.7" y="156.7" width="77.8" height="1.05" fill="url(#h2_18)" opacity="0.87"/><rect x="531.7" y="157.7" width="77.8" height="1.05" fill="url(#h2_14)" opacity="0.79"/><rect x="531.7" y="158.7" width="77.8" height="1.05" fill="url(#h2_2)" opacity="0.93"/><rect x="531.7" y="159.7" width="77.8" height="1.05" fill="url(#h2_19)" opacity="0.91"/><rect x="531.7" y="160.7" width="77.8" height="1.05" fill="url(#h2_4)" opacity="0.9"/><rect x="531.7" y="161.7" width="77.8" height="1.05" fill="url(#h2_12)" opacity="0.84"/><rect x="531.7" y="162.7" width="77.8" height="1.05" fill="url(#h2_14)" opacity="0.76"/><rect x="531.7" y="163.7" width="77.8" height="1.05" fill="url(#h2_19)" opacity="0.82"/><rect x="531.7" y="164.7" width="77.8" height="1.05" fill="url(#h2_8)" opacity="0.92"/><rect x="531.7" y="165.7" width="77.8" height="1.05" fill="url(#h2_13)" opacity="0.53"/><rect x="531.7" y="166.7" width="77.8" height="1.05" fill="url(#h2_17)" opacity="0.93"/><rect x="531.7" y="167.7" width="77.8" height="1.05" fill="url(#h2_2)" opacity="0.75"/><rect x="531.7" y="168.7" width="77.8" height="1.05" fill="url(#h2_11)" opacity="0.99"/><rect x="531.7" y="169.7" width="77.8" height="1.05" fill="url(#h2_6)" opacity="0.74"/><rect x="531.7" y="170.7" width="77.8" height="1.05" fill="url(#h2_7)" opacity="0.86"/><rect x="531.7" y="171.7" width="77.8" height="1.05" fill="url(#h2_3)" opacity="0.47"/><rect x="531.7" y="172.7" width="77.8" height="1.05" fill="url(#h2_11)" opacity="0.97"/><rect x="531.7" y="173.7" width="77.8" height="1.05" fill="url(#h2_3)" opacity="0.72"/><rect x="531.7" y="174.7" width="77.8" height="1.05" fill="url(#h2_10)" opacity="0.74"/><rect x="531.7" y="175.7" width="77.8" height="1.05" fill="url(#h2_0)" opacity="0.73"/><rect x="531.7" y="176.7" width="77.8" height="1.05" fill="url(#h2_5)" opacity="0.98"/><rect x="531.7" y="177.7" width="77.8" height="1.05" fill="url(#h2_19)" opacity="0.36"/><rect x="531.7" y="178.7" width="77.8" height="1.05" fill="url(#h2_11)" opacity="0.76"/><rect x="531.7" y="179.7" width="77.8" height="1.05" fill="url(#h2_6)" opacity="0.89"/><rect x="531.7" y="180.7" width="77.8" height="1.05" fill="url(#h2_15)" opacity="0.79"/><rect x="531.7" y="181.7" width="77.8" height="1.05" fill="url(#h2_19)" opacity="0.89"/><rect x="531.7" y="182.7" width="77.8" height="1.05" fill="url(#h2_8)" opacity="0.86"/><rect x="531.7" y="183.7" width="77.8" height="1.05" fill="url(#h2_16)" opacity="0.89"/><rect x="531.7" y="184.7" width="77.8" height="1.05" fill="url(#h2_8)" opacity="0.98"/><rect x="531.7" y="185.7" width="77.8" height="1.05" fill="url(#h2_6)" opacity="0.39"/><rect x="531.7" y="186.7" width="77.8" height="1.05" fill="url(#h2_18)" opacity="0.86"/><rect x="531.7" y="187.7" width="77.8" height="1.05" fill="url(#h2_14)" opacity="0.89"/><rect x="531.7" y="188.7" width="77.8" height="1.05" fill="url(#h2_12)" opacity="0.94"/><rect x="531.7" y="189.7" width="77.8" height="1.05" fill="url(#h2_17)" opacity="0.91"/><rect x="531.7" y="190.7" width="77.8" height="1.05" fill="url(#h2_9)" opacity="0.82"/><rect x="531.7" y="191.7" width="77.8" height="1.05" fill="url(#h2_6)" opacity="0.92"/><rect x="531.7" y="192.7" width="77.8" height="1.05" fill="url(#h2_11)" opacity="0.72"/><rect x="531.7" y="193.7" width="77.8" height="1.05" fill="url(#h2_14)" opacity="0.9"/><rect x="531.7" y="194.7" width="77.8" height="1.05" fill="url(#h2_12)" opacity="0.96"/><rect x="531.7" y="195.7" width="77.8" height="1.05" fill="url(#h2_9)" opacity="0.77"/><rect x="531.7" y="196.7" width="77.8" height="1.05" fill="url(#h2_4)" opacity="0.84"/><rect x="531.7" y="197.7" width="77.8" height="1.05" fill="url(#h2_10)" opacity="0.81"/><rect x="531.7" y="198.7" width="77.8" height="1.05" fill="url(#h2_12)" opacity="0.78"/><rect x="531.7" y="199.7" width="77.8" height="1.05" fill="url(#h2_19)" opacity="0.9"/><rect x="531.7" y="200.7" width="77.8" height="1.05" fill="url(#h2_17)" opacity="0.88"/><rect x="531.7" y="201.7" width="77.8" height="1.05" fill="url(#h2_17)" opacity="0.87"/><rect x="531.7" y="202.7" width="77.8" height="1.05" fill="url(#h2_12)" opacity="0.96"/><rect x="531.7" y="203.7" width="77.8" height="1.05" fill="url(#h2_1)" opacity="0.88"/><rect x="531.7" y="204.7" width="77.8" height="1.05" fill="url(#h2_6)" opacity="0.9"/><rect x="531.7" y="205.7" width="77.8" height="1.05" fill="url(#h2_11)" opacity="0.91"/><rect x="531.7" y="206.7" width="77.8" height="1.05" fill="url(#h2_7)" opacity="0.75"/><rect x="531.7" y="207.7" width="77.8" height="1.05" fill="url(#h2_5)" opacity="0.87"/><rect x="531.7" y="208.7" width="77.8" height="1.05" fill="url(#h2_15)" opacity="0.54"/><rect x="531.7" y="209.7" width="77.8" height="1.05" fill="url(#h2_18)" opacity="0.92"/><rect x="531.7" y="210.7" width="77.8" height="1.05" fill="url(#h2_11)" opacity="0.94"/><rect x="531.7" y="211.7" width="77.8" height="1.05" fill="url(#h2_1)" opacity="0.77"/><rect x="531.7" y="212.7" width="77.8" height="1.05" fill="url(#h2_2)" opacity="0.83"/><rect x="531.7" y="213.7" width="77.8" height="1.05" fill="url(#h2_18)" opacity="0.79"/><rect x="531.7" y="214.7" width="77.8" height="1.05" fill="url(#h2_18)" opacity="0.79"/><rect x="531.7" y="215.7" width="77.8" height="1.05" fill="url(#h2_7)" opacity="0.83"/><rect x="531.7" y="216.7" width="77.8" height="1.05" fill="url(#h2_13)" opacity="0.99"/><rect x="531.7" y="217.7" width="77.8" height="1.05" fill="url(#h2_18)" opacity="0.78"/><rect x="531.7" y="218.7" width="77.8" height="1.05" fill="url(#h2_2)" opacity="0.95"/><rect x="531.7" y="219.7" width="77.8" height="1.05" fill="url(#h2_16)" opacity="0.4"/><rect x="531.7" y="220.7" width="77.8" height="1.05" fill="url(#h2_2)" opacity="0.77"/><rect x="531.7" y="221.7" width="77.8" height="1.05" fill="url(#h2_9)" opacity="0.84"/><rect x="531.7" y="222.7" width="77.8" height="1.05" fill="url(#h2_10)" opacity="0.91"/><rect x="531.7" y="223.7" width="77.8" height="1.05" fill="url(#h2_18)" opacity="0.89"/><rect x="531.7" y="224.7" width="77.8" height="1.05" fill="url(#h2_2)" opacity="0.76"/><rect x="531.7" y="225.7" width="77.8" height="1.05" fill="url(#h2_19)" opacity="0.81"/><rect x="531.7" y="226.7" width="77.8" height="1.05" fill="url(#h2_3)" opacity="0.89"/><rect x="531.7" y="227.7" width="77.8" height="1.05" fill="url(#h2_2)" opacity="0.84"/><rect x="531.7" y="228.7" width="77.8" height="1.05" fill="url(#h2_0)" opacity="0.44"/><rect x="531.7" y="229.7" width="77.8" height="1.05" fill="url(#h2_0)" opacity="0.96"/><rect x="531.7" y="230.7" width="77.8" height="1.05" fill="url(#h2_14)" opacity="0.79"/><rect x="531.7" y="231.7" width="77.8" height="1.05" fill="url(#h2_15)" opacity="0.75"/><rect x="531.7" y="232.7" width="77.8" height="1.05" fill="url(#h2_9)" opacity="0.8"/><rect x="531.7" y="233.7" width="77.8" height="1.05" fill="url(#h2_9)" opacity="0.33"/><rect x="531.7" y="234.7" width="77.8" height="1.05" fill="url(#h2_15)" opacity="0.75"/><rect x="531.7" y="235.7" width="77.8" height="1.05" fill="url(#h2_8)" opacity="0.88"/><rect x="531.7" y="236.7" width="77.8" height="1.05" fill="url(#h2_12)" opacity="0.93"/><rect x="531.7" y="237.7" width="77.8" height="1.05" fill="url(#h2_5)" opacity="0.83"/><rect x="531.7" y="238.7" width="77.8" height="1.05" fill="url(#h2_5)" opacity="0.52"/><rect x="531.7" y="239.7" width="77.8" height="1.05" fill="url(#h2_2)" opacity="0.46"/><rect x="531.7" y="240.7" width="77.8" height="1.05" fill="url(#h2_1)" opacity="0.82"/><rect x="531.7" y="241.7" width="77.8" height="1.05" fill="url(#h2_16)" opacity="0.35"/><rect x="531.7" y="242.7" width="77.8" height="1.05" fill="url(#h2_11)" opacity="0.88"/><rect x="531.7" y="243.7" width="77.8" height="1.05" fill="url(#h2_18)" opacity="0.99"/><rect x="531.7" y="244.7" width="77.8" height="1.05" fill="url(#h2_2)" opacity="0.94"/><rect x="531.7" y="245.7" width="77.8" height="1.05" fill="url(#h2_1)" opacity="0.53"/><rect x="531.7" y="246.7" width="77.8" height="1.05" fill="url(#h2_11)" opacity="0.55"/><rect x="531.7" y="247.7" width="77.8" height="1.05" fill="url(#h2_5)" opacity="0.93"/><rect x="531.7" y="248.7" width="77.8" height="1.05" fill="url(#h2_6)" opacity="0.73"/><rect x="531.7" y="249.7" width="77.8" height="1.05" fill="url(#h2_8)" opacity="0.42"/><rect x="531.7" y="250.7" width="77.8" height="1.05" fill="url(#h2_4)" opacity="0.88"/><rect x="531.7" y="251.7" width="77.8" height="1.05" fill="url(#h2_1)" opacity="0.87"/><rect x="531.7" y="252.7" width="77.8" height="1.05" fill="url(#h2_2)" opacity="0.9"/><rect x="531.7" y="253.7" width="77.8" height="1.05" fill="url(#h2_9)" opacity="0.97"/><rect x="531.7" y="254.7" width="77.8" height="1.05" fill="url(#h2_7)" opacity="0.77"/><rect x="531.7" y="255.7" width="77.8" height="1.05" fill="url(#h2_8)" opacity="0.76"/><rect x="531.7" y="256.7" width="77.8" height="1.05" fill="url(#h2_17)" opacity="0.85"/><rect x="531.7" y="257.7" width="77.8" height="1.05" fill="url(#h2_19)" opacity="0.92"/><rect x="531.7" y="258.7" width="77.8" height="1.05" fill="url(#h2_1)" opacity="0.79"/><rect x="531.7" y="259.7" width="77.8" height="1.05" fill="url(#h2_6)" opacity="0.87"/><rect x="531.7" y="260.7" width="77.8" height="1.05" fill="url(#h2_1)" opacity="0.8"/><rect x="531.7" y="261.7" width="77.8" height="1.05" fill="url(#h2_7)" opacity="0.88"/><rect x="531.7" y="262.7" width="77.8" height="1.05" fill="url(#h2_1)" opacity="0.81"/><rect x="531.7" y="263.7" width="77.8" height="1.05" fill="url(#h2_12)" opacity="0.99"/><rect x="531.7" y="264.7" width="77.8" height="1.05" fill="url(#h2_2)" opacity="0.97"/><rect x="531.7" y="265.7" width="77.8" height="1.05" fill="url(#h2_10)" opacity="0.54"/><rect x="531.7" y="266.7" width="77.8" height="1.05" fill="url(#h2_13)" opacity="0.95"/><rect x="531.7" y="267.7" width="77.8" height="1.05" fill="url(#h2_17)" opacity="0.9"/><rect x="531.7" y="268.7" width="77.8" height="1.05" fill="url(#h2_9)" opacity="0.86"/><rect x="531.7" y="269.7" width="77.8" height="1.05" fill="url(#h2_16)" opacity="0.91"/><rect x="531.7" y="270.7" width="77.8" height="1.05" fill="url(#h2_19)" opacity="0.8"/><rect x="531.7" y="271.7" width="77.8" height="0.85" fill="url(#h2_14)" opacity="0.9"/></g>
<rect x="531.7" y="54.7" width="77.8" height="217.8" fill="none" stroke="#5a5a5a" stroke-width="1.1"/>
<line x1="531.7" y1="275.1" x2="609.5" y2="275.1" stroke="#555" stroke-width="1.2"/>
<line x1="532.1" y1="275.1" x2="532.1" y2="277.3" stroke="#6a6a6a" stroke-width="0.55"/>
<line x1="535.95" y1="275.1" x2="535.95" y2="277.3" stroke="#6a6a6a" stroke-width="0.55"/>
<line x1="539.8" y1="275.1" x2="539.8" y2="277.3" stroke="#6a6a6a" stroke-width="0.55"/>
<line x1="543.65" y1="275.1" x2="543.65" y2="277.3" stroke="#6a6a6a" stroke-width="0.55"/>
<line x1="547.5" y1="275.1" x2="547.5" y2="277.3" stroke="#6a6a6a" stroke-width="0.55"/>
<line x1="551.35" y1="275.1" x2="551.35" y2="277.3" stroke="#6a6a6a" stroke-width="0.55"/>
<line x1="555.2" y1="275.1" x2="555.2" y2="277.3" stroke="#6a6a6a" stroke-width="0.55"/>
<line x1="559.05" y1="275.1" x2="559.05" y2="277.3" stroke="#6a6a6a" stroke-width="0.55"/>
<line x1="562.9" y1="275.1" x2="562.9" y2="277.3" stroke="#6a6a6a" stroke-width="0.55"/>
<line x1="566.75" y1="275.1" x2="566.75" y2="277.3" stroke="#6a6a6a" stroke-width="0.55"/>
<line x1="570.6" y1="275.1" x2="570.6" y2="277.3" stroke="#6a6a6a" stroke-width="0.55"/>
<line x1="574.45" y1="275.1" x2="574.45" y2="277.3" stroke="#6a6a6a" stroke-width="0.55"/>
<line x1="578.3" y1="275.1" x2="578.3" y2="277.3" stroke="#6a6a6a" stroke-width="0.55"/>
<line x1="582.15" y1="275.1" x2="582.15" y2="277.3" stroke="#6a6a6a" stroke-width="0.55"/>
<line x1="586" y1="275.1" x2="586" y2="277.3" stroke="#6a6a6a" stroke-width="0.55"/>
<line x1="589.85" y1="275.1" x2="589.85" y2="277.3" stroke="#6a6a6a" stroke-width="0.55"/>
<line x1="593.7" y1="275.1" x2="593.7" y2="277.3" stroke="#6a6a6a" stroke-width="0.55"/>
<line x1="597.55" y1="275.1" x2="597.55" y2="277.3" stroke="#6a6a6a" stroke-width="0.55"/>
<line x1="601.4" y1="275.1" x2="601.4" y2="277.3" stroke="#6a6a6a" stroke-width="0.55"/>
<line x1="605.25" y1="275.1" x2="605.25" y2="277.3" stroke="#6a6a6a" stroke-width="0.55"/>
<line x1="609.1" y1="275.1" x2="609.1" y2="277.3" stroke="#6a6a6a" stroke-width="0.55"/>
<text x="530.9" y="287.1" font-size="7.5" textLength="22.2" lengthAdjust="spacingAndGlyphs" stroke="#231f20">−1,500</text>
<text x="563.8" y="287.1" font-size="7.5" textLength="15.9" lengthAdjust="spacingAndGlyphs" stroke="#231f20">Start</text>
<text x="610.3" y="287.1" font-size="7.5" textLength="18.7" lengthAdjust="spacingAndGlyphs" text-anchor="end" stroke="#231f20">1,500</text>
<rect x="360.3" y="54.7" width="4.9" height="217.8" fill="#3c20a0"/>
<rect x="360.2" y="274.4" width="5.2" height="1.5" fill="#3ec6ea"/>
<text x="0" y="0" font-size="8.5" text-anchor="middle" stroke="#231f20" transform="translate(357.6 161) rotate(-90)">Loss</text>
<text x="0" y="0" font-size="8.5" text-anchor="middle" stroke="#231f20" transform="translate(357.6 272) rotate(-90)">Gain</text>
<text x="617.7" y="115.7" font-size="8.8" textLength="44" lengthAdjust="spacingAndGlyphs" stroke="#231f20">Differential</text>
<text x="617.7" y="125.3" font-size="8.8" textLength="50.4" lengthAdjust="spacingAndGlyphs" stroke="#231f20">binding sites</text>
<rect x="618" y="131" width="7.8" height="7.3" fill="#3c20a0"/>
<text x="630.6" y="137" font-size="7.6" textLength="14.7" lengthAdjust="spacingAndGlyphs" stroke="#231f20">Loss</text>
<rect x="618" y="143.1" width="7.8" height="7.4" fill="#08bff0"/>
<text x="630.6" y="148.5" font-size="7.6" textLength="15.4" lengthAdjust="spacingAndGlyphs" stroke="#231f20">Gain</text>
<text x="617.7" y="158.9" font-size="8.8" textLength="24.5" lengthAdjust="spacingAndGlyphs" stroke="#231f20">Signal</text>
<rect x="617.9" y="164.8" width="8" height="34" fill="url(#sigbar)"/>
<text x="629.6" y="168.7" font-size="7.5" stroke="#231f20">15</text>
<text x="629.6" y="180.5" font-size="7.5" stroke="#231f20">10</text>
<text x="629.6" y="191.9" font-size="7.5" stroke="#231f20">5</text>
<text x="629.6" y="203.2" font-size="7.5" stroke="#231f20">0</text>
<text x="0.4" y="352.7" font-size="12" font-weight="bold" fill="#000">d</text>
<text x="206.9" y="363.1" font-size="9" textLength="169.8" lengthAdjust="spacingAndGlyphs" text-anchor="middle" stroke="#231f20">ReactomePA pathway enrichment analysis</text>
<line x1="128.4" y1="381.6" x2="284.8" y2="381.6" stroke="#ececec" stroke-width="1.1"/>
<line x1="128.4" y1="404.42" x2="284.8" y2="404.42" stroke="#ececec" stroke-width="1.1"/>
<line x1="128.4" y1="427.24" x2="284.8" y2="427.24" stroke="#ececec" stroke-width="1.1"/>
<line x1="128.4" y1="450.06" x2="284.8" y2="450.06" stroke="#ececec" stroke-width="1.1"/>
<line x1="128.4" y1="472.88" x2="284.8" y2="472.88" stroke="#ececec" stroke-width="1.1"/>
<line x1="128.4" y1="495.7" x2="284.8" y2="495.7" stroke="#ececec" stroke-width="1.1"/>
<line x1="128.4" y1="518.52" x2="284.8" y2="518.52" stroke="#ececec" stroke-width="1.1"/>
<line x1="128.4" y1="541.34" x2="284.8" y2="541.34" stroke="#ececec" stroke-width="1.1"/>
<line x1="128.4" y1="564.16" x2="284.8" y2="564.16" stroke="#ececec" stroke-width="1.1"/>
<line x1="128.4" y1="586.98" x2="284.8" y2="586.98" stroke="#ececec" stroke-width="1.1"/>
<line x1="128.4" y1="609.8" x2="284.8" y2="609.8" stroke="#ececec" stroke-width="1.1"/>
<line x1="128.4" y1="632.62" x2="284.8" y2="632.62" stroke="#ececec" stroke-width="1.1"/>
<line x1="171" y1="368.1" x2="171" y2="646.3" stroke="#ececec" stroke-width="1.1"/>
<line x1="242.15" y1="368.1" x2="242.15" y2="646.3" stroke="#ececec" stroke-width="1.1"/>
<line x1="125.4" y1="381.6" x2="128.4" y2="381.6" stroke="#6d6d6d" stroke-width="0.8"/>
<text x="121" y="384.7" font-size="9.3" textLength="100.6" lengthAdjust="spacingAndGlyphs" text-anchor="end" stroke="#231f20">Neutrophil degranulation</text>
<circle cx="171" cy="381.6" r="5.95" fill="#ff2600"/>
<circle cx="242.15" cy="381.6" r="5.95" fill="#ff2600"/>
<line x1="125.4" y1="404.42" x2="128.4" y2="404.42" stroke="#6d6d6d" stroke-width="0.8"/>
<text x="121" y="401.92" font-size="9.3" textLength="102.6" lengthAdjust="spacingAndGlyphs" text-anchor="end" stroke="#231f20">Transcriptional regulation</text>
<text x="121" y="411.82" font-size="9.3" textLength="31.1" lengthAdjust="spacingAndGlyphs" text-anchor="end" stroke="#231f20">by TP53</text>
<circle cx="171" cy="404.42" r="5.45" fill="#ff2600"/>
<circle cx="242.15" cy="404.42" r="5.45" fill="#ff2600"/>
<line x1="125.4" y1="427.24" x2="128.4" y2="427.24" stroke="#6d6d6d" stroke-width="0.8"/>
<text x="121" y="430.34" font-size="9.3" textLength="51.5" lengthAdjust="spacingAndGlyphs" text-anchor="end" stroke="#231f20">HIV infection</text>
<circle cx="171" cy="427.24" r="4.45" fill="#ff2600"/>
<circle cx="242.15" cy="427.24" r="4.45" fill="#ff2600"/>
<line x1="125.4" y1="450.06" x2="128.4" y2="450.06" stroke="#6d6d6d" stroke-width="0.8"/>
<text x="121" y="447.56" font-size="9.3" textLength="120.5" lengthAdjust="spacingAndGlyphs" text-anchor="end" stroke="#231f20">Class I MHC-mediated antigen</text>
<text x="121" y="457.46" font-size="9.3" textLength="104.7" lengthAdjust="spacingAndGlyphs" text-anchor="end" stroke="#231f20">processing &amp; presentation</text>
<circle cx="171" cy="450.06" r="5.45" fill="#ff2600"/>
<circle cx="242.15" cy="450.06" r="5.45" fill="#ff2600"/>
<line x1="125.4" y1="472.88" x2="128.4" y2="472.88" stroke="#6d6d6d" stroke-width="0.8"/>
<text x="121" y="475.98" font-size="9.3" textLength="33.1" lengthAdjust="spacingAndGlyphs" text-anchor="end" stroke="#231f20">M phase</text>
<circle cx="171" cy="472.88" r="5.8" fill="#ff2600"/>
<circle cx="242.15" cy="472.88" r="5.6" fill="#f5283c"/>
<line x1="125.4" y1="495.7" x2="128.4" y2="495.7" stroke="#6d6d6d" stroke-width="0.8"/>
<text x="121" y="498.8" font-size="9.3" textLength="63.8" lengthAdjust="spacingAndGlyphs" text-anchor="end" stroke="#231f20">PTEN regulation</text>
<circle cx="171" cy="495.7" r="4" fill="#ff2600"/>
<circle cx="242.15" cy="495.7" r="3.8" fill="#a83ad4"/>
<line x1="125.4" y1="518.52" x2="128.4" y2="518.52" stroke="#6d6d6d" stroke-width="0.8"/>
<text x="121" y="511.72" font-size="9.3" textLength="80.1" lengthAdjust="spacingAndGlyphs" text-anchor="end" stroke="#231f20">Antigen processing:</text>
<text x="121" y="520.92" font-size="9.3" textLength="113.2" lengthAdjust="spacingAndGlyphs" text-anchor="end" stroke="#231f20">ubiquitination &amp; proteasome</text>
<text x="121" y="530.02" font-size="9.3" textLength="48.4" lengthAdjust="spacingAndGlyphs" text-anchor="end" stroke="#231f20">degradation</text>
<circle cx="171" cy="518.52" r="5.15" fill="#ff2600"/>
<circle cx="242.15" cy="518.52" r="5.15" fill="#f5283c"/>
<line x1="125.4" y1="541.34" x2="128.4" y2="541.34" stroke="#6d6d6d" stroke-width="0.8"/>
<text x="121" y="538.84" font-size="9.3" textLength="86.7" lengthAdjust="spacingAndGlyphs" text-anchor="end" stroke="#231f20">Processing of capped</text>
<text x="121" y="548.74" font-size="9.3" textLength="112.4" lengthAdjust="spacingAndGlyphs" text-anchor="end" stroke="#231f20">intron-containing pre-mRNA</text>
<circle cx="171" cy="541.34" r="4.75" fill="#ff2600"/>
<circle cx="242.15" cy="541.34" r="4.75" fill="#fb2a10"/>
<line x1="125.4" y1="564.16" x2="128.4" y2="564.16" stroke="#6d6d6d" stroke-width="0.8"/>
<text x="121" y="567.26" font-size="9.3" textLength="94.4" lengthAdjust="spacingAndGlyphs" text-anchor="end" stroke="#231f20">Programmed cell death</text>
<circle cx="171" cy="564.16" r="4.65" fill="#ff2600"/>
<circle cx="242.15" cy="564.16" r="4.65" fill="#f5283c"/>
<line x1="125.4" y1="586.98" x2="128.4" y2="586.98" stroke="#6d6d6d" stroke-width="0.8"/>
<text x="121" y="584.48" font-size="9.3" textLength="94.8" lengthAdjust="spacingAndGlyphs" text-anchor="end" stroke="#231f20">Host interactions of HIV</text>
<text x="121" y="594.38" font-size="9.3" textLength="27.4" lengthAdjust="spacingAndGlyphs" text-anchor="end" stroke="#231f20">factors</text>
<circle cx="171" cy="586.98" r="3.8" fill="#ff2600"/>
<circle cx="242.15" cy="586.98" r="3.8" fill="#0a3cff"/>
<line x1="125.4" y1="609.8" x2="128.4" y2="609.8" stroke="#6d6d6d" stroke-width="0.8"/>
<text x="121" y="607.3" font-size="9.3" textLength="104.2" lengthAdjust="spacingAndGlyphs" text-anchor="end" stroke="#231f20">MyD88-independent TLR4</text>
<text x="121" y="617.2" font-size="9.3" textLength="32.7" lengthAdjust="spacingAndGlyphs" text-anchor="end" stroke="#231f20">cascade</text>
<circle cx="171" cy="609.8" r="2.55" fill="#ff2600"/>
<circle cx="242.15" cy="609.8" r="2.9" fill="#ff2600"/>
<line x1="125.4" y1="632.62" x2="128.4" y2="632.62" stroke="#6d6d6d" stroke-width="0.8"/>
<text x="121" y="630.12" font-size="9.3" textLength="114.7" lengthAdjust="spacingAndGlyphs" text-anchor="end" stroke="#231f20">TRIF(TICAM1)-mediated TLR4</text>
<text x="121" y="640.02" font-size="9.3" textLength="36" lengthAdjust="spacingAndGlyphs" text-anchor="end" stroke="#231f20">signaling</text>
<circle cx="171" cy="632.62" r="2.55" fill="#ff2600"/>
<circle cx="242.15" cy="632.62" r="2.9" fill="#ff2600"/>
<rect x="128.4" y="368.1" width="156.4" height="278.2" fill="none" stroke="#6d6d6d" stroke-width="0.9"/>
<line x1="171" y1="646.3" x2="171" y2="648.9" stroke="#6d6d6d" stroke-width="0.8"/>
<line x1="242.15" y1="646.3" x2="242.15" y2="648.9" stroke="#6d6d6d" stroke-width="0.8"/>
<text x="171.1" y="659.5" font-size="9" textLength="56.6" lengthAdjust="spacingAndGlyphs" text-anchor="middle" fill="#e8823c" stroke="#e8823c">ARDS survivor</text>
<text x="242.2" y="659.5" font-size="9" textLength="63.2" lengthAdjust="spacingAndGlyphs" text-anchor="middle" fill="#9391cd" stroke="#9391cd">ARDS survivor +</text>
<text x="241.85" y="668.9" font-size="9" textLength="60.1" lengthAdjust="spacingAndGlyphs" text-anchor="middle" fill="#9391cd" stroke="#9391cd">corticosteroids</text>
<text x="293.0" y="428.6" font-size="10" font-style="italic" stroke="#231f20">P</text>
<text x="297.9" y="431.6" font-size="6.8" textLength="8.7" lengthAdjust="spacingAndGlyphs" stroke="#231f20">adj</text>
<rect x="292.7" y="435.3" width="11.4" height="55.7" fill="url(#pbar)"/>
<line x1="292.7" y1="453.5" x2="294.8" y2="453.5" stroke="#fff" stroke-width="0.8"/>
<line x1="302" y1="453.5" x2="304.1" y2="453.5" stroke="#fff" stroke-width="0.8"/>
<text x="307.7" y="456.1" font-size="7.4" stroke="#231f20">5.0<tspan font-size="6"> × </tspan>10<tspan font-size="5" dy="-3">−11</tspan></text>
<line x1="292.7" y1="471.4" x2="294.8" y2="471.4" stroke="#fff" stroke-width="0.8"/>
<line x1="302" y1="471.4" x2="304.1" y2="471.4" stroke="#fff" stroke-width="0.8"/>
<text x="307.7" y="474" font-size="7.4" stroke="#231f20">1.0<tspan font-size="6"> × </tspan>10<tspan font-size="5" dy="-3">−10</tspan></text>
<line x1="292.7" y1="489" x2="294.8" y2="489" stroke="#fff" stroke-width="0.8"/>
<line x1="302" y1="489" x2="304.1" y2="489" stroke="#fff" stroke-width="0.8"/>
<text x="307.7" y="491.6" font-size="7.4" stroke="#231f20">1.5<tspan font-size="6"> × </tspan>10<tspan font-size="5" dy="-3">−10</tspan></text>
<text x="293" y="510.5" font-size="9" textLength="41.9" lengthAdjust="spacingAndGlyphs" stroke="#231f20">Gene ratio</text>
<circle cx="300.3" cy="520.8" r="3" fill="#000"/>
<text x="310" y="523.6" font-size="7.8" textLength="15.4" lengthAdjust="spacingAndGlyphs" stroke="#231f20">0.02</text>
<circle cx="300.3" cy="532.4" r="3.95" fill="#000"/>
<text x="310" y="535.2" font-size="7.8" textLength="15.4" lengthAdjust="spacingAndGlyphs" stroke="#231f20">0.03</text>
<circle cx="300.3" cy="543.6" r="4.6" fill="#000"/>
<text x="310" y="546.4" font-size="7.8" textLength="15.4" lengthAdjust="spacingAndGlyphs" stroke="#231f20">0.04</text>
<circle cx="300.3" cy="555.4" r="5.15" fill="#000"/>
<text x="310" y="558.2" font-size="7.8" textLength="15.4" lengthAdjust="spacingAndGlyphs" stroke="#231f20">0.05</text>
<circle cx="300.3" cy="568.1" r="5.7" fill="#000"/>
<text x="310" y="570.9" font-size="7.8" textLength="15.4" lengthAdjust="spacingAndGlyphs" stroke="#231f20">0.06</text>
<circle cx="300.3" cy="581.9" r="6.25" fill="#000"/>
<text x="310" y="584.7" font-size="7.8" textLength="15.4" lengthAdjust="spacingAndGlyphs" stroke="#231f20">0.07</text>
<text x="350.2" y="336.8" font-size="12" font-weight="bold" fill="#000">e</text>
<text x="366.6" y="343.6" font-size="9.1" textLength="130.5" lengthAdjust="spacingAndGlyphs" stroke="#231f20">Granule proteins and maturation</text>
<text x="366.1" y="363" font-size="8.9" textLength="30.7" lengthAdjust="spacingAndGlyphs" fill="#22a3a8" stroke="#22a3a8">Healthy</text>
<text x="366.1" y="372.6" font-size="8.9" textLength="28.9" lengthAdjust="spacingAndGlyphs" fill="#22a3a8" stroke="#22a3a8">control</text>
<line x1="401.4" y1="355.3" x2="401.4" y2="373.4" stroke="#22a3a8" stroke-width="0.9"/>
<text x="366.2" y="407.8" font-size="8.9" textLength="22.2" lengthAdjust="spacingAndGlyphs" fill="#ae822e" stroke="#ae822e">ARDS</text>
<text x="366.2" y="417.4" font-size="8.9" textLength="31.6" lengthAdjust="spacingAndGlyphs" fill="#ae822e" stroke="#ae822e">survivor</text>
<line x1="401.4" y1="382" x2="401.4" y2="435.8" stroke="#ae822e" stroke-width="0.9"/>
<g><path d="M413.8 355.4 L413.8 355.4 L414.4 355.2 L415.0 355.1 L415.6 354.9 L416.2 354.7 L416.8 354.6 L417.4 354.1 L418.0 354.0 L418.6 353.4 L419.2 352.3 L419.8 349.2 L420.4 348.8 L421.0 349.8 L421.6 351.9 L422.2 353.2 L422.8 353.4 L423.4 353.6 L424.0 354.0 L424.6 353.9 L425.2 354.1 L425.8 353.8 L426.4 352.2 L427.0 351.6 L427.6 350.8 L428.2 352.6 L428.8 353.8 L429.4 354.5 L430.0 354.6 L430.6 354.6 L431.2 354.6 L431.8 354.4 L432.4 354.5 L433.0 354.4 L433.6 354.5 L434.2 354.4 L434.8 354.4 L435.4 354.5 L436.0 354.6 L436.6 354.7 L437.2 354.8 L437.8 355.0 L438.4 355.0 L439.0 355.1 L439.6 355.1 L440.2 355.2 L440.8 355.2 L441.4 355.1 L442.0 354.8 L442.6 354.5 L443.2 354.6 L443.8 354.8 L444.4 355.1 L445.0 355.4 L451.6 355.4 L452.2 355.2 L452.8 354.9 L453.4 354.5 L454.0 354.8 L454.6 355.1 L455.2 355.4 L463.0 355.4 L463.6 355.2 L464.2 355.1 L464.8 355.1 L465.4 355.2 L466.0 355.4 L466.0 355.4 Z M419.5 355.4 h1.7 v-0.9 h-1.7 Z M410.4 355.4 h0.7 v-0.7 h-0.7 Z M440.8 355.4 h1.5 v-0.6 h-1.5 Z M467.6 355.4 h0.8 v-0.7 h-0.8 Z M446.9 355.4 h1.9 v-0.6 h-1.9 Z" fill="#0f9898"/><line x1="410.2" y1="355.05" x2="469.8" y2="355.05" stroke="#0f9898" stroke-width="0.7" stroke-opacity="0.25" stroke-dasharray="0.9 1.6"/><path d="M414.4 364.3 L414.4 364.3 L415.0 364.1 L415.6 364.0 L416.2 363.9 L416.8 363.7 L417.4 363.6 L418.0 363.3 L418.6 363.3 L419.2 362.9 L419.8 362.5 L420.4 362.3 L421.0 362.3 L421.6 362.8 L422.2 362.8 L422.8 363.0 L423.4 363.2 L424.0 363.3 L424.6 363.6 L425.2 363.7 L425.8 363.6 L426.4 363.7 L427.0 363.7 L427.6 363.7 L428.2 363.8 L428.8 363.9 L429.4 363.9 L430.0 363.9 L430.6 363.9 L431.2 363.8 L431.8 363.9 L432.4 363.9 L433.0 363.8 L433.6 363.8 L434.2 363.8 L434.8 363.8 L435.4 363.9 L436.0 363.9 L436.6 364.0 L437.2 364.0 L437.8 364.1 L438.4 364.1 L439.0 364.1 L439.6 364.3 L441.4 364.3 L442.0 364.1 L442.6 364.0 L443.2 364.0 L443.8 364.1 L444.4 364.3 L452.2 364.3 L452.8 364.0 L453.4 363.8 L454.0 363.9 L454.6 364.1 L455.2 364.3 L463.0 364.3 L463.6 364.0 L464.2 363.8 L464.8 363.8 L465.4 363.8 L466.0 364.0 L466.6 364.3 L466.6 364.3 Z M450.4 364.3 h2.1 v-0.4 h-2.1 Z M445.0 364.3 h1.6 v-0.8 h-1.6 Z M444.4 364.3 h1.0 v-0.6 h-1.0 Z M466.4 364.3 h2.0 v-0.5 h-2.0 Z M415.8 364.3 h0.8 v-0.4 h-0.8 Z M436.4 364.3 h0.8 v-0.8 h-0.8 Z M448.6 364.3 h0.8 v-0.7 h-0.8 Z M429.2 364.3 h1.4 v-0.5 h-1.4 Z" fill="#0f9898"/><line x1="410.2" y1="363.95" x2="469.8" y2="363.95" stroke="#0f9898" stroke-width="0.7" stroke-opacity="0.25" stroke-dasharray="0.9 1.6"/><path d="M413.8 373.2 L413.8 373.2 L414.4 373.0 L415.0 373.0 L415.6 372.9 L416.2 372.7 L416.8 372.6 L417.4 372.3 L418.0 372.2 L418.6 371.8 L419.2 371.7 L419.8 371.2 L420.4 371.2 L421.0 371.4 L421.6 371.4 L422.2 371.6 L422.8 371.5 L423.4 371.9 L424.0 372.1 L424.6 372.2 L425.2 372.3 L425.8 372.5 L426.4 372.2 L427.0 372.1 L427.6 372.0 L428.2 372.2 L428.8 372.5 L429.4 372.4 L430.0 372.4 L430.6 372.4 L431.2 372.4 L431.8 372.2 L432.4 372.1 L433.0 372.3 L433.6 372.3 L434.2 372.1 L434.8 372.4 L435.4 372.5 L436.0 372.5 L436.6 372.5 L437.2 372.6 L437.8 372.7 L438.4 372.8 L439.0 372.9 L439.6 372.9 L440.2 373.0 L440.8 373.0 L441.4 373.0 L442.0 372.9 L442.6 372.9 L443.2 372.9 L443.8 373.0 L444.4 373.2 L452.2 373.2 L452.8 372.9 L453.4 372.7 L454.0 372.8 L454.6 373.0 L455.2 373.2 L462.4 373.2 L463.0 372.8 L463.6 372.4 L464.2 371.7 L464.8 371.6 L465.4 371.8 L466.0 372.4 L466.6 372.9 L467.2 373.2 L467.2 373.2 Z M435.2 373.2 h1.9 v-0.6 h-1.9 Z M429.4 373.2 h1.0 v-0.9 h-1.0 Z M448.5 373.2 h0.7 v-0.5 h-0.7 Z M432.1 373.2 h1.6 v-0.5 h-1.6 Z M436.6 373.2 h1.6 v-0.7 h-1.6 Z M453.0 373.2 h1.6 v-0.8 h-1.6 Z M425.6 373.2 h1.4 v-0.6 h-1.4 Z M428.1 373.2 h1.2 v-0.7 h-1.2 Z M451.9 373.2 h2.1 v-0.5 h-2.1 Z M422.0 373.2 h2.0 v-0.8 h-2.0 Z" fill="#0f9898"/><line x1="410.2" y1="372.85" x2="469.8" y2="372.85" stroke="#0f9898" stroke-width="0.7" stroke-opacity="0.25" stroke-dasharray="0.9 1.6"/><path d="M410.2 382.1 L410.2 381.4 L410.8 381.4 L411.4 381.4 L412.0 382.1 L422.2 382.1 L422.8 381.4 L423.4 381.4 L424.0 382.1 L439.0 382.1 L439.6 381.5 L440.2 381.5 L440.8 381.5 L441.4 382.1 L449.8 382.1 L450.4 381.6 L451.0 381.6 L451.6 381.6 L452.2 381.6 L452.8 382.1 L452.8 382.1 Z M441.2 382.1 h0.9 v-0.7 h-0.9 Z M442.5 382.1 h1.3 v-1.3 h-1.3 Z M464.4 382.1 h2.9 v-0.5 h-2.9 Z M414.9 382.1 h3.0 v-1.2 h-3.0 Z" fill="#a26f17"/><line x1="410.2" y1="381.75" x2="469.8" y2="381.75" stroke="#a26f17" stroke-width="0.7" stroke-opacity="0.14" stroke-dasharray="0.9 1.6"/><path d="M410.2 391.0 L410.2 390.3 L410.8 390.3 L411.4 391.0 L418.0 391.0 L418.6 390.4 L419.2 390.3 L419.8 391.0 L426.4 391.0 L427.0 390.5 L427.6 390.4 L428.2 390.5 L428.8 391.0 L436.0 391.0 L436.6 390.5 L437.2 390.5 L437.8 390.5 L438.4 391.0 L449.8 391.0 L450.4 390.2 L451.0 390.2 L451.6 390.2 L452.2 391.0 L465.4 391.0 L466.0 390.2 L466.6 390.2 L467.2 390.2 L467.8 390.2 L468.4 391.0 L468.4 391.0 Z M420.4 391.0 h1.4 v-0.5 h-1.4 Z M454.1 391.0 h1.2 v-1.5 h-1.2 Z M434.4 391.0 h1.3 v-1.0 h-1.3 Z M434.8 391.0 h0.5 v-1.6 h-0.5 Z" fill="#a26f17"/><line x1="410.2" y1="390.65" x2="469.8" y2="390.65" stroke="#a26f17" stroke-width="0.7" stroke-opacity="0.14" stroke-dasharray="0.9 1.6"/><path d="M412.0 399.9 L412.0 399.9 L412.6 399.1 L413.2 399.1 L413.8 399.1 L414.4 399.1 L415.0 399.9 L419.8 399.9 L420.4 399.0 L421.0 399.0 L421.6 398.9 L422.2 399.9 L428.2 399.9 L428.8 399.0 L429.4 399.3 L430.0 399.9 L436.0 399.9 L436.6 399.4 L437.2 399.4 L437.8 399.4 L438.4 399.4 L439.0 399.9 L451.0 399.9 L451.6 399.1 L452.2 399.1 L452.8 399.1 L453.4 399.9 L453.4 399.9 Z M437.2 399.9 h1.7 v-1.1 h-1.7 Z M450.8 399.9 h2.9 v-1.3 h-2.9 Z M424.9 399.9 h2.7 v-1.3 h-2.7 Z" fill="#a26f17"/><line x1="410.2" y1="399.55" x2="469.8" y2="399.55" stroke="#a26f17" stroke-width="0.7" stroke-opacity="0.14" stroke-dasharray="0.9 1.6"/><path d="M410.2 408.8 L410.2 408.1 L410.8 408.1 L411.4 408.1 L412.0 408.1 L412.6 408.1 L413.2 408.8 L419.8 408.8 L420.4 408.2 L421.0 408.0 L421.6 408.0 L422.2 408.8 L429.4 408.8 L430.0 408.0 L430.6 408.0 L431.2 408.0 L431.8 408.8 L452.2 408.8 L452.8 408.1 L453.4 408.1 L454.0 408.8 L463.6 408.8 L464.2 408.3 L464.8 408.3 L465.4 408.3 L466.0 408.8 L466.0 408.8 Z M427.7 408.8 h3.1 v-1.0 h-3.1 Z M428.7 408.8 h1.2 v-1.6 h-1.2 Z M410.8 408.8 h1.2 v-0.7 h-1.2 Z M420.0 408.8 h2.3 v-1.1 h-2.3 Z M420.7 408.8 h0.9 v-1.7 h-0.9 Z" fill="#a26f17"/><line x1="410.2" y1="408.45" x2="469.8" y2="408.45" stroke="#a26f17" stroke-width="0.7" stroke-opacity="0.14" stroke-dasharray="0.9 1.6"/><path d="M413.2 417.7 L413.2 417.7 L413.8 417.0 L414.4 417.0 L415.0 417.0 L415.6 417.0 L416.2 417.7 L420.4 417.7 L421.0 416.9 L421.6 417.7 L428.2 417.7 L428.8 417.2 L429.4 417.2 L430.0 417.2 L430.6 417.2 L431.2 417.7 L439.6 417.7 L440.2 417.0 L440.8 417.0 L441.4 417.7 L449.8 417.7 L450.4 417.0 L451.0 417.0 L451.6 417.7 L458.2 417.7 L458.8 417.0 L459.4 417.0 L460.0 417.7 L460.0 417.7 Z M440.2 417.7 h1.1 v-1.5 h-1.1 Z M440.6 417.7 h0.4 v-2.1 h-0.4 Z M462.0 417.7 h2.5 v-0.5 h-2.5 Z M445.8 417.7 h1.8 v-1.3 h-1.8 Z M446.4 417.7 h0.7 v-1.9 h-0.7 Z M439.7 417.7 h1.2 v-0.7 h-1.2 Z M440.0 417.7 h0.5 v-1.3 h-0.5 Z" fill="#a26f17"/><line x1="410.2" y1="417.35" x2="469.8" y2="417.35" stroke="#a26f17" stroke-width="0.7" stroke-opacity="0.14" stroke-dasharray="0.9 1.6"/><path d="M410.2 426.6 L410.2 425.9 L410.8 425.9 L411.4 425.9 L412.0 425.9 L412.6 425.9 L413.2 426.6 L418.0 426.6 L418.6 425.5 L419.2 425.3 L419.8 425.6 L420.4 426.6 L426.4 426.6 L427.0 426.1 L427.6 425.8 L428.2 425.8 L428.8 426.6 L442.0 426.6 L442.6 426.1 L443.2 426.1 L443.8 426.6 L453.4 426.6 L454.0 425.8 L454.6 425.8 L455.2 425.8 L455.8 425.8 L456.4 426.6 L465.4 426.6 L466.0 425.8 L466.6 425.8 L467.2 425.8 L467.8 425.8 L468.4 426.6 L468.4 426.6 Z M459.8 426.6 h1.1 v-0.8 h-1.1 Z M430.9 426.6 h2.3 v-1.3 h-2.3 Z M431.5 426.6 h0.9 v-1.9 h-0.9 Z M456.1 426.6 h0.8 v-0.8 h-0.8 Z M456.4 426.6 h0.3 v-1.4 h-0.3 Z" fill="#a26f17"/><line x1="410.2" y1="426.25" x2="469.8" y2="426.25" stroke="#a26f17" stroke-width="0.7" stroke-opacity="0.14" stroke-dasharray="0.9 1.6"/><path d="M412.6 435.5 L412.6 435.5 L413.2 434.8 L413.8 434.8 L414.4 435.5 L418.6 435.5 L419.2 434.5 L419.8 434.5 L420.4 434.8 L421.0 434.8 L421.6 435.5 L429.4 435.5 L430.0 434.7 L430.6 434.7 L431.2 434.7 L431.8 435.5 L451.6 435.5 L452.2 434.8 L452.8 434.8 L453.4 434.8 L454.0 435.5 L458.2 435.5 L458.8 434.9 L459.4 434.9 L460.0 434.9 L460.6 434.9 L461.2 435.5 L461.2 435.5 Z M456.4 435.5 h2.0 v-0.8 h-2.0 Z M447.7 435.5 h3.1 v-0.8 h-3.1 Z M418.5 435.5 h3.0 v-1.2 h-3.0 Z M455.3 435.5 h1.7 v-1.2 h-1.7 Z" fill="#a26f17"/><line x1="410.2" y1="435.15" x2="469.8" y2="435.15" stroke="#a26f17" stroke-width="0.7" stroke-opacity="0.14" stroke-dasharray="0.9 1.6"/></g>
<rect x="410.2" y="438.25" width="59.6" height="1.3" fill="#d2d2d2"/>
<line x1="419" y1="441.6" x2="460" y2="441.6" stroke="#b4b4f6" stroke-width="0.7"/>
<rect x="419.2" y="440.58" width="1.6" height="2.04" fill="#2323d6"/>
<rect x="431.2" y="440.58" width="1.4" height="2.04" fill="#2323d6"/>
<rect x="445.8" y="440.58" width="1" height="2.04" fill="#2323d6"/>
<rect x="452.3" y="440.58" width="7.4" height="2.04" fill="#2323d6"/>
<text x="438.9" y="453.5" font-size="9.5" textLength="14.9" lengthAdjust="spacingAndGlyphs" text-anchor="middle" font-style="italic" stroke="#231f20">LYZ</text>
<g><path d="M516.5 355.4 L516.5 355.4 L517.1 355.1 L517.7 354.9 L518.3 354.7 L518.9 354.3 L519.5 354.1 L520.1 353.9 L520.7 353.6 L521.3 353.5 L521.9 353.1 L522.5 352.9 L523.1 352.7 L523.7 352.6 L524.3 351.4 L524.9 350.1 L525.5 349.8 L526.1 349.9 L526.7 351.1 L527.3 352.9 L527.9 354.5 L528.5 354.9 L529.1 355.1 L529.7 355.4 L529.7 355.4 Z M497.9 355.4 h1.8 v-0.6 h-1.8 Z M513.7 355.4 h1.0 v-0.5 h-1.0 Z M533.0 355.4 h1.6 v-0.7 h-1.6 Z M489.1 355.4 h1.1 v-0.9 h-1.1 Z M494.2 355.4 h1.5 v-0.7 h-1.5 Z M512.2 355.4 h1.5 v-0.9 h-1.5 Z" fill="#0f9898"/><line x1="482.3" y1="355.05" x2="541.9" y2="355.05" stroke="#0f9898" stroke-width="0.7" stroke-opacity="0.25" stroke-dasharray="0.9 1.6"/><path d="M516.5 364.3 L516.5 364.3 L517.1 364.1 L517.7 364.0 L518.3 363.8 L518.9 363.6 L519.5 363.6 L520.1 363.4 L520.7 363.2 L521.3 363.1 L521.9 362.8 L522.5 362.5 L523.1 362.4 L523.7 362.3 L524.3 361.8 L524.9 361.1 L525.5 360.2 L526.1 359.9 L526.7 361.8 L527.3 362.9 L527.9 363.7 L528.5 364.0 L529.1 364.1 L529.7 364.3 L529.7 364.3 Z M512.4 364.3 h1.0 v-0.5 h-1.0 Z M534.8 364.3 h2.0 v-0.5 h-2.0 Z M520.7 364.3 h2.1 v-0.5 h-2.1 Z M516.4 364.3 h1.1 v-0.7 h-1.1 Z M536.2 364.3 h1.6 v-0.4 h-1.6 Z M485.3 364.3 h1.7 v-0.8 h-1.7 Z M515.6 364.3 h0.9 v-0.9 h-0.9 Z M504.4 364.3 h1.1 v-0.8 h-1.1 Z" fill="#0f9898"/><line x1="482.3" y1="363.95" x2="541.9" y2="363.95" stroke="#0f9898" stroke-width="0.7" stroke-opacity="0.25" stroke-dasharray="0.9 1.6"/><path d="M516.5 373.2 L516.5 373.2 L517.1 373.0 L517.7 372.8 L518.3 372.6 L518.9 372.4 L519.5 372.1 L520.1 371.8 L520.7 371.5 L521.3 371.6 L521.9 370.9 L522.5 371.2 L523.1 370.4 L523.7 370.2 L524.3 369.9 L524.9 368.6 L525.5 366.8 L526.1 367.6 L526.7 368.6 L527.3 370.8 L527.9 372.3 L528.5 372.7 L529.1 373.0 L529.7 373.2 L529.7 373.2 Z M516.0 373.2 h0.8 v-0.7 h-0.8 Z M487.5 373.2 h1.9 v-0.6 h-1.9 Z M506.4 373.2 h1.3 v-0.6 h-1.3 Z M498.9 373.2 h1.6 v-0.4 h-1.6 Z M496.6 373.2 h2.1 v-0.8 h-2.1 Z M525.7 373.2 h1.5 v-0.5 h-1.5 Z M497.7 373.2 h1.5 v-0.7 h-1.5 Z M495.9 373.2 h2.1 v-0.8 h-2.1 Z M507.8 373.2 h2.0 v-0.8 h-2.0 Z" fill="#0f9898"/><line x1="482.3" y1="372.85" x2="541.9" y2="372.85" stroke="#0f9898" stroke-width="0.7" stroke-opacity="0.25" stroke-dasharray="0.9 1.6"/><path d="M482.3 382.1 L482.3 381.4 L482.9 381.4 L483.5 381.4 L484.1 381.4 L484.7 381.4 L485.3 381.4 L485.9 382.1 L496.7 382.1 L497.3 381.3 L497.9 381.3 L498.5 381.3 L499.1 382.1 L503.3 382.1 L503.9 381.4 L504.5 381.4 L505.1 381.4 L505.7 382.1 L512.3 382.1 L512.9 381.5 L513.5 381.5 L514.1 381.5 L514.7 382.1 L519.5 382.1 L520.1 381.2 L520.7 381.2 L521.3 381.0 L521.9 381.0 L522.5 381.0 L523.1 380.9 L523.7 381.1 L524.3 381.3 L524.9 381.3 L525.5 381.1 L526.1 380.6 L526.7 380.7 L527.3 380.8 L527.9 382.1 L536.9 382.1 L537.5 381.4 L538.1 381.4 L538.7 382.1 L538.7 382.1 Z M517.3 382.1 h2.6 v-1.1 h-2.6 Z M498.8 382.1 h1.0 v-1.1 h-1.0 Z M499.1 382.1 h0.4 v-1.7 h-0.4 Z M540.2 382.1 h3.0 v-1.2 h-3.0 Z M496.6 382.1 h2.0 v-0.9 h-2.0 Z" fill="#a26f17"/><line x1="482.3" y1="381.75" x2="541.9" y2="381.75" stroke="#a26f17" stroke-width="0.7" stroke-opacity="0.14" stroke-dasharray="0.9 1.6"/><path d="M482.3 391.0 L482.3 391.0 L482.9 390.4 L483.5 390.4 L484.1 390.4 L484.7 390.4 L485.3 391.0 L494.9 391.0 L495.5 390.3 L496.1 390.3 L496.7 390.3 L497.3 391.0 L509.9 391.0 L510.5 390.3 L511.1 390.3 L511.7 391.0 L515.9 391.0 L516.5 390.3 L517.1 390.3 L517.7 391.0 L523.7 391.0 L524.3 390.1 L524.9 389.8 L525.5 389.7 L526.1 389.7 L526.7 390.0 L527.3 391.0 L527.9 390.3 L528.5 390.3 L529.1 390.3 L529.7 391.0 L529.7 391.0 Z M495.0 391.0 h1.2 v-1.0 h-1.2 Z M519.8 391.0 h3.1 v-0.7 h-3.1 Z M510.4 391.0 h1.4 v-1.4 h-1.4 Z M510.9 391.0 h0.6 v-2.0 h-0.6 Z" fill="#a26f17"/><line x1="482.3" y1="390.65" x2="541.9" y2="390.65" stroke="#a26f17" stroke-width="0.7" stroke-opacity="0.14" stroke-dasharray="0.9 1.6"/><path d="M482.3 399.9 L482.3 399.2 L482.9 399.2 L483.5 399.2 L484.1 399.2 L484.7 399.2 L485.3 399.2 L485.9 399.2 L486.5 399.9 L496.7 399.9 L497.3 399.1 L497.9 399.1 L498.5 399.1 L499.1 399.1 L499.7 399.9 L506.3 399.9 L506.9 399.3 L507.5 399.3 L508.1 399.9 L515.9 399.9 L516.5 399.3 L517.1 399.3 L517.7 399.9 L522.5 399.9 L523.1 399.1 L523.7 398.7 L524.3 398.5 L524.9 398.7 L525.5 399.0 L526.1 399.9 L535.7 399.9 L536.3 399.2 L536.9 399.2 L537.5 399.9 L537.5 399.9 Z M507.8 399.9 h2.3 v-0.6 h-2.3 Z M512.6 399.9 h0.9 v-1.0 h-0.9 Z M539.7 399.9 h1.8 v-0.8 h-1.8 Z M499.0 399.9 h0.8 v-0.7 h-0.8 Z" fill="#a26f17"/><line x1="482.3" y1="399.55" x2="541.9" y2="399.55" stroke="#a26f17" stroke-width="0.7" stroke-opacity="0.14" stroke-dasharray="0.9 1.6"/><path d="M482.3 408.8 L482.3 408.1 L482.9 408.8 L493.7 408.8 L494.3 408.2 L494.9 408.2 L495.5 408.2 L496.1 408.8 L508.1 408.8 L508.7 408.0 L509.3 408.0 L509.9 408.0 L510.5 408.0 L511.1 408.8 L520.1 408.8 L520.7 407.9 L521.3 407.8 L521.9 407.8 L522.5 407.7 L523.1 407.7 L523.7 407.1 L524.3 407.2 L524.9 407.0 L525.5 407.6 L526.1 408.8 L531.5 408.8 L532.1 408.0 L532.7 408.0 L533.3 408.0 L533.9 408.8 L533.9 408.8 Z M505.1 408.8 h1.9 v-1.3 h-1.9 Z" fill="#a26f17"/><line x1="482.3" y1="408.45" x2="541.9" y2="408.45" stroke="#a26f17" stroke-width="0.7" stroke-opacity="0.14" stroke-dasharray="0.9 1.6"/><path d="M483.5 417.7 L483.5 417.7 L484.1 417.0 L484.7 417.0 L485.3 417.0 L485.9 417.0 L486.5 417.7 L491.9 417.7 L492.5 417.0 L493.1 417.0 L493.7 417.0 L494.3 417.7 L516.5 417.7 L517.1 417.0 L517.7 417.0 L518.3 417.7 L519.5 417.7 L520.1 416.8 L520.7 416.8 L521.3 416.8 L521.9 416.8 L522.5 416.8 L523.1 417.7 L524.9 417.7 L525.5 416.8 L526.1 416.4 L526.7 416.5 L527.3 416.9 L527.9 417.7 L529.1 417.7 L529.7 417.2 L530.3 417.2 L530.9 417.7 L535.1 417.7 L535.7 417.0 L536.3 417.0 L536.9 417.0 L537.5 417.7 L537.5 417.7 Z M504.8 417.7 h2.3 v-1.4 h-2.3 Z M484.4 417.7 h1.3 v-0.8 h-1.3 Z M487.9 417.7 h2.9 v-0.5 h-2.9 Z" fill="#a26f17"/><line x1="482.3" y1="417.35" x2="541.9" y2="417.35" stroke="#a26f17" stroke-width="0.7" stroke-opacity="0.14" stroke-dasharray="0.9 1.6"/><path d="M482.3 426.6 L482.3 426.6 L482.9 426.1 L483.5 426.1 L484.1 426.6 L491.9 426.6 L492.5 426.1 L493.1 426.1 L493.7 426.6 L499.1 426.6 L499.7 425.8 L500.3 425.8 L500.9 425.8 L501.5 426.6 L510.5 426.6 L511.1 426.1 L511.7 426.1 L512.3 426.1 L512.9 426.6 L520.7 426.6 L521.3 425.7 L521.9 425.6 L522.5 426.6 L526.7 426.6 L527.3 425.6 L527.9 426.6 L529.1 426.6 L529.7 426.0 L530.3 426.0 L530.9 426.0 L531.5 426.6 L539.3 426.6 L539.9 425.8 L540.5 425.8 L541.1 425.8 L541.7 426.6 L541.7 426.6 Z M508.7 426.6 h2.5 v-0.6 h-2.5 Z M531.9 426.6 h3.0 v-1.1 h-3.0 Z M532.8 426.6 h1.2 v-1.7 h-1.2 Z M493.6 426.6 h2.3 v-0.6 h-2.3 Z M494.3 426.6 h0.9 v-1.2 h-0.9 Z M519.9 426.6 h2.3 v-1.4 h-2.3 Z" fill="#a26f17"/><line x1="482.3" y1="426.25" x2="541.9" y2="426.25" stroke="#a26f17" stroke-width="0.7" stroke-opacity="0.14" stroke-dasharray="0.9 1.6"/><path d="M486.5 435.5 L486.5 435.5 L487.1 435.0 L487.7 435.0 L488.3 435.0 L488.9 435.0 L489.5 435.5 L502.7 435.5 L503.3 434.8 L503.9 434.8 L504.5 435.5 L514.7 435.5 L515.3 434.7 L515.9 434.7 L516.5 434.7 L517.1 435.5 L519.5 435.5 L520.1 434.7 L520.7 434.6 L521.3 435.5 L521.9 434.6 L522.5 434.7 L523.1 434.5 L523.7 434.7 L524.3 434.6 L524.9 434.4 L525.5 434.1 L526.1 433.8 L526.7 434.4 L527.3 435.5 L530.3 435.5 L530.9 434.7 L531.5 434.7 L532.1 434.7 L532.7 435.5 L532.7 435.5 Z M506.4 435.5 h2.8 v-0.9 h-2.8 Z M503.3 435.5 h1.3 v-1.0 h-1.3 Z" fill="#a26f17"/><line x1="482.3" y1="435.15" x2="541.9" y2="435.15" stroke="#a26f17" stroke-width="0.7" stroke-opacity="0.14" stroke-dasharray="0.9 1.6"/></g>
<rect x="482.3" y="438.25" width="59.6" height="1.3" fill="#d2d2d2"/>
<line x1="497" y1="441.6" x2="527.5" y2="441.6" stroke="#b4b4f6" stroke-width="0.7"/>
<rect x="497" y="440.58" width="6" height="2.04" fill="#2323d6"/>
<rect x="505.5" y="440.75" width="1" height="1.7" fill="#2323d6"/>
<rect x="509.6" y="440.58" width="1.6" height="2.04" fill="#2323d6"/>
<rect x="516" y="440.75" width="1" height="1.7" fill="#2323d6"/>
<rect x="521" y="440.75" width="1" height="1.7" fill="#2323d6"/>
<rect x="526.5" y="440.75" width="1" height="1.7" fill="#2323d6"/>
<text x="508.8" y="453.5" font-size="9.5" textLength="37.5" lengthAdjust="spacingAndGlyphs" text-anchor="middle" font-style="italic" stroke="#231f20">SERPINA1</text>
<g><path d="M600.2 355.4 L600.2 355.4 L600.8 355.2 L601.4 355.1 L602.0 354.8 L602.6 354.6 L603.2 353.5 L603.8 351.6 L604.4 350.5 L605.0 349.6 L605.6 349.7 L606.2 350.1 L606.8 349.5 L607.4 350.2 L608.0 350.2 L608.6 350.8 L609.2 353.1 L609.8 354.1 L610.4 354.8 L611.0 355.1 L611.6 355.2 L612.2 355.4 L612.2 355.4 Z M588.0 355.4 h1.7 v-0.8 h-1.7 Z M577.0 355.4 h1.2 v-0.7 h-1.2 Z M570.1 355.4 h2.2 v-0.6 h-2.2 Z M606.1 355.4 h1.3 v-0.8 h-1.3 Z M576.3 355.4 h0.7 v-0.5 h-0.7 Z" fill="#0f9898"/><line x1="552.8" y1="355.05" x2="612.2" y2="355.05" stroke="#0f9898" stroke-width="0.7" stroke-opacity="0.25" stroke-dasharray="0.9 1.6"/><path d="M600.8 364.3 L600.8 364.3 L601.4 364.1 L602.0 364.0 L602.6 363.7 L603.2 363.4 L603.8 362.6 L604.4 361.5 L605.0 361.1 L605.6 361.1 L606.2 361.8 L606.8 361.0 L607.4 361.3 L608.0 361.3 L608.6 361.6 L609.2 362.7 L609.8 363.5 L610.4 363.9 L611.0 364.1 L611.6 364.3 L611.6 364.3 Z M565.7 364.3 h0.7 v-0.8 h-0.7 Z M577.4 364.3 h1.8 v-0.6 h-1.8 Z M607.8 364.3 h1.0 v-0.7 h-1.0 Z M577.5 364.3 h1.9 v-0.5 h-1.9 Z M584.7 364.3 h1.3 v-0.7 h-1.3 Z M566.4 364.3 h1.5 v-0.9 h-1.5 Z" fill="#0f9898"/><line x1="552.8" y1="363.95" x2="612.2" y2="363.95" stroke="#0f9898" stroke-width="0.7" stroke-opacity="0.25" stroke-dasharray="0.9 1.6"/><path d="M600.2 373.2 L600.2 373.2 L600.8 373.0 L601.4 372.9 L602.0 372.7 L602.6 372.5 L603.2 371.6 L603.8 370.2 L604.4 369.3 L605.0 367.9 L605.6 368.8 L606.2 369.4 L606.8 369.0 L607.4 369.0 L608.0 368.7 L608.6 369.9 L609.2 371.4 L609.8 372.1 L610.4 372.8 L611.0 372.9 L611.6 373.0 L612.2 373.2 L612.2 373.2 Z M569.3 373.2 h2.0 v-0.7 h-2.0 Z M579.6 373.2 h0.9 v-0.8 h-0.9 Z M602.9 373.2 h2.1 v-0.7 h-2.1 Z M606.8 373.2 h2.0 v-0.7 h-2.0 Z M572.6 373.2 h1.6 v-0.6 h-1.6 Z M600.3 373.2 h1.5 v-0.8 h-1.5 Z M604.9 373.2 h1.8 v-0.5 h-1.8 Z M572.4 373.2 h0.7 v-0.6 h-0.7 Z" fill="#0f9898"/><line x1="552.8" y1="372.85" x2="612.2" y2="372.85" stroke="#0f9898" stroke-width="0.7" stroke-opacity="0.25" stroke-dasharray="0.9 1.6"/><path d="M556.4 382.1 L556.4 382.1 L557.0 381.6 L557.6 381.6 L558.2 381.6 L558.8 381.6 L559.4 382.1 L566.0 382.1 L566.6 381.3 L567.2 381.3 L567.8 381.3 L568.4 382.1 L588.2 382.1 L588.8 381.5 L589.4 381.5 L590.0 381.5 L590.6 381.5 L591.2 382.1 L600.8 382.1 L601.4 381.5 L602.0 381.5 L602.6 381.5 L603.2 381.3 L603.8 381.0 L604.4 380.6 L605.0 380.9 L605.6 381.2 L606.2 382.1 L606.2 382.1 Z M559.6 382.1 h2.9 v-1.2 h-2.9 Z" fill="#a26f17"/><line x1="552.8" y1="381.75" x2="612.2" y2="381.75" stroke="#a26f17" stroke-width="0.7" stroke-opacity="0.14" stroke-dasharray="0.9 1.6"/><path d="M553.4 391.0 L553.4 391.0 L554.0 390.4 L554.6 390.4 L555.2 391.0 L566.6 391.0 L567.2 390.3 L567.8 390.3 L568.4 391.0 L581.0 391.0 L581.6 390.5 L582.2 390.5 L582.8 390.5 L583.4 390.5 L584.0 391.0 L595.4 391.0 L596.0 390.3 L596.6 390.3 L597.2 391.0 L603.8 391.0 L604.4 390.1 L605.0 389.9 L605.6 390.0 L606.2 391.0 L607.4 391.0 L608.0 390.1 L608.6 390.1 L609.2 389.8 L609.8 391.0 L611.0 391.0 L611.6 390.4 L612.2 390.4 L612.2 391.0 Z M577.6 391.0 h2.6 v-0.7 h-2.6 Z M595.2 391.0 h1.9 v-0.7 h-1.9 Z" fill="#a26f17"/><line x1="552.8" y1="390.65" x2="612.2" y2="390.65" stroke="#a26f17" stroke-width="0.7" stroke-opacity="0.14" stroke-dasharray="0.9 1.6"/><path d="M552.8 399.9 L552.8 399.2 L553.4 399.2 L554.0 399.2 L554.6 399.2 L555.2 399.2 L555.8 399.9 L569.0 399.9 L569.6 399.1 L570.2 399.1 L570.8 399.1 L571.4 399.9 L596.0 399.9 L596.6 399.3 L597.2 399.3 L597.8 399.9 L604.4 399.9 L605.0 398.8 L605.6 398.5 L606.2 398.0 L606.8 397.4 L607.4 397.7 L608.0 398.6 L608.6 399.0 L609.2 399.9 L611.0 399.9 L611.6 399.2 L612.2 399.2 L612.2 399.9 Z M555.8 399.9 h2.3 v-0.5 h-2.3 Z M559.7 399.9 h2.2 v-0.8 h-2.2 Z M607.9 399.9 h1.8 v-1.4 h-1.8 Z" fill="#a26f17"/><line x1="552.8" y1="399.55" x2="612.2" y2="399.55" stroke="#a26f17" stroke-width="0.7" stroke-opacity="0.14" stroke-dasharray="0.9 1.6"/><path d="M564.8 408.8 L564.8 408.8 L565.4 408.3 L566.0 408.3 L566.6 408.3 L567.2 408.3 L567.8 408.8 L581.0 408.8 L581.6 408.2 L582.2 408.2 L582.8 408.8 L589.4 408.8 L590.0 408.1 L590.6 408.1 L591.2 408.1 L591.8 408.8 L596.6 408.8 L597.2 408.2 L597.8 408.2 L598.4 408.8 L602.6 408.8 L603.2 408.0 L603.8 407.6 L604.4 407.6 L605.0 407.8 L605.6 407.9 L606.2 408.0 L606.8 407.9 L607.4 407.7 L608.0 407.4 L608.6 407.6 L609.2 408.0 L609.8 408.8 L611.6 408.8 L612.2 408.0 L612.2 408.8 Z M578.4 408.8 h2.5 v-0.6 h-2.5 Z M589.3 408.8 h0.9 v-0.7 h-0.9 Z" fill="#a26f17"/><line x1="552.8" y1="408.45" x2="612.2" y2="408.45" stroke="#a26f17" stroke-width="0.7" stroke-opacity="0.14" stroke-dasharray="0.9 1.6"/><path d="M554.0 417.7 L554.0 417.7 L554.6 416.9 L555.2 416.9 L555.8 416.9 L556.4 416.9 L557.0 417.7 L566.0 417.7 L566.6 416.9 L567.2 416.9 L567.8 417.7 L574.4 417.7 L575.0 417.0 L575.6 417.0 L576.2 417.7 L600.8 417.7 L601.4 417.1 L602.0 417.1 L602.6 417.1 L603.2 417.1 L603.8 417.7 L604.4 416.7 L605.0 416.3 L605.6 416.2 L606.2 416.4 L606.8 416.2 L607.4 416.4 L608.0 416.7 L608.6 417.7 L608.6 417.7 Z M559.9 417.7 h2.9 v-1.2 h-2.9 Z M560.8 417.7 h1.2 v-1.8 h-1.2 Z M593.3 417.7 h2.9 v-1.1 h-2.9 Z M584.2 417.7 h0.8 v-1.2 h-0.8 Z" fill="#a26f17"/><line x1="552.8" y1="417.35" x2="612.2" y2="417.35" stroke="#a26f17" stroke-width="0.7" stroke-opacity="0.14" stroke-dasharray="0.9 1.6"/><path d="M567.2 426.6 L567.2 426.6 L567.8 425.9 L568.4 425.9 L569.0 425.9 L569.6 425.9 L570.2 426.6 L578.6 426.6 L579.2 426.1 L579.8 426.1 L580.4 426.6 L588.2 426.6 L588.8 426.0 L589.4 426.0 L590.0 426.6 L595.4 426.6 L596.0 426.0 L596.6 426.0 L597.2 426.6 L603.8 426.6 L604.4 425.4 L605.0 424.7 L605.6 424.4 L606.2 424.6 L606.8 424.9 L607.4 425.1 L608.0 425.0 L608.6 424.7 L609.2 424.7 L609.8 425.2 L610.4 425.5 L611.0 426.6 L611.0 426.6 Z M584.2 426.6 h2.3 v-1.4 h-2.3 Z" fill="#a26f17"/><line x1="552.8" y1="426.25" x2="612.2" y2="426.25" stroke="#a26f17" stroke-width="0.7" stroke-opacity="0.14" stroke-dasharray="0.9 1.6"/><path d="M552.8 435.5 L552.8 434.8 L553.4 434.8 L554.0 434.8 L554.6 434.8 L555.2 434.8 L555.8 435.5 L567.8 435.5 L568.4 434.8 L569.0 434.8 L569.6 435.5 L583.4 435.5 L584.0 434.9 L584.6 434.9 L585.2 435.5 L592.4 435.5 L593.0 435.0 L593.6 435.0 L594.2 435.0 L594.8 435.5 L602.0 435.5 L602.6 434.7 L603.2 434.3 L603.8 433.9 L604.4 433.8 L605.0 434.1 L605.6 434.2 L606.2 434.4 L606.8 434.4 L607.4 434.3 L608.0 434.1 L608.6 433.8 L609.2 434.2 L609.8 434.6 L610.4 435.5 L610.4 435.5 Z M589.8 435.5 h1.8 v-0.6 h-1.8 Z M590.3 435.5 h0.7 v-1.2 h-0.7 Z M587.9 435.5 h2.0 v-1.0 h-2.0 Z M586.3 435.5 h2.9 v-1.4 h-2.9 Z" fill="#a26f17"/><line x1="552.8" y1="435.15" x2="612.2" y2="435.15" stroke="#a26f17" stroke-width="0.7" stroke-opacity="0.14" stroke-dasharray="0.9 1.6"/></g>
<rect x="552.8" y="438.25" width="59.4" height="1.3" fill="#d2d2d2"/>
<line x1="553" y1="441.6" x2="609.2" y2="441.6" stroke="#b4b4f6" stroke-width="0.7"/>
<rect x="553" y="440.58" width="1.5" height="2.04" fill="#2323d6"/>
<rect x="558.5" y="440.58" width="1.3" height="2.04" fill="#2323d6"/>
<rect x="593.5" y="440.58" width="1.3" height="2.04" fill="#2323d6"/>
<rect x="599.5" y="440.58" width="1.5" height="2.04" fill="#2323d6"/>
<rect x="607.6" y="440.58" width="1.6" height="2.04" fill="#2323d6"/>
<text x="581" y="453.5" font-size="9.5" textLength="26.9" lengthAdjust="spacingAndGlyphs" text-anchor="middle" font-style="italic" stroke="#231f20">RAB3D</text>
<g><path d="M625.0 355.4 L625.0 354.3 L625.6 353.9 L626.2 353.1 L626.8 352.4 L627.4 351.7 L628.0 351.3 L628.6 351.3 L629.2 350.4 L629.8 350.6 L630.4 350.5 L631.0 350.4 L631.6 350.8 L632.2 350.9 L632.8 350.0 L633.4 351.2 L634.0 350.1 L634.6 350.4 L635.2 350.2 L635.8 350.9 L636.4 350.2 L637.0 350.8 L637.6 350.5 L638.2 350.7 L638.8 350.4 L639.4 351.5 L640.0 351.8 L640.6 351.2 L641.2 351.2 L641.8 350.8 L642.4 351.2 L643.0 350.4 L643.6 349.5 L644.2 349.3 L644.8 349.5 L645.4 349.9 L646.0 349.9 L646.6 348.8 L647.2 350.1 L647.8 350.8 L648.4 351.0 L649.0 351.5 L649.6 351.4 L650.2 352.1 L650.8 351.8 L651.4 351.9 L652.0 352.2 L652.6 352.4 L653.2 353.0 L653.8 353.3 L654.4 353.6 L655.0 354.1 L655.6 354.1 L656.2 354.4 L656.8 354.4 L657.4 354.4 L658.0 354.4 L658.6 354.5 L659.2 354.4 L659.8 354.4 L660.4 354.2 L661.0 354.3 L661.6 354.2 L662.2 354.2 L662.8 354.1 L663.4 354.2 L664.0 354.3 L664.6 354.1 L665.2 354.2 L665.8 354.3 L666.4 354.2 L667.0 354.3 L667.6 354.3 L668.2 354.2 L668.8 354.0 L669.4 354.1 L670.0 354.2 L670.6 354.2 L671.2 354.3 L671.8 354.4 L672.4 354.5 L673.0 354.5 L673.6 354.6 L674.2 354.7 L674.8 354.8 L675.4 354.9 L676.0 354.9 L676.6 354.9 L677.2 355.0 L677.8 355.1 L678.4 355.0 L679.0 355.1 L679.6 355.1 L680.2 355.2 L680.8 355.2 L681.4 355.2 L682.0 355.2 L682.6 355.4 L682.6 355.4 Z M682.8 355.4 h2.1 v-0.6 h-2.1 Z M627.6 355.4 h1.0 v-0.7 h-1.0 Z M677.0 355.4 h1.0 v-0.5 h-1.0 Z M630.1 355.4 h1.2 v-0.9 h-1.2 Z M641.2 355.4 h1.6 v-0.4 h-1.6 Z M668.0 355.4 h1.3 v-0.5 h-1.3 Z" fill="#0f9898"/><line x1="625" y1="355.05" x2="685" y2="355.05" stroke="#0f9898" stroke-width="0.7" stroke-opacity="0.25" stroke-dasharray="0.9 1.6"/><path d="M625.0 364.3 L625.0 363.3 L625.6 363.0 L626.2 362.3 L626.8 361.8 L627.4 361.3 L628.0 360.4 L628.6 360.3 L629.2 360.5 L629.8 359.6 L630.4 360.4 L631.0 360.3 L631.6 360.4 L632.2 361.0 L632.8 360.6 L633.4 361.4 L634.0 361.6 L634.6 362.1 L635.2 362.4 L635.8 362.6 L636.4 362.3 L637.0 362.4 L637.6 362.5 L638.2 362.5 L638.8 362.8 L639.4 362.9 L640.0 362.8 L640.6 362.3 L641.2 362.1 L641.8 362.1 L642.4 361.8 L643.0 361.8 L643.6 361.1 L644.2 361.1 L644.8 360.6 L645.4 360.9 L646.0 360.9 L646.6 360.6 L647.2 361.5 L647.8 361.2 L648.4 361.7 L649.0 362.2 L649.6 362.3 L650.2 362.4 L650.8 362.8 L651.4 362.9 L652.0 362.9 L652.6 363.3 L653.2 363.3 L653.8 363.5 L654.4 363.7 L655.0 363.7 L655.6 363.8 L656.2 363.8 L656.8 363.8 L657.4 363.8 L658.0 363.8 L658.6 363.8 L659.2 363.8 L659.8 363.8 L660.4 363.8 L661.0 363.8 L661.6 363.7 L662.2 363.7 L662.8 363.8 L663.4 363.7 L664.0 363.7 L664.6 363.7 L665.2 363.7 L665.8 363.6 L666.4 363.7 L667.0 363.7 L667.6 363.6 L668.2 363.7 L668.8 363.7 L669.4 363.7 L670.0 363.7 L670.6 363.7 L671.2 363.8 L671.8 363.8 L672.4 363.9 L673.0 363.9 L673.6 363.9 L674.2 364.0 L674.8 364.0 L675.4 364.0 L676.0 364.0 L676.6 364.1 L677.2 364.1 L677.8 364.1 L678.4 364.1 L679.0 364.3 L679.0 364.3 Z M661.7 364.3 h1.5 v-0.4 h-1.5 Z M631.7 364.3 h1.4 v-0.6 h-1.4 Z M634.1 364.3 h0.8 v-0.5 h-0.8 Z M673.0 364.3 h0.8 v-0.8 h-0.8 Z M631.7 364.3 h1.9 v-0.8 h-1.9 Z M677.0 364.3 h1.2 v-0.9 h-1.2 Z M649.4 364.3 h1.6 v-0.8 h-1.6 Z M633.9 364.3 h0.7 v-0.7 h-0.7 Z M638.4 364.3 h1.0 v-0.6 h-1.0 Z" fill="#0f9898"/><line x1="625" y1="363.95" x2="685" y2="363.95" stroke="#0f9898" stroke-width="0.7" stroke-opacity="0.25" stroke-dasharray="0.9 1.6"/><path d="M625.0 373.2 L625.0 372.2 L625.6 371.8 L626.2 371.7 L626.8 371.1 L627.4 370.7 L628.0 369.9 L628.6 369.2 L629.2 369.2 L629.8 369.4 L630.4 368.8 L631.0 369.6 L631.6 369.1 L632.2 370.0 L632.8 369.5 L633.4 369.9 L634.0 369.9 L634.6 370.4 L635.2 370.4 L635.8 370.6 L636.4 370.4 L637.0 370.6 L637.6 370.7 L638.2 370.6 L638.8 370.6 L639.4 371.0 L640.0 370.9 L640.6 370.4 L641.2 370.6 L641.8 370.3 L642.4 369.8 L643.0 369.6 L643.6 369.1 L644.2 369.0 L644.8 368.6 L645.4 368.0 L646.0 368.1 L646.6 368.1 L647.2 368.5 L647.8 369.6 L648.4 369.5 L649.0 370.0 L649.6 370.4 L650.2 370.8 L650.8 370.7 L651.4 371.1 L652.0 371.1 L652.6 371.7 L653.2 371.8 L653.8 372.1 L654.4 372.2 L655.0 372.4 L655.6 372.6 L656.2 372.6 L656.8 372.6 L657.4 372.7 L658.0 372.6 L658.6 372.6 L659.2 372.7 L659.8 372.6 L660.4 372.6 L661.0 372.5 L661.6 372.5 L662.2 372.5 L662.8 372.5 L663.4 372.4 L664.0 372.4 L664.6 372.4 L665.2 372.3 L665.8 372.2 L666.4 372.2 L667.0 372.1 L667.6 371.8 L668.2 371.7 L668.8 371.8 L669.4 371.5 L670.0 371.3 L670.6 371.4 L671.2 371.6 L671.8 371.8 L672.4 372.1 L673.0 372.3 L673.6 372.3 L674.2 372.5 L674.8 372.7 L675.4 372.8 L676.0 372.8 L676.6 372.9 L677.2 372.9 L677.8 373.0 L678.4 373.0 L679.0 373.0 L679.6 373.0 L680.2 373.2 L680.2 373.2 Z M664.4 373.2 h1.4 v-0.5 h-1.4 Z M672.7 373.2 h1.1 v-0.6 h-1.1 Z M676.4 373.2 h0.7 v-0.7 h-0.7 Z M637.0 373.2 h0.8 v-0.8 h-0.8 Z M679.9 373.2 h0.9 v-0.8 h-0.9 Z M656.1 373.2 h1.7 v-0.8 h-1.7 Z M677.5 373.2 h1.7 v-0.5 h-1.7 Z" fill="#0f9898"/><line x1="625" y1="372.85" x2="685" y2="372.85" stroke="#0f9898" stroke-width="0.7" stroke-opacity="0.25" stroke-dasharray="0.9 1.6"/><path d="M625.0 382.1 L625.0 381.4 L625.6 381.5 L626.2 381.3 L626.8 381.0 L627.4 380.8 L628.0 380.5 L628.6 380.0 L629.2 380.1 L629.8 379.6 L630.4 379.6 L631.0 379.6 L631.6 379.8 L632.2 379.8 L632.8 379.9 L633.4 379.5 L634.0 380.1 L634.6 379.7 L635.2 379.8 L635.8 380.0 L636.4 380.4 L637.0 380.2 L637.6 380.6 L638.2 381.0 L638.8 381.1 L639.4 381.2 L640.0 382.1 L641.8 382.1 L642.4 381.4 L643.0 381.2 L643.6 381.2 L644.2 381.0 L644.8 380.7 L645.4 380.7 L646.0 380.6 L646.6 380.4 L647.2 380.6 L647.8 380.7 L648.4 380.7 L649.0 380.6 L649.6 380.6 L650.2 380.6 L650.8 380.8 L651.4 380.8 L652.0 380.7 L652.6 380.8 L653.2 380.9 L653.8 381.1 L654.4 382.1 L656.8 382.1 L657.4 381.5 L658.0 381.5 L658.6 381.5 L659.2 382.1 L667.6 382.1 L668.2 381.2 L668.8 381.2 L669.4 381.1 L670.0 381.2 L670.6 381.0 L671.2 381.2 L671.8 381.3 L672.4 382.1 L673.0 381.4 L673.6 381.4 L674.2 381.4 L674.8 381.4 L675.4 382.1 L675.4 382.1 Z M649.1 382.1 h1.7 v-0.7 h-1.7 Z" fill="#a26f17"/><line x1="625" y1="381.75" x2="685" y2="381.75" stroke="#a26f17" stroke-width="0.7" stroke-opacity="0.14" stroke-dasharray="0.9 1.6"/><path d="M625.6 391.0 L625.6 391.0 L626.2 389.9 L626.8 389.8 L627.4 389.4 L628.0 389.1 L628.6 388.8 L629.2 388.8 L629.8 388.9 L630.4 388.8 L631.0 388.7 L631.6 388.9 L632.2 388.9 L632.8 389.1 L633.4 388.9 L634.0 388.9 L634.6 388.9 L635.2 389.2 L635.8 389.1 L636.4 389.1 L637.0 389.0 L637.6 389.0 L638.2 389.3 L638.8 389.5 L639.4 389.3 L640.0 389.4 L640.6 389.5 L641.2 389.5 L641.8 389.7 L642.4 389.6 L643.0 389.6 L643.6 389.5 L644.2 389.5 L644.8 389.2 L645.4 389.4 L646.0 389.4 L646.6 389.2 L647.2 389.6 L647.8 389.7 L648.4 389.5 L649.0 389.7 L649.6 389.9 L650.2 390.0 L650.8 389.8 L651.4 389.8 L652.0 389.7 L652.6 389.7 L653.2 389.9 L653.8 390.0 L654.4 390.1 L655.0 391.0 L658.6 391.0 L659.2 390.3 L659.8 390.3 L660.4 390.4 L661.0 390.3 L661.6 391.0 L663.4 391.0 L664.0 390.1 L664.6 390.1 L665.2 390.1 L665.8 390.1 L666.4 389.9 L667.0 389.9 L667.6 389.9 L668.2 389.9 L668.8 389.8 L669.4 390.0 L670.0 390.0 L670.6 390.2 L671.2 390.2 L671.8 391.0 L673.0 391.0 L673.6 390.3 L674.2 390.3 L674.8 390.3 L675.4 391.0 L682.0 391.0 L682.6 390.2 L683.2 390.2 L683.8 391.0 L683.8 391.0 Z M664.5 391.0 h1.2 v-1.5 h-1.2 Z M663.6 391.0 h1.3 v-1.1 h-1.3 Z" fill="#a26f17"/><line x1="625" y1="390.65" x2="685" y2="390.65" stroke="#a26f17" stroke-width="0.7" stroke-opacity="0.14" stroke-dasharray="0.9 1.6"/><path d="M625.0 399.9 L625.0 399.2 L625.6 399.2 L626.2 399.2 L626.8 399.2 L627.4 399.0 L628.0 398.8 L628.6 398.3 L629.2 398.2 L629.8 398.1 L630.4 397.7 L631.0 397.7 L631.6 397.8 L632.2 397.4 L632.8 397.5 L633.4 398.0 L634.0 397.7 L634.6 397.7 L635.2 397.9 L635.8 397.9 L636.4 398.2 L637.0 398.1 L637.6 398.1 L638.2 398.0 L638.8 398.3 L639.4 398.2 L640.0 398.6 L640.6 398.7 L641.2 398.6 L641.8 398.8 L642.4 398.8 L643.0 398.8 L643.6 398.7 L644.2 398.5 L644.8 398.6 L645.4 398.5 L646.0 398.3 L646.6 398.2 L647.2 398.0 L647.8 398.3 L648.4 398.0 L649.0 398.3 L649.6 398.3 L650.2 398.4 L650.8 398.4 L651.4 398.6 L652.0 398.7 L652.6 398.9 L653.2 399.1 L653.8 399.3 L654.4 399.9 L664.6 399.9 L665.2 399.2 L665.8 399.2 L666.4 399.3 L667.0 399.9 L667.6 399.9 L668.2 399.0 L668.8 399.9 L669.4 399.0 L670.0 399.0 L670.6 399.0 L671.2 399.0 L671.8 399.2 L672.4 399.2 L673.0 399.9 L680.8 399.9 L681.4 399.4 L682.0 399.4 L682.6 399.4 L683.2 399.4 L683.8 399.9 L683.8 399.9 Z M666.1 399.9 h1.3 v-1.2 h-1.3 Z M651.0 399.9 h0.8 v-0.5 h-0.8 Z M656.6 399.9 h1.8 v-0.8 h-1.8 Z M641.4 399.9 h1.2 v-1.1 h-1.2 Z" fill="#a26f17"/><line x1="625" y1="399.55" x2="685" y2="399.55" stroke="#a26f17" stroke-width="0.7" stroke-opacity="0.14" stroke-dasharray="0.9 1.6"/><path d="M625.0 408.8 L625.0 408.1 L625.6 408.1 L626.2 408.1 L626.8 407.6 L627.4 407.3 L628.0 407.1 L628.6 406.8 L629.2 407.0 L629.8 406.6 L630.4 406.3 L631.0 406.3 L631.6 406.6 L632.2 406.4 L632.8 406.8 L633.4 406.6 L634.0 406.8 L634.6 406.7 L635.2 406.7 L635.8 407.0 L636.4 407.1 L637.0 407.0 L637.6 406.9 L638.2 407.3 L638.8 407.2 L639.4 407.2 L640.0 407.5 L640.6 407.5 L641.2 407.5 L641.8 407.3 L642.4 407.3 L643.0 407.4 L643.6 407.3 L644.2 407.1 L644.8 407.3 L645.4 407.4 L646.0 407.4 L646.6 407.5 L647.2 407.6 L647.8 407.5 L648.4 407.5 L649.0 407.6 L649.6 407.5 L650.2 407.7 L650.8 407.8 L651.4 407.8 L652.0 407.8 L652.6 407.9 L653.2 408.0 L653.8 408.8 L662.2 408.8 L662.8 408.1 L663.4 408.2 L664.0 408.1 L664.6 408.8 L666.4 408.8 L667.0 407.8 L667.6 407.8 L668.2 407.9 L668.8 408.0 L669.4 408.0 L670.0 408.0 L670.6 407.9 L671.2 408.8 L677.8 408.8 L678.4 408.2 L679.0 408.2 L679.6 408.8 L679.6 408.8 Z M649.3 408.8 h2.7 v-0.7 h-2.7 Z M650.1 408.8 h1.1 v-1.3 h-1.1 Z" fill="#a26f17"/><line x1="625" y1="408.45" x2="685" y2="408.45" stroke="#a26f17" stroke-width="0.7" stroke-opacity="0.14" stroke-dasharray="0.9 1.6"/><path d="M625.0 417.7 L625.0 417.1 L625.6 416.9 L626.2 416.8 L626.8 416.6 L627.4 416.5 L628.0 416.3 L628.6 415.8 L629.2 415.7 L629.8 415.6 L630.4 416.1 L631.0 415.9 L631.6 415.9 L632.2 416.1 L632.8 416.5 L633.4 416.4 L634.0 416.4 L634.6 416.5 L635.2 416.3 L635.8 416.5 L636.4 416.5 L637.0 416.2 L637.6 416.3 L638.2 416.1 L638.8 416.5 L639.4 416.5 L640.0 416.3 L640.6 416.4 L641.2 416.5 L641.8 416.6 L642.4 416.7 L643.0 416.7 L643.6 416.6 L644.2 416.6 L644.8 416.5 L645.4 416.4 L646.0 416.3 L646.6 416.4 L647.2 416.2 L647.8 416.4 L648.4 416.2 L649.0 416.4 L649.6 416.5 L650.2 416.5 L650.8 416.7 L651.4 416.7 L652.0 416.8 L652.6 417.7 L664.6 417.7 L665.2 417.2 L665.8 417.1 L666.4 417.1 L667.0 417.7 L668.8 417.7 L669.4 416.9 L670.0 416.8 L670.6 416.8 L671.2 417.7 L671.8 416.9 L672.4 417.7 L676.6 417.7 L677.2 417.2 L677.8 417.2 L678.4 417.7 L683.2 417.7 L683.8 417.1 L684.4 417.1 L685.0 417.7 L685.0 417.7 Z M679.2 417.7 h2.8 v-1.3 h-2.8 Z M657.7 417.7 h2.7 v-0.7 h-2.7 Z M633.1 417.7 h1.9 v-0.8 h-1.9 Z M646.4 417.7 h2.4 v-1.1 h-2.4 Z" fill="#a26f17"/><line x1="625" y1="417.35" x2="685" y2="417.35" stroke="#a26f17" stroke-width="0.7" stroke-opacity="0.14" stroke-dasharray="0.9 1.6"/><path d="M625.0 426.6 L625.0 426.0 L625.6 425.9 L626.2 425.7 L626.8 425.4 L627.4 425.2 L628.0 425.2 L628.6 425.1 L629.2 424.9 L629.8 424.7 L630.4 424.4 L631.0 424.7 L631.6 424.8 L632.2 424.7 L632.8 424.6 L633.4 424.6 L634.0 424.8 L634.6 424.9 L635.2 425.1 L635.8 425.1 L636.4 425.0 L637.0 425.2 L637.6 425.5 L638.2 425.4 L638.8 425.5 L639.4 426.6 L640.0 426.6 L640.6 426.0 L641.2 425.9 L641.8 425.8 L642.4 425.8 L643.0 425.6 L643.6 425.5 L644.2 425.6 L644.8 425.5 L645.4 425.4 L646.0 425.4 L646.6 425.3 L647.2 425.4 L647.8 425.4 L648.4 425.3 L649.0 425.4 L649.6 425.6 L650.2 425.5 L650.8 425.4 L651.4 425.6 L652.0 425.6 L652.6 426.6 L654.4 426.6 L655.0 426.0 L655.6 426.0 L656.2 426.0 L656.8 426.0 L657.4 426.6 L664.6 426.6 L665.2 426.1 L665.8 426.1 L666.4 426.6 L670.6 426.6 L671.2 425.8 L671.8 425.9 L672.4 425.9 L673.0 426.0 L673.6 426.6 L678.4 426.6 L679.0 425.9 L679.6 425.9 L680.2 426.6 L680.2 426.6 Z M636.1 426.6 h1.0 v-1.5 h-1.0 Z M671.1 426.6 h1.9 v-0.5 h-1.9 Z M671.7 426.6 h0.8 v-1.1 h-0.8 Z M679.5 426.6 h2.0 v-1.4 h-2.0 Z" fill="#a26f17"/><line x1="625" y1="426.25" x2="685" y2="426.25" stroke="#a26f17" stroke-width="0.7" stroke-opacity="0.14" stroke-dasharray="0.9 1.6"/><path d="M625.0 435.5 L625.0 435.5 L625.6 434.5 L626.2 434.2 L626.8 433.9 L627.4 433.6 L628.0 433.3 L628.6 433.4 L629.2 433.2 L629.8 433.2 L630.4 433.1 L631.0 433.3 L631.6 433.7 L632.2 433.8 L632.8 433.8 L633.4 434.1 L634.0 434.0 L634.6 434.0 L635.2 434.1 L635.8 434.1 L636.4 433.9 L637.0 433.6 L637.6 433.5 L638.2 433.4 L638.8 433.7 L639.4 433.6 L640.0 433.6 L640.6 433.8 L641.2 433.7 L641.8 433.6 L642.4 433.7 L643.0 433.9 L643.6 433.6 L644.2 433.8 L644.8 433.9 L645.4 433.9 L646.0 433.7 L646.6 434.1 L647.2 434.0 L647.8 434.4 L648.4 434.4 L649.0 434.5 L649.6 434.6 L650.2 434.7 L650.8 434.5 L651.4 434.4 L652.0 434.3 L652.6 434.3 L653.2 434.5 L653.8 434.4 L654.4 434.5 L655.0 434.5 L655.6 434.7 L656.2 435.5 L659.8 435.5 L660.4 434.9 L661.0 434.8 L661.6 434.7 L662.2 434.8 L662.8 435.5 L667.6 435.5 L668.2 434.7 L668.8 434.6 L669.4 434.6 L670.0 434.6 L670.6 434.4 L671.2 434.5 L671.8 435.5 L672.4 434.6 L673.0 434.7 L673.6 435.5 L680.2 435.5 L680.8 434.9 L681.4 434.9 L682.0 435.5 L682.0 435.5 Z M660.2 435.5 h2.7 v-1.5 h-2.7 Z" fill="#a26f17"/><line x1="625" y1="435.15" x2="685" y2="435.15" stroke="#a26f17" stroke-width="0.7" stroke-opacity="0.14" stroke-dasharray="0.9 1.6"/></g>
<rect x="625" y="438.25" width="60" height="1.3" fill="#d2d2d2"/>
<line x1="625.5" y1="441.6" x2="684.5" y2="441.6" stroke="#b4b4f6" stroke-width="0.7"/>
<rect x="625.5" y="440.67" width="5.5" height="1.87" fill="#2323d6"/>
<rect x="643.6" y="440.5" width="5" height="2.21" fill="#2323d6"/>
<rect x="655.5" y="440.5" width="1.5" height="2.21" fill="#2323d6"/>
<rect x="659" y="440.41" width="11" height="2.38" fill="#2323d6"/>
<rect x="670" y="440.96" width="14.5" height="1.27" fill="#2323d6"/>
<text x="653.3" y="453.5" font-size="9.5" textLength="16.7" lengthAdjust="spacingAndGlyphs" text-anchor="middle" font-style="italic" stroke="#231f20">FOS</text>
<text x="350.2" y="464" font-size="12" font-weight="bold" fill="#000">f</text>
<text x="366.6" y="467.8" font-size="9.1" textLength="71.5" lengthAdjust="spacingAndGlyphs" stroke="#231f20">Calcium signaling</text>
<text x="366.1" y="486.8" font-size="8.9" textLength="30.7" lengthAdjust="spacingAndGlyphs" fill="#22a3a8" stroke="#22a3a8">Healthy</text>
<text x="366.1" y="496.4" font-size="8.9" textLength="28.9" lengthAdjust="spacingAndGlyphs" fill="#22a3a8" stroke="#22a3a8">control</text>
<line x1="401.4" y1="479.1" x2="401.4" y2="497.2" stroke="#22a3a8" stroke-width="0.9"/>
<text x="366.2" y="531.6" font-size="8.9" textLength="22.2" lengthAdjust="spacingAndGlyphs" fill="#ae822e" stroke="#ae822e">ARDS</text>
<text x="366.2" y="541.2" font-size="8.9" textLength="31.6" lengthAdjust="spacingAndGlyphs" fill="#ae822e" stroke="#ae822e">survivor</text>
<line x1="401.4" y1="505.8" x2="401.4" y2="559.6" stroke="#ae822e" stroke-width="0.9"/>
<g><path d="M412.5 479.2 L412.5 479.2 L413.1 479.0 L413.7 478.9 L414.3 478.4 L414.9 477.7 L415.5 475.7 L416.1 474.0 L416.7 472.3 L417.3 472.1 L417.9 473.9 L418.5 474.0 L419.1 474.3 L419.7 475.4 L420.3 475.3 L420.9 475.5 L421.5 475.3 L422.1 475.2 L422.7 475.1 L423.3 475.5 L423.9 475.2 L424.5 476.0 L425.1 476.7 L425.7 477.5 L426.3 478.1 L426.9 478.6 L427.5 478.9 L428.1 479.2 L428.1 479.2 Z M440.1 479.2 h1.1 v-0.5 h-1.1 Z M430.7 479.2 h1.0 v-0.7 h-1.0 Z M468.2 479.2 h2.2 v-0.5 h-2.2 Z M433.9 479.2 h1.5 v-0.6 h-1.5 Z M413.7 479.2 h0.9 v-0.8 h-0.9 Z M436.5 479.2 h0.7 v-0.7 h-0.7 Z M423.9 479.2 h2.0 v-0.8 h-2.0 Z" fill="#0f9898"/><line x1="409.5" y1="478.85" x2="470" y2="478.85" stroke="#0f9898" stroke-width="0.7" stroke-opacity="0.25" stroke-dasharray="0.9 1.6"/><path d="M412.5 488.1 L412.5 488.1 L413.1 487.9 L413.7 487.7 L414.3 487.5 L414.9 487.0 L415.5 486.1 L416.1 485.2 L416.7 483.7 L417.3 484.2 L417.9 483.4 L418.5 484.4 L419.1 483.8 L419.7 484.1 L420.3 484.6 L420.9 484.0 L421.5 484.3 L422.1 484.8 L422.7 483.8 L423.3 483.9 L423.9 484.3 L424.5 485.2 L425.1 485.3 L425.7 486.5 L426.3 486.9 L426.9 487.5 L427.5 487.8 L428.1 488.1 L428.1 488.1 Z M448.0 488.1 h1.2 v-0.6 h-1.2 Z M433.3 488.1 h1.4 v-0.7 h-1.4 Z M447.6 488.1 h1.4 v-0.8 h-1.4 Z M410.8 488.1 h2.0 v-0.5 h-2.0 Z M427.8 488.1 h1.8 v-0.6 h-1.8 Z" fill="#0f9898"/><line x1="409.5" y1="487.75" x2="470" y2="487.75" stroke="#0f9898" stroke-width="0.7" stroke-opacity="0.25" stroke-dasharray="0.9 1.6"/><path d="M412.5 497.0 L412.5 497.0 L413.1 496.8 L413.7 496.6 L414.3 496.2 L414.9 495.7 L415.5 494.8 L416.1 493.7 L416.7 492.5 L417.3 492.3 L417.9 492.6 L418.5 492.2 L419.1 492.7 L419.7 492.8 L420.3 493.1 L420.9 492.6 L421.5 492.5 L422.1 492.6 L422.7 493.0 L423.3 492.7 L423.9 493.3 L424.5 493.6 L425.1 494.4 L425.7 495.0 L426.3 495.7 L426.9 496.3 L427.5 496.7 L428.1 497.0 L428.1 497.0 Z M456.0 497.0 h1.3 v-0.7 h-1.3 Z M445.4 497.0 h1.7 v-0.8 h-1.7 Z M459.3 497.0 h1.3 v-0.8 h-1.3 Z M436.4 497.0 h2.0 v-0.6 h-2.0 Z M460.2 497.0 h0.8 v-0.9 h-0.8 Z" fill="#0f9898"/><line x1="409.5" y1="496.65" x2="470" y2="496.65" stroke="#0f9898" stroke-width="0.7" stroke-opacity="0.25" stroke-dasharray="0.9 1.6"/><path d="M409.5 505.9 L409.5 505.2 L410.1 505.2 L410.7 505.9 L417.3 505.9 L417.9 504.8 L418.5 504.8 L419.1 504.9 L419.7 504.7 L420.3 504.8 L420.9 505.0 L421.5 504.7 L422.1 504.9 L422.7 505.0 L423.3 505.9 L426.3 505.9 L426.9 505.2 L427.5 505.2 L428.1 505.2 L428.7 505.9 L452.7 505.9 L453.3 505.4 L453.9 505.4 L454.5 505.4 L455.1 505.9 L461.1 505.9 L461.7 505.3 L462.3 505.3 L462.9 505.3 L463.5 505.3 L464.1 505.9 L464.1 505.9 Z M428.9 505.9 h2.5 v-0.8 h-2.5 Z M429.6 505.9 h1.0 v-1.4 h-1.0 Z M463.7 505.9 h1.7 v-1.5 h-1.7 Z" fill="#a26f17"/><line x1="409.5" y1="505.55" x2="470" y2="505.55" stroke="#a26f17" stroke-width="0.7" stroke-opacity="0.14" stroke-dasharray="0.9 1.6"/><path d="M416.1 514.8 L416.1 514.8 L416.7 513.7 L417.3 513.2 L417.9 513.0 L418.5 512.9 L419.1 513.1 L419.7 513.3 L420.3 513.6 L420.9 513.7 L421.5 513.9 L422.1 513.7 L422.7 513.7 L423.3 513.7 L423.9 513.7 L424.5 513.9 L425.1 514.1 L425.7 514.3 L426.3 514.8 L438.3 514.8 L438.9 514.2 L439.5 514.2 L440.1 514.2 L440.7 514.8 L448.5 514.8 L449.1 514.2 L449.7 514.2 L450.3 514.2 L450.9 514.2 L451.5 514.8 L459.3 514.8 L459.9 514.1 L460.5 514.1 L461.1 514.1 L461.7 514.1 L462.3 514.8 L462.3 514.8 Z M441.3 514.8 h1.5 v-1.0 h-1.5 Z M415.5 514.8 h2.5 v-1.2 h-2.5 Z M416.3 514.8 h1.0 v-1.8 h-1.0 Z M427.5 514.8 h2.5 v-0.5 h-2.5 Z" fill="#a26f17"/><line x1="409.5" y1="514.45" x2="470" y2="514.45" stroke="#a26f17" stroke-width="0.7" stroke-opacity="0.14" stroke-dasharray="0.9 1.6"/><path d="M415.5 523.7 L415.5 523.7 L416.1 522.4 L416.7 522.1 L417.3 522.1 L417.9 522.1 L418.5 522.1 L419.1 522.2 L419.7 522.4 L420.3 522.3 L420.9 522.2 L421.5 522.2 L422.1 522.3 L422.7 522.0 L423.3 522.2 L423.9 522.4 L424.5 522.8 L425.1 523.7 L428.1 523.7 L428.7 522.9 L429.3 522.9 L429.9 522.9 L430.5 523.7 L443.7 523.7 L444.3 523.2 L444.9 523.2 L445.5 523.7 L449.7 523.7 L450.3 523.1 L450.9 523.1 L451.5 523.7 L455.1 523.7 L455.7 522.9 L456.3 522.9 L456.9 522.9 L457.5 522.9 L458.1 523.7 L464.7 523.7 L465.3 523.1 L465.9 523.1 L466.5 523.1 L467.1 523.7 L467.1 523.7 Z M418.8 523.7 h2.8 v-1.0 h-2.8 Z M453.5 523.7 h1.1 v-1.2 h-1.1 Z M460.6 523.7 h1.4 v-0.7 h-1.4 Z M461.0 523.7 h0.6 v-1.3 h-0.6 Z M446.5 523.7 h2.6 v-0.9 h-2.6 Z M447.3 523.7 h1.0 v-1.5 h-1.0 Z" fill="#a26f17"/><line x1="409.5" y1="523.35" x2="470" y2="523.35" stroke="#a26f17" stroke-width="0.7" stroke-opacity="0.14" stroke-dasharray="0.9 1.6"/><path d="M415.5 532.6 L415.5 532.6 L416.1 531.6 L416.7 531.2 L417.3 530.9 L417.9 531.2 L418.5 531.1 L419.1 531.3 L419.7 531.3 L420.3 531.0 L420.9 530.7 L421.5 530.7 L422.1 530.5 L422.7 530.7 L423.3 530.8 L423.9 531.0 L424.5 531.0 L425.1 531.4 L425.7 531.6 L426.3 532.6 L429.3 532.6 L429.9 531.9 L430.5 531.9 L431.1 532.6 L444.3 532.6 L444.9 532.1 L445.5 532.1 L446.1 532.6 L452.1 532.6 L452.7 532.1 L453.3 532.1 L453.9 532.6 L462.9 532.6 L463.5 532.0 L464.1 532.0 L464.7 532.6 L464.7 532.6 Z M412.7 532.6 h1.8 v-1.5 h-1.8 Z M416.2 532.6 h1.4 v-0.8 h-1.4 Z M438.3 532.6 h3.1 v-1.3 h-3.1 Z M439.3 532.6 h1.3 v-1.9 h-1.3 Z M435.6 532.6 h1.3 v-0.7 h-1.3 Z M436.0 532.6 h0.5 v-1.3 h-0.5 Z" fill="#a26f17"/><line x1="409.5" y1="532.25" x2="470" y2="532.25" stroke="#a26f17" stroke-width="0.7" stroke-opacity="0.14" stroke-dasharray="0.9 1.6"/><path d="M409.5 541.5 L409.5 540.8 L410.1 540.8 L410.7 540.8 L411.3 541.5 L416.7 541.5 L417.3 540.5 L417.9 540.1 L418.5 539.6 L419.1 539.8 L419.7 539.9 L420.3 540.1 L420.9 540.2 L421.5 539.8 L422.1 539.9 L422.7 539.9 L423.3 539.9 L423.9 540.3 L424.5 540.6 L425.1 540.7 L425.7 541.5 L444.3 541.5 L444.9 540.7 L445.5 540.7 L446.1 540.7 L446.7 540.7 L447.3 541.5 L463.5 541.5 L464.1 540.8 L464.7 540.8 L465.3 541.5 L465.3 541.5 Z M436.9 541.5 h1.3 v-0.9 h-1.3 Z M417.5 541.5 h2.9 v-1.3 h-2.9 Z" fill="#a26f17"/><line x1="409.5" y1="541.15" x2="470" y2="541.15" stroke="#a26f17" stroke-width="0.7" stroke-opacity="0.14" stroke-dasharray="0.9 1.6"/><path d="M409.5 550.4 L409.5 549.7 L410.1 549.7 L410.7 549.7 L411.3 549.7 L411.9 549.7 L412.5 549.7 L413.1 549.7 L413.7 550.4 L419.1 550.4 L419.7 549.6 L420.3 549.5 L420.9 549.3 L421.5 549.5 L422.1 549.2 L422.7 549.3 L423.3 549.5 L423.9 550.4 L427.5 550.4 L428.1 549.8 L428.7 549.8 L429.3 550.4 L435.9 550.4 L436.5 549.7 L437.1 549.7 L437.7 549.7 L438.3 549.7 L438.9 550.4 L449.1 550.4 L449.7 549.9 L450.3 549.9 L450.9 550.4 L463.5 550.4 L464.1 549.7 L464.7 549.7 L465.3 549.7 L465.9 549.7 L466.5 550.4 L466.5 550.4 Z M451.6 550.4 h1.0 v-1.2 h-1.0 Z M446.3 550.4 h1.5 v-0.7 h-1.5 Z" fill="#a26f17"/><line x1="409.5" y1="550.05" x2="470" y2="550.05" stroke="#a26f17" stroke-width="0.7" stroke-opacity="0.14" stroke-dasharray="0.9 1.6"/><path d="M411.9 559.3 L411.9 559.3 L412.5 558.6 L413.1 558.6 L413.7 558.6 L414.3 559.3 L416.1 559.3 L416.7 558.3 L417.3 558.3 L417.9 558.1 L418.5 558.3 L419.1 558.4 L419.7 558.1 L420.3 557.9 L420.9 557.9 L421.5 557.6 L422.1 557.7 L422.7 557.5 L423.3 558.0 L423.9 558.2 L424.5 558.5 L425.1 559.3 L426.9 559.3 L427.5 558.5 L428.1 558.5 L428.7 558.5 L429.3 559.3 L436.5 559.3 L437.1 558.7 L437.7 558.7 L438.3 558.7 L438.9 559.3 L443.1 559.3 L443.7 558.5 L444.3 558.5 L444.9 558.5 L445.5 559.3 L454.5 559.3 L455.1 558.7 L455.7 558.7 L456.3 558.7 L456.9 559.3 L465.3 559.3 L465.9 558.8 L466.5 558.8 L467.1 559.3 L467.1 559.3 Z M453.4 559.3 h1.4 v-1.1 h-1.4 Z" fill="#a26f17"/><line x1="409.5" y1="558.95" x2="470" y2="558.95" stroke="#a26f17" stroke-width="0.7" stroke-opacity="0.14" stroke-dasharray="0.9 1.6"/></g>
<rect x="409.5" y="562.05" width="60.5" height="1.3" fill="#d2d2d2"/>
<line x1="414" y1="565.4" x2="466" y2="565.4" stroke="#b4b4f6" stroke-width="0.7"/>
<rect x="414" y="564.47" width="1.5" height="1.87" fill="#2323d6"/>
<rect x="418" y="564.47" width="2.5" height="1.87" fill="#2323d6"/>
<rect x="425" y="564.47" width="3" height="1.87" fill="#2323d6"/>
<rect x="435" y="564.55" width="1" height="1.7" fill="#2323d6"/>
<rect x="444" y="564.55" width="1" height="1.7" fill="#2323d6"/>
<rect x="448" y="564.29" width="18" height="2.21" fill="#2323d6"/>
<text x="438.2" y="577.3" font-size="9.5" textLength="26.8" lengthAdjust="spacingAndGlyphs" text-anchor="middle" font-style="italic" stroke="#231f20">CALM1</text>
<g><path d="M516.4 479.2 L516.4 479.2 L517.0 479.0 L517.6 478.9 L518.2 478.7 L518.8 478.2 L519.4 476.4 L520.0 473.1 L520.6 472.0 L521.2 474.8 L521.8 477.5 L522.4 478.4 L523.0 478.7 L523.6 478.9 L524.2 479.0 L524.8 479.2 L524.8 479.2 Z M483.4 479.2 h2.0 v-0.7 h-2.0 Z M503.9 479.2 h1.7 v-0.4 h-1.7 Z M536.4 479.2 h0.6 v-0.8 h-0.6 Z M486.0 479.2 h2.1 v-0.9 h-2.1 Z M510.4 479.2 h1.8 v-0.6 h-1.8 Z M493.8 479.2 h1.7 v-0.6 h-1.7 Z M520.7 479.2 h1.4 v-0.9 h-1.4 Z" fill="#0f9898"/><line x1="481.6" y1="478.85" x2="540.9" y2="478.85" stroke="#0f9898" stroke-width="0.7" stroke-opacity="0.25" stroke-dasharray="0.9 1.6"/><path d="M516.4 488.1 L516.4 488.1 L517.0 487.9 L517.6 487.8 L518.2 487.6 L518.8 487.4 L519.4 486.4 L520.0 484.9 L520.6 485.0 L521.2 485.8 L521.8 486.9 L522.4 487.5 L523.0 487.6 L523.6 487.8 L524.2 487.9 L524.8 488.1 L524.8 488.1 Z M508.8 488.1 h1.4 v-0.8 h-1.4 Z M506.0 488.1 h0.9 v-0.6 h-0.9 Z M533.7 488.1 h0.9 v-0.5 h-0.9 Z M494.4 488.1 h0.8 v-0.8 h-0.8 Z M490.7 488.1 h1.2 v-0.5 h-1.2 Z M503.2 488.1 h1.0 v-0.9 h-1.0 Z" fill="#0f9898"/><line x1="481.6" y1="487.75" x2="540.9" y2="487.75" stroke="#0f9898" stroke-width="0.7" stroke-opacity="0.25" stroke-dasharray="0.9 1.6"/><path d="M516.4 497.0 L516.4 497.0 L517.0 496.7 L517.6 496.6 L518.2 496.4 L518.8 496.1 L519.4 494.5 L520.0 492.4 L520.6 490.9 L521.2 493.4 L521.8 495.1 L522.4 496.2 L523.0 496.5 L523.6 496.6 L524.2 496.8 L524.8 497.0 L524.8 497.0 Z M503.5 497.0 h1.1 v-0.8 h-1.1 Z M537.1 497.0 h1.1 v-0.4 h-1.1 Z M493.2 497.0 h1.5 v-0.6 h-1.5 Z M505.0 497.0 h0.9 v-0.5 h-0.9 Z M517.0 497.0 h1.3 v-0.5 h-1.3 Z M482.4 497.0 h1.3 v-0.7 h-1.3 Z M497.3 497.0 h1.7 v-0.7 h-1.7 Z M489.4 497.0 h1.3 v-0.6 h-1.3 Z M515.7 497.0 h2.2 v-0.6 h-2.2 Z" fill="#0f9898"/><line x1="481.6" y1="496.65" x2="540.9" y2="496.65" stroke="#0f9898" stroke-width="0.7" stroke-opacity="0.25" stroke-dasharray="0.9 1.6"/><path d="M489.4 505.9 L489.4 505.9 L490.0 505.4 L490.6 505.4 L491.2 505.4 L491.8 505.9 L504.4 505.9 L505.0 505.3 L505.6 505.3 L506.2 505.9 L510.4 505.9 L511.0 505.3 L511.6 505.3 L512.2 505.9 L519.4 505.9 L520.0 505.0 L520.6 504.8 L521.2 504.8 L521.8 505.3 L522.4 505.4 L523.0 505.9 L535.0 505.9 L535.6 505.1 L536.2 505.1 L536.8 505.1 L537.4 505.1 L538.0 505.9 L538.0 505.9 Z M507.1 505.9 h1.6 v-1.1 h-1.6 Z M529.8 505.9 h2.0 v-0.5 h-2.0 Z M485.3 505.9 h1.3 v-0.6 h-1.3 Z" fill="#a26f17"/><line x1="481.6" y1="505.55" x2="540.9" y2="505.55" stroke="#a26f17" stroke-width="0.7" stroke-opacity="0.14" stroke-dasharray="0.9 1.6"/><path d="M481.6 514.8 L481.6 514.1 L482.2 514.1 L482.8 514.1 L483.4 514.8 L491.2 514.8 L491.8 514.1 L492.4 514.1 L493.0 514.8 L518.2 514.8 L518.8 514.3 L519.4 514.1 L520.0 513.8 L520.6 512.9 L521.2 512.5 L521.8 513.5 L522.4 514.8 L528.4 514.8 L529.0 514.2 L529.6 514.2 L530.2 514.2 L530.8 514.2 L531.4 514.8 L531.4 514.8 Z M530.1 514.8 h1.1 v-1.1 h-1.1 Z M523.0 514.8 h1.3 v-0.8 h-1.3 Z M523.4 514.8 h0.5 v-1.4 h-0.5 Z" fill="#a26f17"/><line x1="481.6" y1="514.45" x2="540.9" y2="514.45" stroke="#a26f17" stroke-width="0.7" stroke-opacity="0.14" stroke-dasharray="0.9 1.6"/><path d="M496.6 523.7 L496.6 523.7 L497.2 523.0 L497.8 523.0 L498.4 523.7 L509.8 523.7 L510.4 523.2 L511.0 523.2 L511.6 523.2 L512.2 523.2 L512.8 523.7 L518.8 523.7 L519.4 522.4 L520.0 521.7 L520.6 521.9 L521.2 522.5 L521.8 523.7 L524.8 523.7 L525.4 523.1 L526.0 523.1 L526.6 523.7 L532.0 523.7 L532.6 523.2 L533.2 523.2 L533.8 523.2 L534.4 523.7 L539.8 523.7 L540.4 523.1 L540.4 523.7 Z M530.8 523.7 h2.3 v-1.4 h-2.3 Z M531.5 523.7 h0.9 v-2.0 h-0.9 Z" fill="#a26f17"/><line x1="481.6" y1="523.35" x2="540.9" y2="523.35" stroke="#a26f17" stroke-width="0.7" stroke-opacity="0.14" stroke-dasharray="0.9 1.6"/><path d="M481.6 532.6 L481.6 531.9 L482.2 531.9 L482.8 531.9 L483.4 531.9 L484.0 531.9 L484.6 531.9 L485.2 531.9 L485.8 531.9 L486.4 532.6 L493.6 532.6 L494.2 532.0 L494.8 532.0 L495.4 532.6 L500.8 532.6 L501.4 532.0 L502.0 532.0 L502.6 532.0 L503.2 532.0 L503.8 532.6 L518.8 532.6 L519.4 531.9 L520.0 531.9 L520.6 531.4 L521.2 531.0 L521.8 531.4 L522.4 532.6 L524.2 532.6 L524.8 532.0 L525.4 532.0 L526.0 532.0 L526.6 532.6 L537.4 532.6 L538.0 532.0 L538.6 532.0 L539.2 532.0 L539.8 532.6 L539.8 532.6 Z M517.7 532.6 h2.5 v-1.1 h-2.5 Z M485.3 532.6 h2.5 v-0.6 h-2.5 Z M515.4 532.6 h1.8 v-1.4 h-1.8 Z" fill="#a26f17"/><line x1="481.6" y1="532.25" x2="540.9" y2="532.25" stroke="#a26f17" stroke-width="0.7" stroke-opacity="0.14" stroke-dasharray="0.9 1.6"/><path d="M481.6 541.5 L481.6 540.8 L482.2 541.5 L486.4 541.5 L487.0 540.9 L487.6 540.9 L488.2 541.5 L494.2 541.5 L494.8 540.7 L495.4 540.7 L496.0 541.5 L503.2 541.5 L503.8 541.0 L504.4 541.0 L505.0 541.0 L505.6 541.0 L506.2 541.5 L515.2 541.5 L515.8 541.0 L516.4 541.0 L517.0 541.0 L517.6 541.0 L518.2 541.5 L518.8 540.4 L519.4 539.4 L520.0 538.8 L520.6 539.7 L521.2 540.7 L521.8 541.5 L521.8 541.5 Z M505.0 541.5 h2.3 v-1.0 h-2.3 Z M505.7 541.5 h0.9 v-1.6 h-0.9 Z M511.9 541.5 h1.2 v-0.8 h-1.2 Z" fill="#a26f17"/><line x1="481.6" y1="541.15" x2="540.9" y2="541.15" stroke="#a26f17" stroke-width="0.7" stroke-opacity="0.14" stroke-dasharray="0.9 1.6"/><path d="M481.6 550.4 L481.6 549.7 L482.2 549.7 L482.8 549.7 L483.4 549.7 L484.0 550.4 L488.8 550.4 L489.4 549.9 L490.0 549.9 L490.6 549.9 L491.2 550.4 L498.4 550.4 L499.0 549.8 L499.6 549.8 L500.2 549.8 L500.8 550.4 L505.0 550.4 L505.6 549.8 L506.2 549.8 L506.8 549.8 L507.4 550.4 L511.6 550.4 L512.2 549.6 L512.8 549.6 L513.4 550.4 L517.6 550.4 L518.2 549.4 L518.8 548.6 L519.4 548.8 L520.0 549.1 L520.6 550.4 L527.8 550.4 L528.4 549.7 L529.0 549.7 L529.6 549.7 L530.2 549.7 L530.8 550.4 L530.8 550.4 Z M491.8 550.4 h1.6 v-1.1 h-1.6 Z M494.4 550.4 h2.9 v-1.4 h-2.9 Z M498.3 550.4 h2.4 v-1.3 h-2.4 Z" fill="#a26f17"/><line x1="481.6" y1="550.05" x2="540.9" y2="550.05" stroke="#a26f17" stroke-width="0.7" stroke-opacity="0.14" stroke-dasharray="0.9 1.6"/><path d="M482.2 559.3 L482.2 559.3 L482.8 558.7 L483.4 558.7 L484.0 559.3 L496.0 559.3 L496.6 558.5 L497.2 558.5 L497.8 558.5 L498.4 558.5 L499.0 559.3 L503.8 559.3 L504.4 558.8 L505.0 558.8 L505.6 558.8 L506.2 559.3 L514.6 559.3 L515.2 558.7 L515.8 558.7 L516.4 559.3 L520.0 559.3 L520.6 558.4 L521.2 557.6 L521.8 556.7 L522.4 557.1 L523.0 558.1 L523.6 559.3 L529.0 559.3 L529.6 558.7 L530.2 558.7 L530.8 559.3 L538.0 559.3 L538.6 558.8 L539.2 558.8 L539.8 559.3 L539.8 559.3 Z M534.7 559.3 h2.2 v-0.7 h-2.2 Z M505.2 559.3 h3.0 v-0.8 h-3.0 Z M506.1 559.3 h1.2 v-1.4 h-1.2 Z M487.7 559.3 h2.3 v-1.1 h-2.3 Z M529.9 559.3 h2.6 v-1.2 h-2.6 Z M530.7 559.3 h1.0 v-1.8 h-1.0 Z" fill="#a26f17"/><line x1="481.6" y1="558.95" x2="540.9" y2="558.95" stroke="#a26f17" stroke-width="0.7" stroke-opacity="0.14" stroke-dasharray="0.9 1.6"/></g>
<rect x="481.6" y="562.05" width="59.3" height="1.3" fill="#d2d2d2"/>
<line x1="490" y1="565.4" x2="521.5" y2="565.4" stroke="#b4b4f6" stroke-width="0.7"/>
<rect x="490" y="564.38" width="2.5" height="2.04" fill="#2323d6"/>
<rect x="504" y="564.38" width="6.5" height="2.04" fill="#2323d6"/>
<rect x="520" y="564.47" width="1.5" height="1.87" fill="#2323d6"/>
<text x="509.9" y="577.3" font-size="9.5" textLength="28" lengthAdjust="spacingAndGlyphs" text-anchor="middle" font-style="italic" stroke="#231f20">CALM2</text>
<g><path d="M553.2 479.2 L553.2 476.1 L553.8 473.7 L554.4 472.7 L555.0 473.3 L555.6 475.0 L556.2 476.9 L556.8 477.1 L557.4 477.3 L558.0 477.3 L558.6 477.6 L559.2 477.6 L559.8 478.1 L560.4 478.6 L561.0 478.9 L561.6 479.2 L561.6 479.2 Z M586.0 479.2 h1.2 v-0.4 h-1.2 Z M606.3 479.2 h2.0 v-0.8 h-2.0 Z M579.8 479.2 h2.0 v-0.8 h-2.0 Z M595.2 479.2 h1.4 v-0.9 h-1.4 Z M571.7 479.2 h1.1 v-0.7 h-1.1 Z" fill="#0f9898"/><line x1="553.2" y1="478.85" x2="612.4" y2="478.85" stroke="#0f9898" stroke-width="0.7" stroke-opacity="0.25" stroke-dasharray="0.9 1.6"/><path d="M553.2 488.1 L553.2 486.7 L553.8 485.2 L554.4 485.2 L555.0 485.0 L555.6 485.7 L556.2 486.5 L556.8 486.4 L557.4 486.4 L558.0 486.7 L558.6 486.7 L559.2 486.9 L559.8 487.2 L560.4 487.6 L561.0 487.9 L561.6 488.1 L561.6 488.1 Z M609.5 488.1 h0.8 v-0.6 h-0.8 Z M604.6 488.1 h1.0 v-0.7 h-1.0 Z M594.2 488.1 h0.7 v-0.6 h-0.7 Z M604.7 488.1 h1.6 v-0.8 h-1.6 Z M601.5 488.1 h1.4 v-0.5 h-1.4 Z M599.6 488.1 h2.1 v-0.8 h-2.1 Z M599.0 488.1 h1.8 v-0.6 h-1.8 Z" fill="#0f9898"/><line x1="553.2" y1="487.75" x2="612.4" y2="487.75" stroke="#0f9898" stroke-width="0.7" stroke-opacity="0.25" stroke-dasharray="0.9 1.6"/><path d="M553.2 497.0 L553.2 494.1 L553.8 492.5 L554.4 491.8 L555.0 492.0 L555.6 493.3 L556.2 494.2 L556.8 494.3 L557.4 494.5 L558.0 494.8 L558.6 494.6 L559.2 495.1 L559.8 495.7 L560.4 496.4 L561.0 496.7 L561.6 497.0 L561.6 497.0 Z M565.2 497.0 h2.1 v-0.6 h-2.1 Z M555.4 497.0 h1.1 v-0.7 h-1.1 Z M565.5 497.0 h1.6 v-0.5 h-1.6 Z M602.6 497.0 h1.2 v-0.7 h-1.2 Z M596.5 497.0 h0.8 v-0.5 h-0.8 Z" fill="#0f9898"/><line x1="553.2" y1="496.65" x2="612.4" y2="496.65" stroke="#0f9898" stroke-width="0.7" stroke-opacity="0.25" stroke-dasharray="0.9 1.6"/><path d="M553.2 505.9 L553.2 505.1 L553.8 504.5 L554.4 504.6 L555.0 504.8 L555.6 505.0 L556.2 505.3 L556.8 505.9 L569.4 505.9 L570.0 505.3 L570.6 505.3 L571.2 505.3 L571.8 505.3 L572.4 505.9 L605.4 505.9 L606.0 505.4 L606.6 505.4 L607.2 505.9 L607.2 505.9 Z M610.4 505.9 h2.5 v-0.9 h-2.5 Z M611.2 505.9 h1.0 v-1.5 h-1.0 Z M584.1 505.9 h3.1 v-0.8 h-3.1 Z M585.0 505.9 h1.2 v-1.4 h-1.2 Z M610.1 505.9 h2.4 v-1.2 h-2.4 Z M608.1 505.9 h0.8 v-1.0 h-0.8 Z" fill="#a26f17"/><line x1="553.2" y1="505.55" x2="612.4" y2="505.55" stroke="#a26f17" stroke-width="0.7" stroke-opacity="0.14" stroke-dasharray="0.9 1.6"/><path d="M553.2 514.8 L553.2 513.6 L553.8 513.1 L554.4 513.4 L555.0 513.8 L555.6 514.8 L556.2 514.8 L556.8 514.1 L557.4 514.1 L558.0 514.0 L558.6 514.0 L559.2 514.8 L571.2 514.8 L571.8 514.1 L572.4 514.1 L573.0 514.8 L577.2 514.8 L577.8 514.1 L578.4 514.1 L579.0 514.8 L597.0 514.8 L597.6 514.3 L598.2 514.3 L598.8 514.3 L599.4 514.8 L610.8 514.8 L611.4 514.0 L612.0 514.0 L612.0 514.8 Z M573.7 514.8 h1.5 v-1.2 h-1.5 Z M564.2 514.8 h1.8 v-1.2 h-1.8 Z M589.5 514.8 h1.6 v-1.4 h-1.6 Z M575.4 514.8 h1.9 v-1.4 h-1.9 Z" fill="#a26f17"/><line x1="553.2" y1="514.45" x2="612.4" y2="514.45" stroke="#a26f17" stroke-width="0.7" stroke-opacity="0.14" stroke-dasharray="0.9 1.6"/><path d="M553.2 523.7 L553.2 521.7 L553.8 522.2 L554.4 522.8 L555.0 523.0 L555.6 523.2 L556.2 523.7 L572.4 523.7 L573.0 523.1 L573.6 523.1 L574.2 523.1 L574.8 523.1 L575.4 523.7 L579.6 523.7 L580.2 523.1 L580.8 523.1 L581.4 523.1 L582.0 523.1 L582.6 523.7 L589.2 523.7 L589.8 523.0 L590.4 523.0 L591.0 523.0 L591.6 523.0 L592.2 523.7 L592.2 523.7 Z M601.4 523.7 h1.9 v-1.1 h-1.9 Z M602.0 523.7 h0.7 v-1.7 h-0.7 Z" fill="#a26f17"/><line x1="553.2" y1="523.35" x2="612.4" y2="523.35" stroke="#a26f17" stroke-width="0.7" stroke-opacity="0.14" stroke-dasharray="0.9 1.6"/><path d="M553.2 532.6 L553.2 531.9 L553.8 531.9 L554.4 531.6 L555.0 530.8 L555.6 531.0 L556.2 531.1 L556.8 531.5 L557.4 531.8 L558.0 532.6 L566.4 532.6 L567.0 532.1 L567.6 532.1 L568.2 532.1 L568.8 532.6 L573.6 532.6 L574.2 532.1 L574.8 532.1 L575.4 532.1 L576.0 532.6 L579.6 532.6 L580.2 531.8 L580.8 531.8 L581.4 531.8 L582.0 532.6 L593.4 532.6 L594.0 532.1 L594.6 532.1 L595.2 532.1 L595.8 532.1 L596.4 532.6 L606.6 532.6 L607.2 532.1 L607.8 532.1 L608.4 532.1 L609.0 532.1 L609.6 532.6 L609.6 532.6 Z M591.8 532.6 h1.3 v-1.3 h-1.3 Z M593.8 532.6 h1.1 v-1.5 h-1.1 Z M594.2 532.6 h0.4 v-2.1 h-0.4 Z" fill="#a26f17"/><line x1="553.2" y1="532.25" x2="612.4" y2="532.25" stroke="#a26f17" stroke-width="0.7" stroke-opacity="0.14" stroke-dasharray="0.9 1.6"/><path d="M553.2 541.5 L553.2 540.8 L553.8 540.3 L554.4 539.7 L555.0 539.4 L555.6 539.9 L556.2 540.5 L556.8 541.5 L577.2 541.5 L577.8 541.0 L578.4 541.0 L579.0 541.0 L579.6 541.5 L594.6 541.5 L595.2 540.9 L595.8 540.9 L596.4 541.5 L604.8 541.5 L605.4 540.7 L606.0 540.7 L606.6 541.5 L606.6 541.5 Z M605.6 541.5 h0.9 v-0.8 h-0.9 Z M598.2 541.5 h0.9 v-1.3 h-0.9 Z M610.3 541.5 h2.0 v-0.5 h-2.0 Z M597.7 541.5 h1.8 v-1.0 h-1.8 Z" fill="#a26f17"/><line x1="553.2" y1="541.15" x2="612.4" y2="541.15" stroke="#a26f17" stroke-width="0.7" stroke-opacity="0.14" stroke-dasharray="0.9 1.6"/><path d="M553.2 550.4 L553.2 548.8 L553.8 548.8 L554.4 549.5 L555.0 549.8 L555.6 549.8 L556.2 549.9 L556.8 550.4 L570.0 550.4 L570.6 549.7 L571.2 549.7 L571.8 549.7 L572.4 550.4 L584.4 550.4 L585.0 549.7 L585.6 549.7 L586.2 550.4 L598.2 550.4 L598.8 549.7 L599.4 549.7 L600.0 549.7 L600.6 550.4 L606.0 550.4 L606.6 549.8 L607.2 549.8 L607.8 549.8 L608.4 550.4 L608.4 550.4 Z M561.8 550.4 h1.0 v-1.5 h-1.0 Z" fill="#a26f17"/><line x1="553.2" y1="550.05" x2="612.4" y2="550.05" stroke="#a26f17" stroke-width="0.7" stroke-opacity="0.14" stroke-dasharray="0.9 1.6"/><path d="M553.8 559.3 L553.8 559.3 L554.4 558.5 L555.0 558.1 L555.6 557.9 L556.2 558.2 L556.8 559.3 L562.8 559.3 L563.4 558.5 L564.0 558.5 L564.6 559.3 L569.4 559.3 L570.0 558.5 L570.6 558.5 L571.2 558.5 L571.8 559.3 L579.6 559.3 L580.2 558.7 L580.8 558.7 L581.4 559.3 L593.4 559.3 L594.0 558.6 L594.6 558.6 L595.2 558.6 L595.8 559.3 L606.0 559.3 L606.6 558.7 L607.2 558.7 L607.8 558.7 L608.4 559.3 L608.4 559.3 Z M556.5 559.3 h2.2 v-0.5 h-2.2 Z M571.2 559.3 h1.4 v-0.8 h-1.4 Z" fill="#a26f17"/><line x1="553.2" y1="558.95" x2="612.4" y2="558.95" stroke="#a26f17" stroke-width="0.7" stroke-opacity="0.14" stroke-dasharray="0.9 1.6"/></g>
<rect x="553.2" y="562.05" width="59.2" height="1.3" fill="#d2d2d2"/>
<line x1="553.5" y1="565.4" x2="612" y2="565.4" stroke="#b4b4f6" stroke-width="0.7"/>
<rect x="553.5" y="564.47" width="1.5" height="1.87" fill="#2323d6"/>
<rect x="558.5" y="564.47" width="1.5" height="1.87" fill="#2323d6"/>
<rect x="606" y="564.38" width="1" height="2.04" fill="#2323d6"/>
<rect x="608.5" y="564.38" width="1.1" height="2.04" fill="#2323d6"/>
<rect x="611" y="564.38" width="1" height="2.04" fill="#2323d6"/>
<text x="581.8" y="577.3" font-size="9.5" textLength="28.6" lengthAdjust="spacingAndGlyphs" text-anchor="middle" font-style="italic" stroke="#231f20">CALM3</text>
<g><path d="M625.3 479.2 L625.3 479.2 L625.9 479.0 L626.5 478.9 L627.1 478.6 L627.7 478.4 L628.3 478.0 L628.9 477.7 L629.5 477.4 L630.1 477.1 L630.7 476.6 L631.3 476.4 L631.9 475.3 L632.5 474.8 L633.1 473.3 L633.7 473.4 L634.3 473.9 L634.9 475.2 L635.5 477.1 L636.1 478.3 L636.7 478.9 L637.3 479.2 L637.3 479.2 Z M670.7 479.2 h1.8 v-0.9 h-1.8 Z M663.9 479.2 h0.6 v-0.4 h-0.6 Z M666.2 479.2 h1.9 v-0.6 h-1.9 Z M669.2 479.2 h1.4 v-0.8 h-1.4 Z M656.3 479.2 h1.4 v-0.6 h-1.4 Z" fill="#0f9898"/><line x1="624.7" y1="478.85" x2="685" y2="478.85" stroke="#0f9898" stroke-width="0.7" stroke-opacity="0.25" stroke-dasharray="0.9 1.6"/><path d="M625.3 488.1 L625.3 488.1 L625.9 487.9 L626.5 487.8 L627.1 487.6 L627.7 487.4 L628.3 487.1 L628.9 486.8 L629.5 486.4 L630.1 486.3 L630.7 486.1 L631.3 485.6 L631.9 485.6 L632.5 485.4 L633.1 484.6 L633.7 484.4 L634.3 484.9 L634.9 485.5 L635.5 486.7 L636.1 487.6 L636.7 487.9 L637.3 488.1 L637.3 488.1 Z M673.8 488.1 h1.8 v-0.4 h-1.8 Z M649.6 488.1 h1.1 v-0.5 h-1.1 Z M677.3 488.1 h1.7 v-0.8 h-1.7 Z M632.8 488.1 h1.5 v-0.8 h-1.5 Z M648.6 488.1 h1.5 v-0.4 h-1.5 Z M661.2 488.1 h1.3 v-0.7 h-1.3 Z" fill="#0f9898"/><line x1="624.7" y1="487.75" x2="685" y2="487.75" stroke="#0f9898" stroke-width="0.7" stroke-opacity="0.25" stroke-dasharray="0.9 1.6"/><path d="M625.3 497.0 L625.3 497.0 L625.9 496.8 L626.5 496.7 L627.1 496.5 L627.7 496.2 L628.3 495.9 L628.9 495.7 L629.5 495.1 L630.1 494.9 L630.7 494.8 L631.3 494.0 L631.9 493.8 L632.5 492.8 L633.1 492.5 L633.7 491.3 L634.3 492.3 L634.9 493.4 L635.5 495.0 L636.1 496.2 L636.7 496.7 L637.3 497.0 L637.3 497.0 Z M636.1 497.0 h1.6 v-0.8 h-1.6 Z M682.0 497.0 h2.1 v-0.5 h-2.1 Z M651.7 497.0 h1.3 v-0.8 h-1.3 Z M631.1 497.0 h0.8 v-0.7 h-0.8 Z M667.5 497.0 h2.0 v-0.7 h-2.0 Z M628.8 497.0 h1.7 v-0.6 h-1.7 Z M636.3 497.0 h1.2 v-0.7 h-1.2 Z M657.6 497.0 h1.8 v-0.8 h-1.8 Z M673.2 497.0 h2.0 v-0.5 h-2.0 Z" fill="#0f9898"/><line x1="624.7" y1="496.65" x2="685" y2="496.65" stroke="#0f9898" stroke-width="0.7" stroke-opacity="0.25" stroke-dasharray="0.9 1.6"/><path d="M624.7 505.9 L624.7 505.2 L625.3 505.2 L625.9 505.2 L626.5 505.2 L627.1 505.9 L630.7 505.9 L631.3 505.1 L631.9 505.2 L632.5 504.9 L633.1 504.8 L633.7 504.3 L634.3 503.6 L634.9 503.6 L635.5 503.6 L636.1 504.7 L636.7 505.9 L637.3 505.2 L637.9 505.2 L638.5 505.2 L639.1 505.9 L648.1 505.9 L648.7 505.4 L649.3 505.4 L649.9 505.4 L650.5 505.9 L657.7 505.9 L658.3 505.2 L658.9 505.2 L659.5 505.2 L660.1 505.9 L668.5 505.9 L669.1 505.2 L669.7 505.2 L670.3 505.2 L670.9 505.9 L678.7 505.9 L679.3 505.4 L679.9 505.4 L680.5 505.4 L681.1 505.4 L681.7 505.9 L681.7 505.9 Z M677.9 505.9 h2.8 v-0.9 h-2.8 Z M679.5 505.9 h2.5 v-0.6 h-2.5 Z M680.2 505.9 h1.0 v-1.2 h-1.0 Z M660.8 505.9 h1.6 v-1.1 h-1.6 Z M661.3 505.9 h0.6 v-1.7 h-0.6 Z" fill="#a26f17"/><line x1="624.7" y1="505.55" x2="685" y2="505.55" stroke="#a26f17" stroke-width="0.7" stroke-opacity="0.14" stroke-dasharray="0.9 1.6"/><path d="M627.7 514.8 L627.7 514.8 L628.3 514.1 L628.9 514.1 L629.5 514.1 L630.1 514.8 L630.7 514.8 L631.3 513.9 L631.9 513.4 L632.5 513.3 L633.1 513.3 L633.7 513.8 L634.3 514.8 L640.9 514.8 L641.5 514.0 L642.1 514.0 L642.7 514.8 L649.9 514.8 L650.5 514.2 L651.1 514.2 L651.7 514.2 L652.3 514.8 L667.3 514.8 L667.9 514.2 L668.5 514.2 L669.1 514.2 L669.7 514.2 L670.3 514.8 L682.9 514.8 L683.5 514.0 L684.1 514.0 L684.7 514.0 L684.7 514.8 Z M642.8 514.8 h1.1 v-1.3 h-1.1 Z M656.4 514.8 h1.8 v-1.5 h-1.8 Z M658.9 514.8 h1.8 v-0.5 h-1.8 Z M659.4 514.8 h0.7 v-1.1 h-0.7 Z M654.1 514.8 h0.9 v-1.1 h-0.9 Z" fill="#a26f17"/><line x1="624.7" y1="514.45" x2="685" y2="514.45" stroke="#a26f17" stroke-width="0.7" stroke-opacity="0.14" stroke-dasharray="0.9 1.6"/><path d="M624.7 523.7 L624.7 523.0 L625.3 523.0 L625.9 523.0 L626.5 523.0 L627.1 523.0 L627.7 523.7 L628.3 522.9 L628.9 523.7 L629.5 523.7 L630.1 522.8 L630.7 522.8 L631.3 522.9 L631.9 522.7 L632.5 522.5 L633.1 522.2 L633.7 521.6 L634.3 521.5 L634.9 521.8 L635.5 522.4 L636.1 523.7 L638.5 523.7 L639.1 522.9 L639.7 522.9 L640.3 522.9 L640.9 522.9 L641.5 523.7 L646.9 523.7 L647.5 523.1 L648.1 523.1 L648.7 523.1 L649.3 523.7 L658.3 523.7 L658.9 523.1 L659.5 523.1 L660.1 523.7 L664.3 523.7 L664.9 523.1 L665.5 523.1 L666.1 523.7 L670.3 523.7 L670.9 523.2 L671.5 523.2 L672.1 523.7 L681.1 523.7 L681.7 522.9 L682.3 522.9 L682.9 522.9 L683.5 523.7 L683.5 523.7 Z M665.4 523.7 h2.6 v-1.3 h-2.6 Z M666.2 523.7 h1.1 v-1.9 h-1.1 Z M644.7 523.7 h2.4 v-1.4 h-2.4 Z" fill="#a26f17"/><line x1="624.7" y1="523.35" x2="685" y2="523.35" stroke="#a26f17" stroke-width="0.7" stroke-opacity="0.14" stroke-dasharray="0.9 1.6"/><path d="M625.3 532.6 L625.3 532.6 L625.9 531.9 L626.5 531.9 L627.1 531.9 L627.7 531.9 L628.3 532.6 L630.7 532.6 L631.3 531.5 L631.9 530.6 L632.5 530.6 L633.1 530.5 L633.7 530.8 L634.3 531.5 L634.9 532.6 L637.3 532.6 L637.9 531.9 L638.5 531.9 L639.1 531.9 L639.7 531.9 L640.3 532.6 L644.5 532.6 L645.1 531.9 L645.7 531.9 L646.3 532.6 L652.3 532.6 L652.9 531.8 L653.5 531.8 L654.1 531.8 L654.7 531.8 L655.3 532.6 L663.7 532.6 L664.3 532.1 L664.9 532.1 L665.5 532.1 L666.1 532.6 L678.7 532.6 L679.3 532.0 L679.9 532.0 L680.5 532.0 L681.1 532.0 L681.7 532.6 L681.7 532.6 Z M649.5 532.6 h1.0 v-1.4 h-1.0 Z M649.8 532.6 h0.4 v-2.0 h-0.4 Z M669.7 532.6 h1.6 v-0.7 h-1.6 Z M662.7 532.6 h2.9 v-1.4 h-2.9 Z" fill="#a26f17"/><line x1="624.7" y1="532.25" x2="685" y2="532.25" stroke="#a26f17" stroke-width="0.7" stroke-opacity="0.14" stroke-dasharray="0.9 1.6"/><path d="M625.3 541.5 L625.3 541.5 L625.9 540.8 L626.5 540.8 L627.1 540.8 L627.7 541.5 L628.9 541.5 L629.5 540.6 L630.1 540.7 L630.7 540.5 L631.3 540.6 L631.9 540.7 L632.5 540.6 L633.1 540.4 L633.7 539.6 L634.3 539.2 L634.9 539.2 L635.5 540.1 L636.1 540.7 L636.7 540.7 L637.3 541.5 L649.3 541.5 L649.9 541.0 L650.5 541.0 L651.1 541.5 L657.7 541.5 L658.3 540.7 L658.9 540.7 L659.5 540.7 L660.1 540.7 L660.7 541.5 L673.9 541.5 L674.5 540.8 L675.1 540.8 L675.7 540.8 L676.3 540.8 L676.9 541.5 L676.9 541.5 Z M667.9 541.5 h1.3 v-0.8 h-1.3 Z M671.0 541.5 h1.7 v-1.3 h-1.7 Z M636.1 541.5 h1.8 v-0.9 h-1.8 Z M630.3 541.5 h1.6 v-0.5 h-1.6 Z M630.8 541.5 h0.6 v-1.1 h-0.6 Z" fill="#a26f17"/><line x1="624.7" y1="541.15" x2="685" y2="541.15" stroke="#a26f17" stroke-width="0.7" stroke-opacity="0.14" stroke-dasharray="0.9 1.6"/><path d="M624.7 550.4 L624.7 549.7 L625.3 549.7 L625.9 549.7 L626.5 550.4 L631.9 550.4 L632.5 549.4 L633.1 549.1 L633.7 548.7 L634.3 548.7 L634.9 549.2 L635.5 550.4 L638.5 550.4 L639.1 549.8 L639.7 549.8 L640.3 549.8 L640.9 549.8 L641.5 550.4 L654.7 550.4 L655.3 549.6 L655.9 549.6 L656.5 549.6 L657.1 549.6 L657.7 550.4 L666.1 550.4 L666.7 549.9 L667.3 549.9 L667.9 550.4 L677.5 550.4 L678.1 549.9 L678.7 549.9 L679.3 550.4 L679.3 550.4 Z M672.0 550.4 h2.8 v-1.0 h-2.8 Z M648.9 550.4 h2.1 v-0.8 h-2.1 Z M649.5 550.4 h0.8 v-1.4 h-0.8 Z M680.2 550.4 h1.8 v-0.9 h-1.8 Z M680.8 550.4 h0.7 v-1.5 h-0.7 Z" fill="#a26f17"/><line x1="624.7" y1="550.05" x2="685" y2="550.05" stroke="#a26f17" stroke-width="0.7" stroke-opacity="0.14" stroke-dasharray="0.9 1.6"/><path d="M624.7 559.3 L624.7 558.6 L625.3 558.6 L625.9 558.6 L626.5 558.6 L627.1 559.3 L631.3 559.3 L631.9 558.5 L632.5 558.1 L633.1 557.5 L633.7 557.0 L634.3 556.6 L634.9 556.7 L635.5 557.8 L636.1 558.4 L636.7 558.8 L637.3 558.8 L637.9 558.8 L638.5 558.8 L639.1 559.3 L651.1 559.3 L651.7 558.7 L652.3 558.7 L652.9 558.7 L653.5 559.3 L666.1 559.3 L666.7 558.5 L667.3 558.5 L667.9 559.3 L672.1 559.3 L672.7 558.7 L673.3 558.7 L673.9 558.7 L674.5 558.7 L675.1 559.3 L675.1 559.3 Z M670.3 559.3 h2.6 v-1.2 h-2.6 Z M676.0 559.3 h3.1 v-1.3 h-3.1 Z" fill="#a26f17"/><line x1="624.7" y1="558.95" x2="685" y2="558.95" stroke="#a26f17" stroke-width="0.7" stroke-opacity="0.14" stroke-dasharray="0.9 1.6"/></g>
<rect x="624.7" y="562.05" width="60.3" height="1.3" fill="#d2d2d2"/>
<line x1="631.5" y1="565.4" x2="679" y2="565.4" stroke="#b4b4f6" stroke-width="0.7"/>
<rect x="631.5" y="564.47" width="1.5" height="1.87" fill="#2323d6"/>
<rect x="635" y="564.38" width="1.2" height="2.04" fill="#2323d6"/>
<rect x="637.5" y="564.38" width="2" height="2.04" fill="#2323d6"/>
<rect x="641.5" y="564.29" width="8.5" height="2.21" fill="#2323d6"/>
<rect x="668.5" y="564.29" width="7.5" height="2.21" fill="#2323d6"/>
<rect x="676" y="564.89" width="3" height="1.02" fill="#2323d6"/>
<text x="652.8" y="577.3" font-size="9.5" textLength="21.4" lengthAdjust="spacingAndGlyphs" text-anchor="middle" font-style="italic" stroke="#231f20">CALR</text>
<text x="350.2" y="585.2" font-size="12" font-weight="bold" fill="#000">g</text>
<text x="366.6" y="592.2" font-size="9.1" textLength="97" lengthAdjust="spacingAndGlyphs" stroke="#231f20">Inflammatory responses</text>
<text x="366.1" y="613.2" font-size="8.9" textLength="30.7" lengthAdjust="spacingAndGlyphs" fill="#22a3a8" stroke="#22a3a8">Healthy</text>
<text x="366.1" y="622.8" font-size="8.9" textLength="28.9" lengthAdjust="spacingAndGlyphs" fill="#22a3a8" stroke="#22a3a8">control</text>
<line x1="401.4" y1="605.5" x2="401.4" y2="623.6" stroke="#22a3a8" stroke-width="0.9"/>
<text x="366.2" y="658" font-size="8.9" textLength="22.2" lengthAdjust="spacingAndGlyphs" fill="#ae822e" stroke="#ae822e">ARDS</text>
<text x="366.2" y="667.6" font-size="8.9" textLength="31.6" lengthAdjust="spacingAndGlyphs" fill="#ae822e" stroke="#ae822e">survivor</text>
<line x1="401.4" y1="632.2" x2="401.4" y2="686" stroke="#ae822e" stroke-width="0.9"/>
<g><path d="M425.7 605.6 L425.7 605.6 L426.3 604.7 L426.9 602.1 L427.5 598.8 L428.1 602.0 L428.7 604.7 L429.3 605.6 L429.3 605.6 Z M427.8 605.6 h0.7 v-0.5 h-0.7 Z M464.8 605.6 h1.1 v-0.8 h-1.1 Z M468.2 605.6 h1.0 v-0.4 h-1.0 Z M446.7 605.6 h1.0 v-0.7 h-1.0 Z M446.7 605.6 h0.8 v-0.8 h-0.8 Z M419.5 605.6 h2.0 v-0.7 h-2.0 Z" fill="#0f9898"/><line x1="410.1" y1="605.25" x2="470" y2="605.25" stroke="#0f9898" stroke-width="0.7" stroke-opacity="0.25" stroke-dasharray="0.9 1.6"/><path d="M425.7 614.5 L425.7 614.5 L426.3 613.8 L426.9 611.6 L427.5 609.1 L428.1 611.2 L428.7 613.8 L429.3 614.5 L429.3 614.5 Z M415.4 614.5 h2.0 v-0.8 h-2.0 Z M451.6 614.5 h1.8 v-0.7 h-1.8 Z M449.2 614.5 h1.9 v-0.8 h-1.9 Z M425.4 614.5 h1.8 v-0.8 h-1.8 Z M426.6 614.5 h1.3 v-0.6 h-1.3 Z M461.6 614.5 h1.7 v-0.8 h-1.7 Z" fill="#0f9898"/><line x1="410.1" y1="614.15" x2="470" y2="614.15" stroke="#0f9898" stroke-width="0.7" stroke-opacity="0.25" stroke-dasharray="0.9 1.6"/><path d="M425.7 623.4 L425.7 623.4 L426.3 622.7 L426.9 620.3 L427.5 618.6 L428.1 620.6 L428.7 622.8 L429.3 623.4 L429.3 623.4 Z M410.7 623.4 h1.5 v-0.5 h-1.5 Z M444.3 623.4 h2.1 v-0.5 h-2.1 Z M451.9 623.4 h1.4 v-0.8 h-1.4 Z M456.3 623.4 h1.0 v-0.8 h-1.0 Z M455.5 623.4 h1.7 v-0.8 h-1.7 Z" fill="#0f9898"/><line x1="410.1" y1="623.05" x2="470" y2="623.05" stroke="#0f9898" stroke-width="0.7" stroke-opacity="0.25" stroke-dasharray="0.9 1.6"/><path d="M417.9 632.3 L417.9 632.3 L418.5 631.8 L419.1 631.8 L419.7 631.8 L420.3 632.3 L426.3 632.3 L426.9 631.1 L427.5 631.3 L428.1 632.3 L428.7 631.6 L429.3 631.6 L429.9 631.6 L430.5 632.3 L443.7 632.3 L444.3 631.7 L444.9 631.7 L445.5 631.7 L446.1 631.7 L446.7 632.3 L458.1 632.3 L458.7 631.7 L459.3 631.7 L459.9 632.3 L468.3 632.3 L468.9 631.8 L469.5 631.8 L469.5 632.3 Z M430.8 632.3 h1.1 v-1.4 h-1.1 Z M441.8 632.3 h3.1 v-0.6 h-3.1 Z M444.0 632.3 h2.5 v-1.3 h-2.5 Z" fill="#a26f17"/><line x1="410.1" y1="631.95" x2="470" y2="631.95" stroke="#a26f17" stroke-width="0.7" stroke-opacity="0.14" stroke-dasharray="0.9 1.6"/><path d="M413.1 641.2 L413.1 641.2 L413.7 640.5 L414.3 640.5 L414.9 641.2 L422.7 641.2 L423.3 640.5 L423.9 640.5 L424.5 640.5 L425.1 641.2 L425.7 640.1 L426.3 639.1 L426.9 640.0 L427.5 641.2 L434.7 641.2 L435.3 640.7 L435.9 640.7 L436.5 640.7 L437.1 641.2 L448.5 641.2 L449.1 640.6 L449.7 640.6 L450.3 640.6 L450.9 640.6 L451.5 641.2 L455.7 641.2 L456.3 640.6 L456.9 640.6 L457.5 640.6 L458.1 640.6 L458.7 641.2 L465.9 641.2 L466.5 640.5 L467.1 640.5 L467.7 640.5 L468.3 641.2 L468.3 641.2 Z M442.5 641.2 h2.3 v-0.6 h-2.3 Z M468.3 641.2 h0.9 v-0.9 h-0.9 Z M446.0 641.2 h2.0 v-1.5 h-2.0 Z" fill="#a26f17"/><line x1="410.1" y1="640.85" x2="470" y2="640.85" stroke="#a26f17" stroke-width="0.7" stroke-opacity="0.14" stroke-dasharray="0.9 1.6"/><path d="M410.1 650.1 L410.1 650.1 L410.7 649.3 L411.3 649.3 L411.9 650.1 L422.7 650.1 L423.3 649.4 L423.9 649.4 L424.5 650.1 L427.5 650.1 L428.1 648.6 L428.7 648.0 L429.3 649.3 L429.9 650.1 L431.7 650.1 L432.3 649.6 L432.9 649.6 L433.5 649.6 L434.1 650.1 L443.7 650.1 L444.3 649.3 L444.9 649.3 L445.5 650.1 L451.5 650.1 L452.1 649.6 L452.7 649.6 L453.3 649.6 L453.9 650.1 L457.5 650.1 L458.1 649.5 L458.7 649.5 L459.3 650.1 L459.3 650.1 Z M411.4 650.1 h1.4 v-1.1 h-1.4 Z M466.8 650.1 h1.1 v-1.0 h-1.1 Z M434.5 650.1 h1.5 v-0.6 h-1.5 Z" fill="#a26f17"/><line x1="410.1" y1="649.75" x2="470" y2="649.75" stroke="#a26f17" stroke-width="0.7" stroke-opacity="0.14" stroke-dasharray="0.9 1.6"/><path d="M411.3 659.0 L411.3 659.0 L411.9 658.2 L412.5 658.2 L413.1 658.2 L413.7 658.2 L414.3 659.0 L422.7 659.0 L423.3 658.2 L423.9 658.2 L424.5 659.0 L428.1 659.0 L428.7 657.1 L429.3 657.2 L429.9 659.0 L433.5 659.0 L434.1 658.3 L434.7 658.3 L435.3 658.3 L435.9 659.0 L452.7 659.0 L453.3 658.5 L453.9 658.5 L454.5 659.0 L466.5 659.0 L467.1 658.2 L467.7 658.2 L468.3 658.2 L468.9 659.0 L468.9 659.0 Z M421.7 659.0 h1.7 v-1.0 h-1.7 Z M418.3 659.0 h2.6 v-1.4 h-2.6 Z M430.7 659.0 h1.4 v-0.9 h-1.4 Z M431.1 659.0 h0.5 v-1.5 h-0.5 Z" fill="#a26f17"/><line x1="410.1" y1="658.65" x2="470" y2="658.65" stroke="#a26f17" stroke-width="0.7" stroke-opacity="0.14" stroke-dasharray="0.9 1.6"/><path d="M410.7 667.9 L410.7 667.9 L411.3 667.4 L411.9 667.4 L412.5 667.9 L420.3 667.9 L420.9 667.1 L421.5 667.1 L422.1 667.9 L425.7 667.9 L426.3 667.4 L426.9 667.4 L427.5 667.4 L428.1 667.0 L428.7 666.7 L429.3 667.9 L433.5 667.9 L434.1 667.1 L434.7 667.1 L435.3 667.9 L440.7 667.9 L441.3 667.2 L441.9 667.2 L442.5 667.9 L447.3 667.9 L447.9 667.1 L448.5 667.1 L449.1 667.9 L456.9 667.9 L457.5 667.4 L458.1 667.4 L458.7 667.9 L463.5 667.9 L464.1 667.3 L464.7 667.3 L465.3 667.9 L465.3 667.9 Z M431.0 667.9 h2.5 v-0.9 h-2.5 Z M431.8 667.9 h1.0 v-1.5 h-1.0 Z M430.1 667.9 h1.2 v-1.0 h-1.2 Z M463.1 667.9 h3.2 v-1.1 h-3.2 Z M423.3 667.9 h2.4 v-1.3 h-2.4 Z M424.0 667.9 h1.0 v-1.9 h-1.0 Z" fill="#a26f17"/><line x1="410.1" y1="667.55" x2="470" y2="667.55" stroke="#a26f17" stroke-width="0.7" stroke-opacity="0.14" stroke-dasharray="0.9 1.6"/><path d="M410.1 676.8 L410.1 676.1 L410.7 676.1 L411.3 676.1 L411.9 676.1 L412.5 676.8 L421.5 676.8 L422.1 676.2 L422.7 676.2 L423.3 676.2 L423.9 676.2 L424.5 676.8 L426.9 676.8 L427.5 675.7 L428.1 675.2 L428.7 676.8 L431.7 676.8 L432.3 676.2 L432.9 676.2 L433.5 676.2 L434.1 676.8 L444.9 676.8 L445.5 676.2 L446.1 676.2 L446.7 676.2 L447.3 676.8 L459.3 676.8 L459.9 676.2 L460.5 676.2 L461.1 676.2 L461.7 676.2 L462.3 676.8 L462.3 676.8 Z M416.8 676.8 h2.5 v-1.0 h-2.5 Z M464.8 676.8 h2.6 v-1.1 h-2.6 Z M465.6 676.8 h1.0 v-1.7 h-1.0 Z M435.2 676.8 h3.1 v-1.0 h-3.1 Z M459.4 676.8 h1.7 v-1.1 h-1.7 Z" fill="#a26f17"/><line x1="410.1" y1="676.45" x2="470" y2="676.45" stroke="#a26f17" stroke-width="0.7" stroke-opacity="0.14" stroke-dasharray="0.9 1.6"/><path d="M410.1 685.7 L410.1 685.7 L410.7 684.9 L411.3 684.9 L411.9 684.9 L412.5 685.7 L423.3 685.7 L423.9 684.9 L424.5 684.9 L425.1 685.7 L426.9 685.7 L427.5 684.7 L428.1 684.9 L428.7 685.7 L431.1 685.7 L431.7 685.0 L432.3 685.0 L432.9 685.7 L437.7 685.7 L438.3 684.9 L438.9 684.9 L439.5 684.9 L440.1 685.7 L444.9 685.7 L445.5 685.2 L446.1 685.2 L446.7 685.7 L468.3 685.7 L468.9 685.0 L469.5 685.0 L469.5 685.7 Z M468.4 685.7 h1.6 v-0.5 h-1.6 Z M438.6 685.7 h1.1 v-1.2 h-1.1 Z" fill="#a26f17"/><line x1="410.1" y1="685.35" x2="470" y2="685.35" stroke="#a26f17" stroke-width="0.7" stroke-opacity="0.14" stroke-dasharray="0.9 1.6"/></g>
<rect x="410.1" y="688.45" width="59.9" height="1.3" fill="#d2d2d2"/>
<line x1="426" y1="691.8" x2="470" y2="691.8" stroke="#b4b4f6" stroke-width="0.7"/>
<rect x="441" y="690.87" width="1" height="1.87" fill="#2323d6"/>
<rect x="444" y="690.87" width="1" height="1.87" fill="#2323d6"/>
<rect x="447" y="690.87" width="1" height="1.87" fill="#2323d6"/>
<rect x="450" y="690.87" width="1.2" height="1.87" fill="#2323d6"/>
<rect x="453" y="690.87" width="1" height="1.87" fill="#2323d6"/>
<rect x="460" y="690.87" width="1" height="1.87" fill="#2323d6"/>
<rect x="465.5" y="690.78" width="2.5" height="2.04" fill="#2323d6"/>
<rect x="468" y="691.21" width="2" height="1.19" fill="#2323d6"/>
<text x="437.7" y="703.7" font-size="9.5" textLength="29.4" lengthAdjust="spacingAndGlyphs" text-anchor="middle" font-style="italic" stroke="#231f20">IFNAR2</text>
<g><path d="M490.1 605.6 L490.1 605.6 L490.7 605.4 L491.3 605.3 L491.9 605.3 L492.5 605.3 L493.1 605.4 L493.7 605.4 L494.3 605.6 L506.3 605.6 L506.9 605.4 L507.5 605.4 L508.1 605.3 L508.7 605.3 L509.3 605.3 L509.9 605.3 L510.5 605.4 L511.1 605.4 L511.7 605.6 L515.9 605.6 L516.5 605.4 L517.1 605.3 L517.7 605.2 L518.3 605.1 L518.9 604.8 L519.5 604.8 L520.1 604.5 L520.7 604.2 L521.3 603.7 L521.9 603.2 L522.5 602.4 L523.1 602.2 L523.7 601.7 L524.3 600.8 L524.9 600.6 L525.5 600.3 L526.1 598.8 L526.7 599.7 L527.3 599.1 L527.9 599.2 L528.5 598.4 L529.1 599.4 L529.7 599.9 L530.3 600.0 L530.9 600.2 L531.5 600.6 L532.1 601.7 L532.7 601.6 L533.3 602.3 L533.9 603.0 L534.5 603.6 L535.1 603.8 L535.7 604.2 L536.3 604.7 L536.9 604.9 L537.5 605.1 L538.1 605.3 L538.7 605.3 L539.3 605.4 L539.9 605.6 L539.9 605.6 Z M499.5 605.6 h0.7 v-0.7 h-0.7 Z M518.4 605.6 h1.7 v-0.5 h-1.7 Z M518.1 605.6 h1.7 v-0.5 h-1.7 Z M537.1 605.6 h1.2 v-0.4 h-1.2 Z M537.6 605.6 h0.9 v-0.4 h-0.9 Z M505.0 605.6 h0.7 v-0.5 h-0.7 Z M510.1 605.6 h1.7 v-0.6 h-1.7 Z M483.2 605.6 h0.7 v-0.6 h-0.7 Z M491.1 605.6 h1.3 v-0.7 h-1.3 Z" fill="#0f9898"/><line x1="482.3" y1="605.25" x2="540.9" y2="605.25" stroke="#0f9898" stroke-width="0.7" stroke-opacity="0.25" stroke-dasharray="0.9 1.6"/><path d="M488.9 614.5 L488.9 614.5 L489.5 614.3 L490.1 614.1 L490.7 613.9 L491.3 613.9 L491.9 613.8 L492.5 613.8 L493.1 613.8 L493.7 614.1 L494.3 614.3 L494.9 614.5 L505.1 614.5 L505.7 614.3 L506.3 614.2 L506.9 614.1 L507.5 613.9 L508.1 613.8 L508.7 613.7 L509.3 613.6 L509.9 613.9 L510.5 614.0 L511.1 614.0 L511.7 614.2 L512.3 614.3 L512.9 614.5 L516.5 614.5 L517.1 614.3 L517.7 614.2 L518.3 614.1 L518.9 613.9 L519.5 613.8 L520.1 613.6 L520.7 613.2 L521.3 612.7 L521.9 612.6 L522.5 612.2 L523.1 611.3 L523.7 611.4 L524.3 610.3 L524.9 610.2 L525.5 609.7 L526.1 609.0 L526.7 609.3 L527.3 608.1 L527.9 608.8 L528.5 609.2 L529.1 608.6 L529.7 608.6 L530.3 608.8 L530.9 609.6 L531.5 610.3 L532.1 610.4 L532.7 611.1 L533.3 611.5 L533.9 612.3 L534.5 612.3 L535.1 613.0 L535.7 613.2 L536.3 613.6 L536.9 613.8 L537.5 614.0 L538.1 614.2 L538.7 614.3 L539.3 614.3 L539.9 614.5 L539.9 614.5 Z M496.3 614.5 h1.5 v-0.4 h-1.5 Z M493.9 614.5 h0.7 v-0.6 h-0.7 Z M517.2 614.5 h0.6 v-0.9 h-0.6 Z M494.1 614.5 h0.9 v-0.6 h-0.9 Z M509.7 614.5 h1.2 v-0.8 h-1.2 Z M532.4 614.5 h1.8 v-0.7 h-1.8 Z M530.4 614.5 h1.5 v-0.5 h-1.5 Z" fill="#0f9898"/><line x1="482.3" y1="614.15" x2="540.9" y2="614.15" stroke="#0f9898" stroke-width="0.7" stroke-opacity="0.25" stroke-dasharray="0.9 1.6"/><path d="M489.5 623.4 L489.5 623.4 L490.1 623.1 L490.7 623.0 L491.3 622.8 L491.9 622.9 L492.5 622.9 L493.1 622.9 L493.7 623.1 L494.3 623.2 L494.9 623.4 L505.1 623.4 L505.7 623.2 L506.3 623.2 L506.9 623.0 L507.5 623.0 L508.1 622.9 L508.7 622.8 L509.3 622.8 L509.9 622.9 L510.5 623.0 L511.1 623.1 L511.7 623.2 L512.3 623.2 L512.9 623.4 L515.9 623.4 L516.5 623.2 L517.1 623.2 L517.7 623.1 L518.3 623.0 L518.9 622.7 L519.5 622.5 L520.1 622.4 L520.7 621.8 L521.3 621.6 L521.9 621.0 L522.5 620.8 L523.1 620.4 L523.7 620.0 L524.3 618.9 L524.9 618.8 L525.5 617.5 L526.1 618.2 L526.7 617.0 L527.3 616.5 L527.9 616.9 L528.5 616.2 L529.1 616.4 L529.7 616.5 L530.3 616.7 L530.9 617.1 L531.5 618.7 L532.1 618.9 L532.7 619.1 L533.3 620.0 L533.9 620.8 L534.5 621.4 L535.1 621.5 L535.7 622.2 L536.3 622.4 L536.9 622.6 L537.5 622.8 L538.1 623.0 L538.7 623.1 L539.3 623.2 L539.9 623.4 L539.9 623.4 Z M518.3 623.4 h1.2 v-0.9 h-1.2 Z M523.8 623.4 h1.6 v-0.4 h-1.6 Z M523.0 623.4 h1.2 v-0.6 h-1.2 Z M522.9 623.4 h1.7 v-0.8 h-1.7 Z M493.8 623.4 h2.0 v-0.6 h-2.0 Z M485.1 623.4 h2.0 v-0.5 h-2.0 Z M514.7 623.4 h1.4 v-0.4 h-1.4 Z M499.2 623.4 h0.7 v-0.7 h-0.7 Z" fill="#0f9898"/><line x1="482.3" y1="623.05" x2="540.9" y2="623.05" stroke="#0f9898" stroke-width="0.7" stroke-opacity="0.25" stroke-dasharray="0.9 1.6"/><path d="M482.3 632.3 L482.3 631.6 L482.9 631.6 L483.5 631.6 L484.1 631.6 L484.7 631.6 L485.3 631.6 L485.9 631.6 L486.5 632.3 L496.1 632.3 L496.7 631.7 L497.3 631.7 L497.9 631.7 L498.5 632.3 L505.7 632.3 L506.3 631.5 L506.9 631.5 L507.5 631.5 L508.1 631.5 L508.7 632.3 L521.3 632.3 L521.9 631.7 L522.5 631.7 L523.1 632.3 L523.7 632.3 L524.3 631.4 L524.9 631.3 L525.5 631.2 L526.1 631.3 L526.7 631.3 L527.3 631.1 L527.9 631.2 L528.5 631.3 L529.1 631.3 L529.7 631.4 L530.3 631.3 L530.9 631.3 L531.5 631.5 L532.1 632.3 L535.7 632.3 L536.3 631.8 L536.9 631.8 L537.5 631.8 L538.1 632.3 L538.1 632.3 Z M496.6 632.3 h1.2 v-0.9 h-1.2 Z" fill="#a26f17"/><line x1="482.3" y1="631.95" x2="540.9" y2="631.95" stroke="#a26f17" stroke-width="0.7" stroke-opacity="0.14" stroke-dasharray="0.9 1.6"/><path d="M482.9 641.2 L482.9 641.2 L483.5 640.4 L484.1 640.4 L484.7 640.4 L485.3 641.2 L493.7 641.2 L494.3 640.4 L494.9 640.4 L495.5 640.4 L496.1 641.2 L506.9 641.2 L507.5 640.4 L508.1 640.4 L508.7 640.5 L509.3 641.2 L520.7 641.2 L521.3 640.4 L521.9 640.3 L522.5 640.2 L523.1 639.8 L523.7 639.5 L524.3 639.5 L524.9 639.4 L525.5 639.0 L526.1 638.8 L526.7 638.7 L527.3 639.1 L527.9 638.9 L528.5 638.6 L529.1 638.9 L529.7 638.8 L530.3 639.1 L530.9 639.1 L531.5 639.3 L532.1 639.6 L532.7 640.0 L533.3 640.2 L533.9 640.4 L534.5 641.2 L538.7 641.2 L539.3 640.6 L539.9 640.6 L540.5 640.6 L540.5 641.2 Z M487.1 641.2 h2.0 v-1.0 h-2.0 Z M487.7 641.2 h0.8 v-1.6 h-0.8 Z M487.3 641.2 h1.1 v-0.9 h-1.1 Z M487.7 641.2 h0.4 v-1.5 h-0.4 Z" fill="#a26f17"/><line x1="482.3" y1="640.85" x2="540.9" y2="640.85" stroke="#a26f17" stroke-width="0.7" stroke-opacity="0.14" stroke-dasharray="0.9 1.6"/><path d="M482.3 650.1 L482.3 649.4 L482.9 649.4 L483.5 649.4 L484.1 649.4 L484.7 649.4 L485.3 650.1 L490.1 650.1 L490.7 649.3 L491.3 649.3 L491.9 650.1 L501.5 650.1 L502.1 649.4 L502.7 649.4 L503.3 649.4 L503.9 650.1 L506.3 650.1 L506.9 649.3 L507.5 649.2 L508.1 649.3 L508.7 650.1 L511.7 650.1 L512.3 649.6 L512.9 649.6 L513.5 649.6 L514.1 650.1 L520.7 650.1 L521.3 649.3 L521.9 649.4 L522.5 649.4 L523.1 649.1 L523.7 649.0 L524.3 648.7 L524.9 648.6 L525.5 648.4 L526.1 648.4 L526.7 648.1 L527.3 648.1 L527.9 647.7 L528.5 647.5 L529.1 647.4 L529.7 647.5 L530.3 647.9 L530.9 647.6 L531.5 648.0 L532.1 648.1 L532.7 648.3 L533.3 648.8 L533.9 648.9 L534.5 649.1 L535.1 650.1 L535.1 650.1 Z M512.5 650.1 h2.0 v-0.6 h-2.0 Z" fill="#a26f17"/><line x1="482.3" y1="649.75" x2="540.9" y2="649.75" stroke="#a26f17" stroke-width="0.7" stroke-opacity="0.14" stroke-dasharray="0.9 1.6"/><path d="M482.3 659.0 L482.3 658.3 L482.9 658.3 L483.5 658.3 L484.1 658.3 L484.7 659.0 L493.7 659.0 L494.3 658.4 L494.9 658.4 L495.5 658.4 L496.1 658.4 L496.7 659.0 L503.9 659.0 L504.5 658.4 L505.1 658.4 L505.7 658.4 L506.3 658.3 L506.9 659.0 L507.5 658.1 L508.1 658.2 L508.7 659.0 L520.1 659.0 L520.7 658.4 L521.3 658.4 L521.9 659.0 L523.1 659.0 L523.7 658.0 L524.3 657.9 L524.9 657.7 L525.5 657.2 L526.1 657.0 L526.7 657.1 L527.3 656.5 L527.9 656.7 L528.5 656.1 L529.1 656.1 L529.7 656.5 L530.3 656.5 L530.9 656.7 L531.5 656.4 L532.1 657.0 L532.7 657.3 L533.3 657.5 L533.9 657.5 L534.5 657.9 L535.1 658.1 L535.7 658.2 L536.3 658.4 L536.9 658.5 L537.5 659.0 L537.5 659.0 Z M501.2 659.0 h1.7 v-0.7 h-1.7 Z M501.6 659.0 h1.4 v-1.1 h-1.4 Z M517.2 659.0 h1.4 v-0.9 h-1.4 Z" fill="#a26f17"/><line x1="482.3" y1="658.65" x2="540.9" y2="658.65" stroke="#a26f17" stroke-width="0.7" stroke-opacity="0.14" stroke-dasharray="0.9 1.6"/><path d="M482.3 667.9 L482.3 667.2 L482.9 667.9 L493.1 667.9 L493.7 667.3 L494.3 667.3 L494.9 667.3 L495.5 667.3 L496.1 667.9 L504.5 667.9 L505.1 667.4 L505.7 667.4 L506.3 667.4 L506.9 667.9 L515.9 667.9 L516.5 667.2 L517.1 667.2 L517.7 667.2 L518.3 667.9 L523.1 667.9 L523.7 666.9 L524.3 666.9 L524.9 666.5 L525.5 666.3 L526.1 666.3 L526.7 666.2 L527.3 665.9 L527.9 665.6 L528.5 665.9 L529.1 665.5 L529.7 665.5 L530.3 665.9 L530.9 666.0 L531.5 666.1 L532.1 666.4 L532.7 666.3 L533.3 666.6 L533.9 666.8 L534.5 667.0 L535.1 667.9 L535.7 667.3 L536.3 667.3 L536.9 667.3 L537.5 667.3 L538.1 667.9 L538.1 667.9 Z M503.6 667.9 h1.7 v-0.5 h-1.7 Z M522.7 667.9 h2.2 v-1.2 h-2.2 Z" fill="#a26f17"/><line x1="482.3" y1="667.55" x2="540.9" y2="667.55" stroke="#a26f17" stroke-width="0.7" stroke-opacity="0.14" stroke-dasharray="0.9 1.6"/><path d="M484.1 676.8 L484.1 676.8 L484.7 676.2 L485.3 676.2 L485.9 676.8 L496.1 676.8 L496.7 676.2 L497.3 676.2 L497.9 676.2 L498.5 676.2 L499.1 676.8 L503.9 676.8 L504.5 676.0 L505.1 676.0 L505.7 676.0 L506.3 676.8 L514.1 676.8 L514.7 676.0 L515.3 676.0 L515.9 676.0 L516.5 676.8 L521.3 676.8 L521.9 676.2 L522.5 676.2 L523.1 676.8 L523.7 675.9 L524.3 675.6 L524.9 675.6 L525.5 675.3 L526.1 675.0 L526.7 675.0 L527.3 674.6 L527.9 674.6 L528.5 674.9 L529.1 674.6 L529.7 674.5 L530.3 675.0 L530.9 675.0 L531.5 674.9 L532.1 675.2 L532.7 675.6 L533.3 675.6 L533.9 675.8 L534.5 676.0 L535.1 676.8 L538.1 676.8 L538.7 676.0 L539.3 676.0 L539.9 676.8 L539.9 676.8 Z M511.0 676.8 h1.3 v-0.6 h-1.3 Z M511.4 676.8 h0.5 v-1.2 h-0.5 Z M537.9 676.8 h2.3 v-0.6 h-2.3 Z" fill="#a26f17"/><line x1="482.3" y1="676.45" x2="540.9" y2="676.45" stroke="#a26f17" stroke-width="0.7" stroke-opacity="0.14" stroke-dasharray="0.9 1.6"/><path d="M482.9 685.7 L482.9 685.7 L483.5 685.1 L484.1 685.1 L484.7 685.1 L485.3 685.1 L485.9 685.7 L505.7 685.7 L506.3 684.9 L506.9 685.1 L507.5 685.7 L515.9 685.7 L516.5 685.2 L517.1 685.2 L517.7 685.7 L522.5 685.7 L523.1 684.8 L523.7 684.7 L524.3 684.4 L524.9 684.3 L525.5 684.2 L526.1 684.1 L526.7 684.0 L527.3 684.0 L527.9 683.8 L528.5 683.9 L529.1 683.7 L529.7 683.7 L530.3 684.2 L530.9 684.2 L531.5 684.2 L532.1 684.4 L532.7 684.6 L533.3 684.6 L533.9 684.8 L534.5 685.7 L534.5 685.7 Z M535.8 685.7 h1.3 v-1.4 h-1.3 Z M536.2 685.7 h0.5 v-2.0 h-0.5 Z M502.4 685.7 h1.1 v-1.3 h-1.1 Z M527.1 685.7 h2.8 v-0.7 h-2.8 Z M527.9 685.7 h1.1 v-1.3 h-1.1 Z" fill="#a26f17"/><line x1="482.3" y1="685.35" x2="540.9" y2="685.35" stroke="#a26f17" stroke-width="0.7" stroke-opacity="0.14" stroke-dasharray="0.9 1.6"/></g>
<rect x="482.3" y="688.45" width="58.6" height="1.3" fill="#d2d2d2"/>
<line x1="482.5" y1="691.8" x2="541" y2="691.8" stroke="#b4b4f6" stroke-width="0.7"/>
<rect x="484" y="690.7" width="4.5" height="2.21" fill="#2323d6"/>
<rect x="490" y="690.7" width="3" height="2.21" fill="#2323d6"/>
<rect x="495" y="690.7" width="4" height="2.21" fill="#2323d6"/>
<rect x="501" y="690.7" width="3" height="2.21" fill="#2323d6"/>
<rect x="506" y="690.7" width="5" height="2.21" fill="#2323d6"/>
<rect x="514" y="690.7" width="3" height="2.21" fill="#2323d6"/>
<rect x="519" y="690.7" width="3" height="2.21" fill="#2323d6"/>
<rect x="525" y="690.7" width="2.5" height="2.21" fill="#2323d6"/>
<rect x="534" y="690.78" width="1.5" height="2.04" fill="#2323d6"/>
<rect x="540" y="690.87" width="1" height="1.87" fill="#2323d6"/>
<text x="509.8" y="703.7" font-size="9.5" textLength="17.3" lengthAdjust="spacingAndGlyphs" text-anchor="middle" font-style="italic" stroke="#231f20">IRF7</text>
<g><path d="M558.0 605.6 L558.0 605.6 L558.6 605.4 L559.2 605.3 L559.8 605.0 L560.4 604.6 L561.0 604.0 L561.6 603.2 L562.2 602.5 L562.8 602.5 L563.4 601.3 L564.0 601.6 L564.6 601.8 L565.2 601.0 L565.8 601.8 L566.4 601.7 L567.0 601.2 L567.6 601.0 L568.2 601.2 L568.8 601.7 L569.4 602.0 L570.0 602.5 L570.6 602.5 L571.2 602.2 L571.8 601.7 L572.4 601.6 L573.0 601.4 L573.6 601.2 L574.2 600.8 L574.8 601.2 L575.4 602.2 L576.0 602.2 L576.6 602.3 L577.2 601.7 L577.8 602.1 L578.4 602.0 L579.0 602.4 L579.6 602.8 L580.2 602.9 L580.8 603.6 L581.4 604.3 L582.0 604.6 L582.6 605.0 L583.2 605.3 L583.8 605.4 L584.4 605.6 L584.4 605.6 Z M563.2 605.6 h2.0 v-0.9 h-2.0 Z M577.2 605.6 h1.4 v-0.5 h-1.4 Z M555.8 605.6 h1.4 v-0.7 h-1.4 Z M575.8 605.6 h1.1 v-0.6 h-1.1 Z M584.8 605.6 h1.0 v-0.8 h-1.0 Z M556.5 605.6 h2.0 v-0.4 h-2.0 Z M556.5 605.6 h2.0 v-0.8 h-2.0 Z" fill="#0f9898"/><line x1="553.2" y1="605.25" x2="612.4" y2="605.25" stroke="#0f9898" stroke-width="0.7" stroke-opacity="0.25" stroke-dasharray="0.9 1.6"/><path d="M559.2 614.5 L559.2 614.5 L559.8 614.3 L560.4 614.1 L561.0 613.9 L561.6 613.8 L562.2 613.5 L562.8 613.2 L563.4 613.1 L564.0 612.9 L564.6 613.0 L565.2 612.9 L565.8 613.0 L566.4 612.8 L567.0 612.7 L567.6 612.8 L568.2 612.6 L568.8 612.9 L569.4 613.0 L570.0 613.1 L570.6 613.2 L571.2 613.1 L571.8 613.0 L572.4 612.9 L573.0 612.7 L573.6 612.9 L574.2 613.0 L574.8 612.7 L575.4 612.9 L576.0 613.1 L576.6 613.3 L577.2 613.1 L577.8 613.2 L578.4 613.3 L579.0 613.2 L579.6 613.5 L580.2 613.7 L580.8 613.9 L581.4 614.0 L582.0 614.2 L582.6 614.3 L583.2 614.5 L583.2 614.5 Z M603.8 614.5 h0.7 v-0.5 h-0.7 Z M609.5 614.5 h0.8 v-0.7 h-0.8 Z M606.1 614.5 h1.0 v-0.8 h-1.0 Z M560.4 614.5 h1.3 v-0.5 h-1.3 Z M563.2 614.5 h1.2 v-0.9 h-1.2 Z M567.0 614.5 h1.4 v-0.6 h-1.4 Z M557.2 614.5 h1.3 v-0.9 h-1.3 Z" fill="#0f9898"/><line x1="553.2" y1="614.15" x2="612.4" y2="614.15" stroke="#0f9898" stroke-width="0.7" stroke-opacity="0.25" stroke-dasharray="0.9 1.6"/><path d="M558.6 623.4 L558.6 623.4 L559.2 623.2 L559.8 623.0 L560.4 622.8 L561.0 622.4 L561.6 621.9 L562.2 621.4 L562.8 621.5 L563.4 620.7 L564.0 620.5 L564.6 620.8 L565.2 620.8 L565.8 620.4 L566.4 620.6 L567.0 620.3 L567.6 620.1 L568.2 620.3 L568.8 620.6 L569.4 621.0 L570.0 621.3 L570.6 621.4 L571.2 620.9 L571.8 621.0 L572.4 621.1 L573.0 620.4 L573.6 620.8 L574.2 620.5 L574.8 620.9 L575.4 620.8 L576.0 620.9 L576.6 621.2 L577.2 621.2 L577.8 620.9 L578.4 621.4 L579.0 621.3 L579.6 621.3 L580.2 621.8 L580.8 622.3 L581.4 622.5 L582.0 622.7 L582.6 623.0 L583.2 623.2 L583.8 623.4 L583.8 623.4 Z M600.8 623.4 h1.9 v-0.6 h-1.9 Z M559.4 623.4 h2.1 v-0.7 h-2.1 Z M574.6 623.4 h1.0 v-0.9 h-1.0 Z M583.3 623.4 h2.2 v-0.5 h-2.2 Z M606.3 623.4 h0.7 v-0.5 h-0.7 Z M587.8 623.4 h0.8 v-0.7 h-0.8 Z M579.7 623.4 h1.1 v-0.6 h-1.1 Z M608.4 623.4 h0.7 v-0.6 h-0.7 Z" fill="#0f9898"/><line x1="553.2" y1="623.05" x2="612.4" y2="623.05" stroke="#0f9898" stroke-width="0.7" stroke-opacity="0.25" stroke-dasharray="0.9 1.6"/><path d="M553.2 632.3 L553.2 631.6 L553.8 631.6 L554.4 631.6 L555.0 631.6 L555.6 631.6 L556.2 632.3 L567.6 632.3 L568.2 631.6 L568.8 631.7 L569.4 632.3 L577.8 632.3 L578.4 631.8 L579.0 631.8 L579.6 631.8 L580.2 631.8 L580.8 632.3 L587.4 632.3 L588.0 631.8 L588.6 631.8 L589.2 631.8 L589.8 632.3 L605.4 632.3 L606.0 631.8 L606.6 631.8 L607.2 632.3 L607.2 632.3 Z M576.2 632.3 h2.1 v-0.9 h-2.1 Z" fill="#a26f17"/><line x1="553.2" y1="631.95" x2="612.4" y2="631.95" stroke="#a26f17" stroke-width="0.7" stroke-opacity="0.14" stroke-dasharray="0.9 1.6"/><path d="M564.6 641.2 L564.6 641.2 L565.2 640.5 L565.8 640.5 L566.4 640.5 L567.0 641.2 L580.2 641.2 L580.8 640.4 L581.4 640.4 L582.0 640.4 L582.6 641.2 L596.4 641.2 L597.0 640.7 L597.6 640.7 L598.2 640.7 L598.8 641.2 L609.6 641.2 L610.2 640.6 L610.8 640.6 L611.4 641.2 L611.4 641.2 Z M572.3 641.2 h1.3 v-0.9 h-1.3 Z M572.6 641.2 h0.5 v-1.5 h-0.5 Z" fill="#a26f17"/><line x1="553.2" y1="640.85" x2="612.4" y2="640.85" stroke="#a26f17" stroke-width="0.7" stroke-opacity="0.14" stroke-dasharray="0.9 1.6"/><path d="M553.8 650.1 L553.8 650.1 L554.4 649.4 L555.0 649.4 L555.6 650.1 L567.6 650.1 L568.2 649.6 L568.8 650.1 L579.0 650.1 L579.6 649.5 L580.2 649.5 L580.8 650.1 L587.4 650.1 L588.0 649.4 L588.6 649.4 L589.2 649.4 L589.8 650.1 L597.6 650.1 L598.2 649.5 L598.8 649.5 L599.4 649.5 L600.0 650.1 L607.2 650.1 L607.8 649.6 L608.4 649.6 L609.0 650.1 L609.0 650.1 Z M570.7 650.1 h1.1 v-0.9 h-1.1 Z" fill="#a26f17"/><line x1="553.2" y1="649.75" x2="612.4" y2="649.75" stroke="#a26f17" stroke-width="0.7" stroke-opacity="0.14" stroke-dasharray="0.9 1.6"/><path d="M557.4 659.0 L557.4 659.0 L558.0 658.3 L558.6 658.3 L559.2 658.3 L559.8 658.3 L560.4 659.0 L568.2 659.0 L568.8 658.1 L569.4 658.1 L570.0 659.0 L570.6 658.2 L571.2 659.0 L571.8 658.2 L572.4 658.0 L573.0 658.1 L573.6 658.0 L574.2 658.1 L574.8 658.1 L575.4 659.0 L581.4 659.0 L582.0 658.5 L582.6 658.5 L583.2 659.0 L586.8 659.0 L587.4 658.2 L588.0 658.2 L588.6 659.0 L601.2 659.0 L601.8 658.4 L602.4 658.4 L603.0 659.0 L603.0 659.0 Z M558.6 659.0 h2.7 v-0.9 h-2.7 Z M559.5 659.0 h1.1 v-1.5 h-1.1 Z" fill="#a26f17"/><line x1="553.2" y1="658.65" x2="612.4" y2="658.65" stroke="#a26f17" stroke-width="0.7" stroke-opacity="0.14" stroke-dasharray="0.9 1.6"/><path d="M553.2 667.9 L553.2 667.2 L553.8 667.2 L554.4 667.2 L555.0 667.2 L555.6 667.2 L556.2 667.9 L564.0 667.9 L564.6 666.9 L565.2 667.0 L565.8 666.9 L566.4 667.1 L567.0 667.1 L567.6 667.9 L568.2 667.1 L568.8 667.9 L573.0 667.9 L573.6 667.0 L574.2 667.0 L574.8 666.9 L575.4 667.1 L576.0 666.9 L576.6 667.9 L577.2 667.9 L577.8 667.3 L578.4 667.2 L579.0 667.9 L583.2 667.9 L583.8 667.3 L584.4 667.3 L585.0 667.3 L585.6 667.3 L586.2 667.9 L594.6 667.9 L595.2 667.3 L595.8 667.3 L596.4 667.3 L597.0 667.9 L608.4 667.9 L609.0 667.4 L609.6 667.4 L610.2 667.9 L610.2 667.9 Z M554.3 667.9 h2.1 v-1.2 h-2.1 Z M555.0 667.9 h0.9 v-1.8 h-0.9 Z" fill="#a26f17"/><line x1="553.2" y1="667.55" x2="612.4" y2="667.55" stroke="#a26f17" stroke-width="0.7" stroke-opacity="0.14" stroke-dasharray="0.9 1.6"/><path d="M556.2 676.8 L556.2 676.8 L556.8 676.0 L557.4 676.0 L558.0 676.8 L567.0 676.8 L567.6 676.2 L568.2 676.1 L568.8 676.1 L569.4 676.1 L570.0 676.8 L579.6 676.8 L580.2 676.1 L580.8 676.1 L581.4 676.1 L582.0 676.8 L589.8 676.8 L590.4 676.1 L591.0 676.1 L591.6 676.1 L592.2 676.8 L606.0 676.8 L606.6 676.0 L607.2 676.0 L607.8 676.0 L608.4 676.0 L609.0 676.8 L609.0 676.8 Z M566.9 676.8 h2.2 v-0.9 h-2.2 Z M572.0 676.8 h2.1 v-1.4 h-2.1 Z M572.6 676.8 h0.8 v-2.0 h-0.8 Z M567.4 676.8 h2.6 v-1.0 h-2.6 Z" fill="#a26f17"/><line x1="553.2" y1="676.45" x2="612.4" y2="676.45" stroke="#a26f17" stroke-width="0.7" stroke-opacity="0.14" stroke-dasharray="0.9 1.6"/><path d="M556.2 685.7 L556.2 685.7 L556.8 685.1 L557.4 685.1 L558.0 685.1 L558.6 685.7 L563.4 685.7 L564.0 685.0 L564.6 685.0 L565.2 685.7 L579.0 685.7 L579.6 685.1 L580.2 685.1 L580.8 685.7 L593.4 685.7 L594.0 685.1 L594.6 685.1 L595.2 685.1 L595.8 685.7 L609.0 685.7 L609.6 685.2 L610.2 685.2 L610.8 685.2 L611.4 685.7 L611.4 685.7 Z M554.2 685.7 h2.0 v-1.5 h-2.0 Z M554.8 685.7 h0.8 v-2.1 h-0.8 Z" fill="#a26f17"/><line x1="553.2" y1="685.35" x2="612.4" y2="685.35" stroke="#a26f17" stroke-width="0.7" stroke-opacity="0.14" stroke-dasharray="0.9 1.6"/></g>
<rect x="553.2" y="688.45" width="59.2" height="1.3" fill="#d2d2d2"/>
<line x1="561" y1="691.8" x2="600" y2="691.8" stroke="#b4b4f6" stroke-width="0.7"/>
<rect x="561" y="690.87" width="2" height="1.87" fill="#2323d6"/>
<rect x="585" y="690.61" width="8.5" height="2.38" fill="#2323d6"/>
<rect x="593.5" y="691.16" width="6.5" height="1.27" fill="#2323d6"/>
<text x="580.9" y="703.7" font-size="9.5" textLength="27.6" lengthAdjust="spacingAndGlyphs" text-anchor="middle" font-style="italic" stroke="#231f20">CXCR2</text>
<g><path d="M644.5 605.6 L644.5 605.6 L645.1 605.4 L645.7 605.3 L646.3 605.3 L646.9 605.1 L647.5 604.9 L648.1 604.8 L648.7 604.8 L649.3 604.6 L649.9 604.4 L650.5 604.5 L651.1 604.3 L651.7 604.5 L652.3 604.4 L652.9 604.7 L653.5 604.8 L654.1 604.7 L654.7 604.9 L655.3 605.0 L655.9 605.1 L656.5 605.0 L657.1 605.0 L657.7 605.1 L658.3 605.1 L658.9 604.9 L659.5 604.9 L660.1 604.8 L660.7 604.6 L661.3 604.4 L661.9 604.5 L662.5 604.2 L663.1 604.0 L663.7 604.0 L664.3 603.8 L664.9 603.5 L665.5 603.5 L666.1 603.4 L666.7 603.4 L667.3 603.4 L667.9 603.2 L668.5 603.5 L669.1 603.2 L669.7 603.4 L670.3 603.0 L670.9 603.6 L671.5 603.3 L672.1 603.7 L672.7 603.8 L673.3 603.5 L673.9 603.5 L674.5 603.6 L675.1 602.8 L675.7 601.9 L676.3 600.9 L676.9 600.8 L677.5 600.6 L678.1 602.1 L678.7 603.4 L679.3 604.1 L679.9 604.7 L680.5 605.1 L681.1 605.3 L681.7 605.3 L681.7 605.6 Z M639.0 605.6 h2.2 v-0.4 h-2.2 Z M648.8 605.6 h1.7 v-0.5 h-1.7 Z M669.2 605.6 h1.4 v-0.9 h-1.4 Z M642.9 605.6 h1.2 v-0.4 h-1.2 Z M629.1 605.6 h1.0 v-0.8 h-1.0 Z M645.9 605.6 h1.5 v-0.9 h-1.5 Z M647.7 605.6 h1.5 v-0.9 h-1.5 Z M642.1 605.6 h1.5 v-0.5 h-1.5 Z M641.9 605.6 h1.0 v-0.6 h-1.0 Z M649.9 605.6 h0.8 v-0.6 h-0.8 Z" fill="#0f9898"/><line x1="624.7" y1="605.25" x2="682" y2="605.25" stroke="#0f9898" stroke-width="0.7" stroke-opacity="0.25" stroke-dasharray="0.9 1.6"/><path d="M646.9 614.5 L646.9 614.5 L647.5 614.3 L648.1 614.3 L648.7 614.3 L649.3 614.2 L649.9 614.2 L650.5 614.2 L651.1 614.2 L651.7 614.2 L652.3 614.2 L652.9 614.2 L653.5 614.2 L654.1 614.3 L654.7 614.3 L655.3 614.3 L655.9 614.3 L656.5 614.3 L657.1 614.3 L657.7 614.2 L658.3 614.2 L658.9 614.1 L659.5 614.1 L660.1 614.0 L660.7 613.9 L661.3 613.8 L661.9 613.8 L662.5 613.6 L663.1 613.6 L663.7 613.4 L664.3 613.5 L664.9 613.2 L665.5 613.3 L666.1 613.1 L666.7 613.0 L667.3 613.0 L667.9 613.2 L668.5 613.1 L669.1 613.0 L669.7 613.1 L670.3 613.0 L670.9 613.0 L671.5 613.3 L672.1 613.2 L672.7 613.3 L673.3 613.4 L673.9 613.1 L674.5 613.0 L675.1 612.2 L675.7 611.7 L676.3 610.7 L676.9 609.6 L677.5 610.6 L678.1 611.3 L678.7 612.7 L679.3 613.3 L679.9 613.9 L680.5 614.2 L681.1 614.3 L681.7 614.3 L681.7 614.5 Z M656.4 614.5 h0.9 v-0.7 h-0.9 Z M638.1 614.5 h1.5 v-0.7 h-1.5 Z M641.1 614.5 h1.7 v-0.4 h-1.7 Z M643.3 614.5 h0.6 v-0.5 h-0.6 Z M630.1 614.5 h0.6 v-0.4 h-0.6 Z M637.1 614.5 h2.1 v-0.9 h-2.1 Z M646.8 614.5 h1.7 v-0.6 h-1.7 Z M672.7 614.5 h1.8 v-0.7 h-1.8 Z M662.0 614.5 h1.8 v-0.5 h-1.8 Z" fill="#0f9898"/><line x1="624.7" y1="614.15" x2="682" y2="614.15" stroke="#0f9898" stroke-width="0.7" stroke-opacity="0.25" stroke-dasharray="0.9 1.6"/><path d="M645.1 623.4 L645.1 623.4 L645.7 623.2 L646.3 623.2 L646.9 623.1 L647.5 623.0 L648.1 622.9 L648.7 622.8 L649.3 622.7 L649.9 622.6 L650.5 622.6 L651.1 622.6 L651.7 622.7 L652.3 622.7 L652.9 622.6 L653.5 622.8 L654.1 622.8 L654.7 622.9 L655.3 623.0 L655.9 623.0 L656.5 623.1 L657.1 623.0 L657.7 623.0 L658.3 622.9 L658.9 622.9 L659.5 622.7 L660.1 622.7 L660.7 622.6 L661.3 622.4 L661.9 622.3 L662.5 622.1 L663.1 621.9 L663.7 621.8 L664.3 622.0 L664.9 621.7 L665.5 621.7 L666.1 621.6 L666.7 621.4 L667.3 621.5 L667.9 621.3 L668.5 621.0 L669.1 621.2 L669.7 621.2 L670.3 621.4 L670.9 621.5 L671.5 621.5 L672.1 621.5 L672.7 621.6 L673.3 621.6 L673.9 621.5 L674.5 621.7 L675.1 621.3 L675.7 620.6 L676.3 619.8 L676.9 620.1 L677.5 620.0 L678.1 621.2 L678.7 621.9 L679.3 622.5 L679.9 622.8 L680.5 623.0 L681.1 623.1 L681.7 623.2 L681.7 623.4 Z M656.0 623.4 h2.1 v-0.7 h-2.1 Z M654.0 623.4 h1.9 v-0.7 h-1.9 Z M659.5 623.4 h1.8 v-0.7 h-1.8 Z M677.1 623.4 h0.8 v-0.6 h-0.8 Z M626.8 623.4 h1.6 v-0.8 h-1.6 Z M675.8 623.4 h0.9 v-0.5 h-0.9 Z" fill="#0f9898"/><line x1="624.7" y1="623.05" x2="682" y2="623.05" stroke="#0f9898" stroke-width="0.7" stroke-opacity="0.25" stroke-dasharray="0.9 1.6"/><path d="M625.9 632.3 L625.9 632.3 L626.5 631.8 L627.1 631.8 L627.7 631.8 L628.3 632.3 L633.7 632.3 L634.3 631.6 L634.9 631.6 L635.5 632.3 L646.3 632.3 L646.9 631.5 L647.5 631.5 L648.1 632.3 L658.9 632.3 L659.5 631.6 L660.1 631.6 L660.7 631.6 L661.3 632.3 L669.1 632.3 L669.7 631.6 L670.3 631.7 L670.9 631.7 L671.5 632.3 L675.7 632.3 L676.3 631.4 L676.9 631.3 L677.5 631.5 L678.1 631.5 L678.7 631.7 L679.3 632.3 L679.3 632.3 Z M663.4 632.3 h1.1 v-0.8 h-1.1 Z M633.2 632.3 h2.5 v-1.1 h-2.5 Z" fill="#a26f17"/><line x1="624.7" y1="631.95" x2="682" y2="631.95" stroke="#a26f17" stroke-width="0.7" stroke-opacity="0.14" stroke-dasharray="0.9 1.6"/><path d="M646.3 641.2 L646.3 641.2 L646.9 640.7 L647.5 640.7 L648.1 640.7 L648.7 640.7 L649.3 641.2 L655.9 641.2 L656.5 640.5 L657.1 640.5 L657.7 640.5 L658.3 641.2 L663.1 641.2 L663.7 640.6 L664.3 640.6 L664.9 640.5 L665.5 640.5 L666.1 640.3 L666.7 641.2 L667.3 641.2 L667.9 640.3 L668.5 640.3 L669.1 641.2 L669.7 640.3 L670.3 641.2 L673.3 641.2 L673.9 640.4 L674.5 640.2 L675.1 640.0 L675.7 639.7 L676.3 639.8 L676.9 640.1 L677.5 640.4 L678.1 641.2 L678.1 641.2 Z M646.3 641.2 h1.8 v-1.3 h-1.8 Z M637.4 641.2 h1.8 v-0.9 h-1.8 Z M673.8 641.2 h2.7 v-0.5 h-2.7 Z M674.6 641.2 h1.1 v-1.1 h-1.1 Z" fill="#a26f17"/><line x1="624.7" y1="640.85" x2="682" y2="640.85" stroke="#a26f17" stroke-width="0.7" stroke-opacity="0.14" stroke-dasharray="0.9 1.6"/><path d="M624.7 650.1 L624.7 649.4 L625.3 649.4 L625.9 650.1 L629.5 650.1 L630.1 649.3 L630.7 649.3 L631.3 649.3 L631.9 650.1 L644.5 650.1 L645.1 649.5 L645.7 649.5 L646.3 649.5 L646.9 650.1 L652.9 650.1 L653.5 649.4 L654.1 649.4 L654.7 649.4 L655.3 650.1 L666.7 650.1 L667.3 649.4 L667.9 649.5 L668.5 649.4 L669.1 650.1 L676.3 650.1 L676.9 649.0 L677.5 648.9 L678.1 649.2 L678.7 649.2 L679.3 649.4 L679.9 649.4 L680.5 650.1 L680.5 650.1 Z M652.5 650.1 h2.0 v-1.0 h-2.0 Z M633.7 650.1 h2.3 v-0.7 h-2.3 Z" fill="#a26f17"/><line x1="624.7" y1="649.75" x2="682" y2="649.75" stroke="#a26f17" stroke-width="0.7" stroke-opacity="0.14" stroke-dasharray="0.9 1.6"/><path d="M637.9 659.0 L637.9 659.0 L638.5 658.3 L639.1 658.3 L639.7 658.3 L640.3 659.0 L661.3 659.0 L661.9 658.5 L662.5 658.5 L663.1 658.5 L663.7 659.0 L669.7 659.0 L670.3 658.3 L670.9 658.3 L671.5 658.3 L672.1 659.0 L676.3 659.0 L676.9 658.2 L677.5 658.2 L678.1 658.3 L678.7 658.4 L679.3 658.5 L679.9 659.0 L679.9 659.0 Z M628.2 659.0 h3.0 v-0.5 h-3.0 Z M641.9 659.0 h2.3 v-0.9 h-2.3 Z M642.6 659.0 h0.9 v-1.5 h-0.9 Z M629.0 659.0 h2.8 v-1.3 h-2.8 Z M629.8 659.0 h1.1 v-1.9 h-1.1 Z M655.4 659.0 h2.0 v-1.5 h-2.0 Z" fill="#a26f17"/><line x1="624.7" y1="658.65" x2="682" y2="658.65" stroke="#a26f17" stroke-width="0.7" stroke-opacity="0.14" stroke-dasharray="0.9 1.6"/><path d="M627.7 667.9 L627.7 667.9 L628.3 667.3 L628.9 667.3 L629.5 667.3 L630.1 667.9 L639.7 667.9 L640.3 667.1 L640.9 667.1 L641.5 667.9 L651.7 667.9 L652.3 667.4 L652.9 667.4 L653.5 667.9 L659.5 667.9 L660.1 667.2 L660.7 667.2 L661.3 667.2 L661.9 667.9 L665.5 667.9 L666.1 667.1 L666.7 667.0 L667.3 667.9 L667.9 667.1 L668.5 667.1 L669.1 667.0 L669.7 666.9 L670.3 667.0 L670.9 667.0 L671.5 667.1 L672.1 667.1 L672.7 666.8 L673.3 666.8 L673.9 666.5 L674.5 666.5 L675.1 666.0 L675.7 666.1 L676.3 666.2 L676.9 666.7 L677.5 667.9 L677.5 667.9 Z M631.9 667.9 h1.3 v-0.8 h-1.3 Z M632.3 667.9 h0.5 v-1.4 h-0.5 Z" fill="#a26f17"/><line x1="624.7" y1="667.55" x2="682" y2="667.55" stroke="#a26f17" stroke-width="0.7" stroke-opacity="0.14" stroke-dasharray="0.9 1.6"/><path d="M636.7 676.8 L636.7 676.8 L637.3 676.0 L637.9 676.0 L638.5 676.8 L643.3 676.8 L643.9 676.0 L644.5 676.0 L645.1 676.8 L658.3 676.8 L658.9 676.3 L659.5 676.3 L660.1 676.3 L660.7 676.3 L661.3 676.8 L666.7 676.8 L667.3 675.9 L667.9 675.9 L668.5 675.8 L669.1 676.8 L669.7 675.8 L670.3 676.8 L670.9 675.9 L671.5 675.9 L672.1 676.0 L672.7 676.8 L673.3 676.0 L673.9 676.1 L674.5 676.8 L675.7 676.8 L676.3 675.7 L676.9 675.5 L677.5 675.3 L678.1 675.3 L678.7 675.8 L679.3 675.9 L679.9 676.8 L679.9 676.8 Z M661.6 676.8 h3.0 v-1.4 h-3.0 Z M654.5 676.8 h2.7 v-1.1 h-2.7 Z M655.3 676.8 h1.1 v-1.7 h-1.1 Z" fill="#a26f17"/><line x1="624.7" y1="676.45" x2="682" y2="676.45" stroke="#a26f17" stroke-width="0.7" stroke-opacity="0.14" stroke-dasharray="0.9 1.6"/><path d="M624.7 685.7 L624.7 685.0 L625.3 685.0 L625.9 685.0 L626.5 685.0 L627.1 685.0 L627.7 685.0 L628.3 685.7 L641.5 685.7 L642.1 685.1 L642.7 685.1 L643.3 685.7 L651.7 685.7 L652.3 685.2 L652.9 685.2 L653.5 685.7 L665.5 685.7 L666.1 685.1 L666.7 685.1 L667.3 685.7 L675.1 685.7 L675.7 684.7 L676.3 684.6 L676.9 684.4 L677.5 684.7 L678.1 684.8 L678.7 685.7 L678.7 685.7 Z M663.8 685.7 h1.3 v-0.6 h-1.3 Z M664.2 685.7 h0.5 v-1.2 h-0.5 Z M680.1 685.7 h2.5 v-1.3 h-2.5 Z" fill="#a26f17"/><line x1="624.7" y1="685.35" x2="682" y2="685.35" stroke="#a26f17" stroke-width="0.7" stroke-opacity="0.14" stroke-dasharray="0.9 1.6"/></g>
<rect x="624.7" y="688.45" width="57.3" height="1.3" fill="#d2d2d2"/>
<line x1="625" y1="691.8" x2="678" y2="691.8" stroke="#b4b4f6" stroke-width="0.7"/>
<rect x="625" y="690.78" width="2.5" height="2.04" fill="#2323d6"/>
<rect x="629" y="690.78" width="2.5" height="2.04" fill="#2323d6"/>
<rect x="632.5" y="690.7" width="5.5" height="2.21" fill="#2323d6"/>
<rect x="641" y="690.78" width="2" height="2.04" fill="#2323d6"/>
<rect x="646" y="690.87" width="2" height="1.87" fill="#2323d6"/>
<rect x="652" y="690.87" width="2.5" height="1.87" fill="#2323d6"/>
<rect x="677" y="690.87" width="1.5" height="1.87" fill="#2323d6"/>
<text x="650.3" y="703.7" font-size="9.5" textLength="39.7" lengthAdjust="spacingAndGlyphs" text-anchor="middle" font-style="italic" stroke="#231f20">TNFRSF1A</text>
</svg></body></html>
